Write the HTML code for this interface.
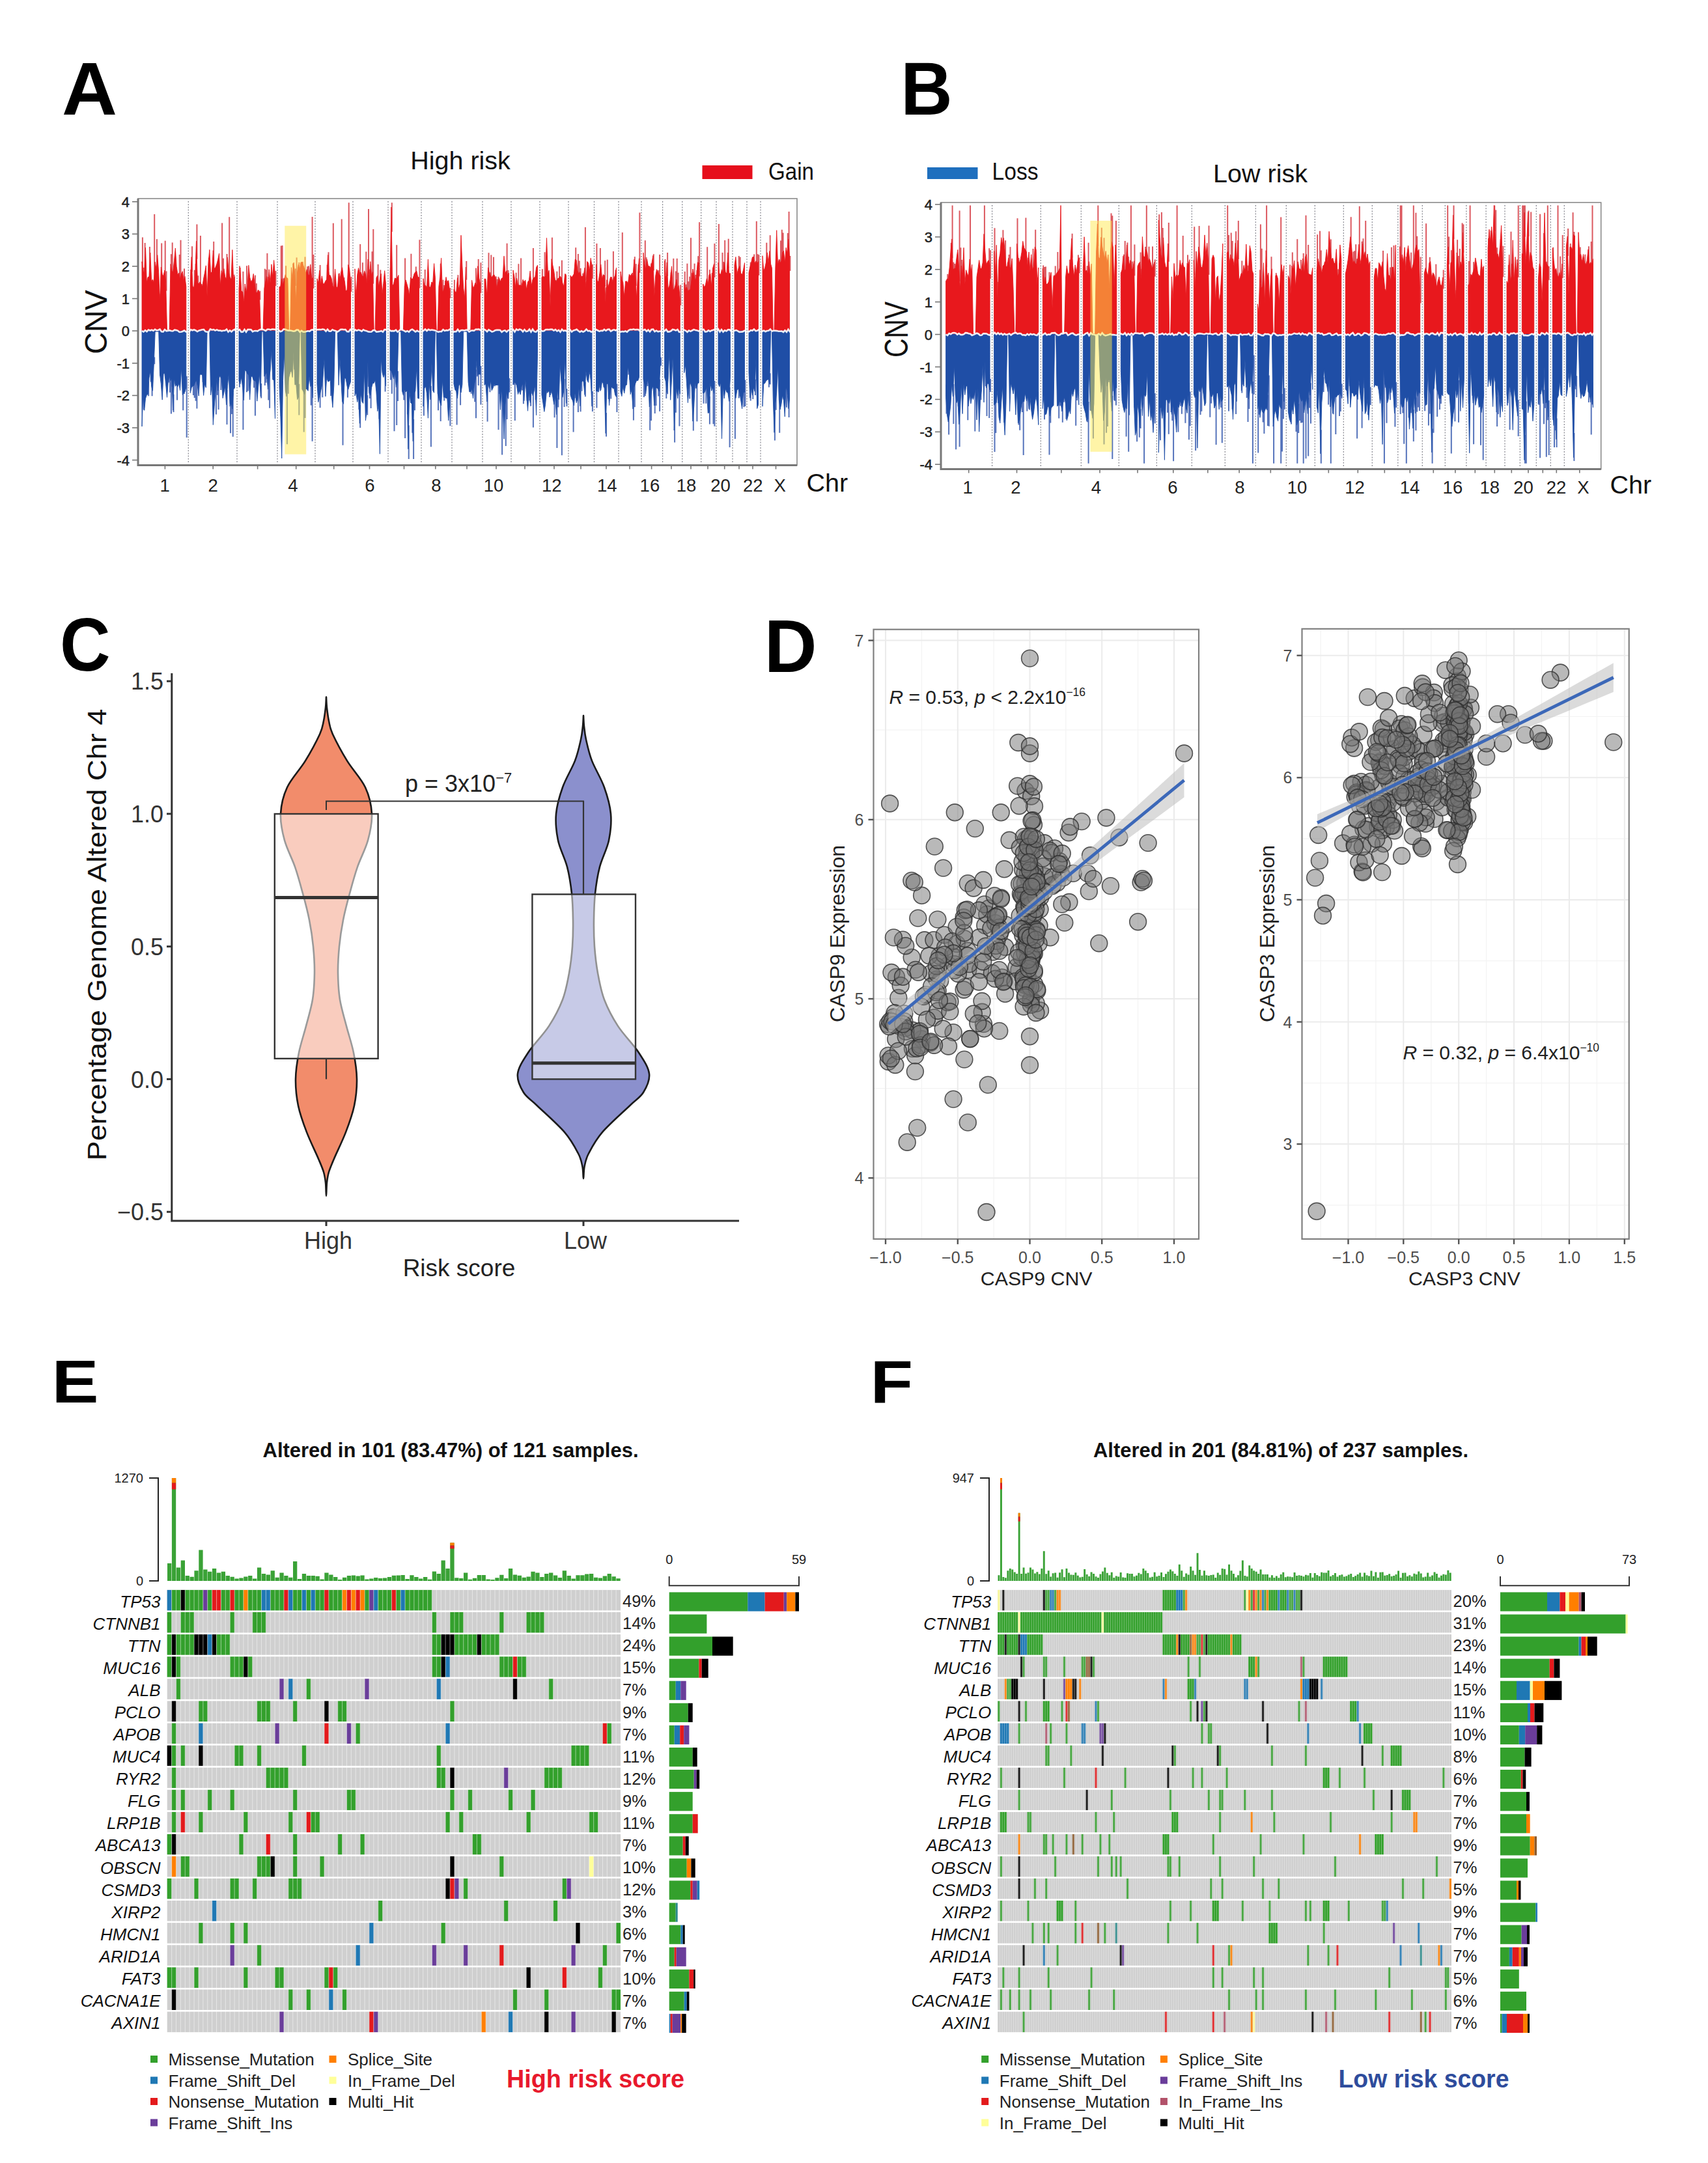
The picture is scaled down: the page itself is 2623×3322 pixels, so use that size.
<!DOCTYPE html>
<html lang="en"><head><meta charset="utf-8"><title>Figure</title>
<style>
html,body{margin:0;padding:0;background:#fff;}
body{width:2623px;height:3322px;overflow:hidden;}
svg{display:block;font-family:"Liberation Sans",sans-serif;}
.pl{font-weight:bold;font-size:105px;fill:#000;}
.g{font-style:italic;font-size:26px;fill:#111;text-anchor:end;}
.pc{font-size:25.5px;fill:#222;}
.lg{font-size:26px;fill:#222;}
.sm{font-size:20px;fill:#222;}
.tk{font-size:25px;fill:#4d4d4d;}
.ax{font-size:31px;fill:#222;}
.ct{font-size:22px;fill:#222;text-anchor:end;stroke:#222;stroke-width:.5px;}
.cx{font-size:27.5px;fill:#222;text-anchor:middle;}
.pt{fill:#747474;fill-opacity:.5;stroke:#2e2e2e;stroke-opacity:.8;stroke-width:1.6;}
</style></head>
<body>
<svg width="2623" height="3322" viewBox="0 0 2623 3322">
<rect x="0" y="0" width="2623" height="3322" fill="#ffffff"/>
<text transform="translate(94.9 176.3) scale(1.020 1)" font-weight="bold" font-size="115.4" fill="#000">A</text>
<text transform="translate(1383.2 176.3) scale(0.953 1)" font-weight="bold" font-size="115.4" fill="#000">B</text>
<text transform="translate(92.1 1029.9) scale(0.938 1)" font-weight="bold" font-size="114.5" fill="#000">C</text>
<text transform="translate(1173.8 1031.5) scale(0.967 1)" font-weight="bold" font-size="115.6" fill="#000">D</text>
<text transform="translate(79.5 2154.0) scale(1.165 1)" font-weight="bold" font-size="92.7" fill="#000">E</text>
<text transform="translate(1336.5 2154.0) scale(1.159 1)" font-weight="bold" font-size="92.7" fill="#000">F</text>
<g><path d="M218.9 423.1V364.4M220.7 434.8V410.9M222.6 436.4V373.1M229.9 441.6V379.0M237.2 449.1V329.1M240.9 432.3V367.3M246.4 472.6V451.4M248.2 429.8V373.6M253.7 433.7V369.8M255.5 446.7V416.4M262.9 426.1V390.3M264.7 434.5V372.4M275.7 436.8V391.1M277.5 444.6V368.8M279.4 438.0V419.9M283.0 446.0V412.4M293.2 448.8V414.1M295.0 417.4V378.3M298.7 454.7V414.7M300.6 444.5V404.9M302.4 397.8V344.5M304.3 448.9V423.2M307.9 447.9V362.1M309.8 450.8V436.2M320.8 426.2V395.7M326.4 435.5V414.9M328.2 409.4V370.9M333.8 426.0V404.7M341.1 434.2V342.4M343.0 439.3V396.8M348.5 445.0V390.1M352.2 436.3V333.2M359.6 447.1V421.8M367.9 456.9V408.5M373.4 460.9V417.1M379.0 460.4V408.2M386.4 448.3V430.4M391.9 450.0V422.8M393.8 460.8V435.2M399.3 460.5V446.8M406.8 456.0V412.7M408.6 447.9V414.2M410.4 441.4V389.0M412.3 453.0V425.3M423.4 439.3V416.0M431.7 453.8V377.5M433.6 444.1V376.9M435.4 451.8V427.5M437.3 445.8V426.7M439.1 439.0V408.3M450.1 445.7V404.6M453.8 439.0V412.4M455.6 474.5V395.5M457.5 435.8V417.5M459.3 426.5V403.1M464.8 423.7V401.9M468.5 432.1V394.6M472.2 432.5V409.3M474.0 439.3V408.4M479.6 444.1V332.9M481.4 442.9V391.0M489.7 449.5V433.2M491.6 433.8V407.1M502.6 445.0V406.8M504.5 415.0V387.2M511.8 452.8V342.7M519.2 456.3V440.7M521.0 438.1V419.4M522.8 445.4V429.4M524.7 435.8V336.6M528.4 442.9V426.0M535.7 426.9V311.3M539.4 448.2V425.0M547.7 469.8V445.1M553.2 436.9V375.0M556.9 440.5V403.2M562.3 438.8V386.6M566.0 420.2V321.0M567.8 446.8V413.8M571.5 440.3V386.3M573.3 435.7V351.9M580.6 440.4V405.9M584.3 444.7V414.4M599.9 448.6V411.2M601.8 356.1V311.3M603.6 454.1V437.3M609.2 444.1V376.2M622.1 453.4V396.4M629.6 464.8V442.6M631.4 442.4V389.7M635.1 443.8V424.8M638.8 435.8V409.6M644.4 442.5V368.2M652.7 452.5V414.0M660.1 454.1V440.3M676.7 442.0V404.7M680.4 460.9V429.7M682.2 458.0V437.9M684.0 453.5V431.1M687.7 449.8V431.1M691.4 457.9V442.2M697.9 457.0V429.7M703.4 442.9V422.3M705.3 458.4V441.3M707.1 450.4V431.6M716.3 429.7V401.0M731.0 448.9V411.7M734.7 428.6V397.9M738.4 450.1V403.3M750.5 430.3V388.3M752.4 437.5V418.3M754.3 440.5V391.5M758.0 440.0V394.7M761.8 442.9V424.5M763.6 456.5V428.8M765.5 449.0V425.0M778.6 434.3V373.7M780.5 439.9V415.0M792.6 455.3V418.7M796.4 451.6V405.2M800.1 452.0V396.6M811.4 448.1V433.1M818.9 445.2V381.0M832.9 442.7V413.2M836.6 442.1V387.2M847.9 419.9V364.7M853.5 446.3V430.0M855.4 447.7V416.7M857.3 444.5V427.2M859.1 443.2V409.1M862.9 442.8V399.8M868.5 438.2V420.5M882.4 438.0V418.7M884.2 420.2V380.2M887.9 434.2V390.0M889.7 437.9V400.4M891.6 435.7V412.1M895.2 441.4V419.8M897.1 440.1V422.3M898.9 430.7V349.1M900.7 455.2V431.4M909.9 428.0V406.0M916.4 426.3V374.0M921.9 437.0V381.1M929.2 440.1V400.3M931.0 474.6V441.2M932.8 445.5V398.7M941.9 447.9V386.0M945.6 440.1V414.4M955.8 445.3V357.0M959.6 466.8V450.3M971.0 438.2V419.1M974.8 420.4V394.2M976.7 439.1V405.3M980.5 437.7V406.3M982.4 419.1V326.6M990.8 426.5V369.2M992.6 432.8V395.3M1000.1 431.3V404.5M1003.8 415.6V390.3M1011.3 435.7V414.9M1013.1 438.9V391.0M1021.5 422.1V397.9M1023.3 447.5V423.5M1025.1 424.1V387.9M1030.6 442.2V418.2M1034.3 456.8V396.9M1037.9 452.2V416.6M1039.7 445.0V397.1M1041.6 456.4V418.8M1045.2 469.0V437.4M1051.7 449.0V417.0M1053.6 458.0V436.8M1055.4 454.1V404.8M1057.3 459.1V432.2M1059.2 458.0V424.8M1061.0 457.5V365.3M1062.9 445.5V419.3M1066.6 438.9V404.7M1068.5 446.5V422.1M1070.4 442.5V414.9M1072.2 423.9V393.3M1074.1 424.6V341.2M1086.2 443.9V379.2M1089.9 439.3V414.2M1093.7 454.2V419.1M1097.4 425.9V374.1M1103.9 424.3V344.1M1109.5 432.8V388.1M1111.3 437.5V402.1M1113.2 424.5V369.0M1118.7 412.0V366.7M1134.7 431.9V392.9M1136.7 428.5V394.7M1152.7 429.7V402.7M1158.2 417.0V390.5M1161.8 422.3V339.8M1163.6 425.1V390.3M1165.4 423.0V391.3M1177.3 424.2V372.8M1182.7 410.0V361.3M1197.2 420.5V398.5M1199.0 424.7V369.4M1200.8 422.5V352.7M1202.6 411.9V357.6M1209.8 413.2V358.0M1211.6 395.5V325.1M1213.4 416.0V393.0" stroke="#dc5960" stroke-width="2" fill="none"/><path d="M218.0 508.2L218.0 401.8L219.8 416.4L221.7 418.4L223.5 380.4L225.3 433.5L227.2 425.6L229.0 425.0L230.8 388.2L232.7 432.2L234.5 429.0L236.3 434.3L238.2 402.3L240.0 413.3L241.8 391.7L243.7 418.5L245.5 463.7L247.3 410.2L249.2 421.3L251.0 423.8L252.8 415.1L254.6 431.3L256.5 507.2L258.3 507.2L260.1 507.2L262.0 405.6L263.8 416.1L265.6 418.1L267.5 400.6L269.3 381.1L271.1 409.3L273.0 421.7L274.8 419.0L276.6 428.8L278.5 420.4L280.3 416.7L282.1 430.4L284.0 424.5L285.8 440.3L285.8 508.2ZM292.3 508.2L292.3 433.9L294.1 394.6L296.0 439.7L297.8 441.4L299.7 428.5L301.5 370.2L303.4 434.1L305.2 436.1L307.0 432.9L308.9 436.4L310.7 440.5L312.6 427.9L314.4 419.0L316.3 407.9L318.1 454.9L319.9 405.6L321.8 383.5L323.6 419.2L325.5 417.3L327.3 384.7L329.2 413.0L331.0 410.4L332.9 405.5L334.7 398.3L336.5 389.3L338.4 439.2L340.2 415.7L342.1 422.1L343.9 412.7L345.8 425.5L347.6 429.1L349.4 395.1L351.3 418.3L353.1 425.6L355.0 429.4L356.8 383.6L358.7 431.9L360.5 424.7L360.5 508.2ZM367.0 508.2L367.0 444.1L368.9 411.0L370.7 446.2L372.6 449.1L374.4 465.1L376.2 436.1L378.1 448.5L379.9 443.0L381.8 407.4L383.6 425.5L385.5 433.3L387.4 431.1L389.2 420.5L391.1 435.4L392.9 449.0L394.8 449.7L396.6 445.0L398.4 448.6L400.3 507.2L402.1 507.2L404.0 507.2L405.9 442.9L407.7 432.9L409.6 424.7L411.4 439.2L413.2 413.8L415.1 435.0L416.9 405.9L418.8 426.1L420.6 399.6L422.5 422.1L422.5 508.2ZM429.0 508.2L429.0 440.4L430.8 440.2L432.7 428.1L434.5 437.7L436.4 430.2L438.2 421.7L440.0 426.3L441.9 427.6L443.7 507.2L445.6 507.2L447.4 410.8L449.2 430.0L451.1 403.3L452.9 421.7L454.8 466.1L456.6 417.7L458.4 406.1L460.3 413.7L462.1 402.9L463.9 402.5L465.8 407.5L467.6 413.1L469.5 419.4L471.3 413.6L473.1 422.0L475.0 423.1L476.8 406.1L478.7 428.1L480.5 426.6L480.5 508.2ZM487.0 508.2L487.0 427.8L488.8 434.8L490.7 415.2L492.5 437.3L494.4 423.9L496.2 436.1L498.0 435.7L499.9 431.4L501.7 429.2L503.6 391.6L505.4 422.5L507.2 422.9L509.1 427.7L510.9 439.0L512.8 441.7L514.6 413.3L516.4 439.3L518.3 443.3L520.1 420.6L521.9 429.7L523.8 417.7L525.6 410.8L527.5 426.6L529.3 432.2L531.1 446.9L533.0 445.6L534.8 406.6L536.7 413.0L538.5 433.2L538.5 508.2ZM545.0 508.2L545.0 412.9L546.8 460.3L548.7 422.2L550.5 411.5L552.3 419.1L554.1 418.0L556.0 423.6L557.8 425.0L559.6 415.8L561.4 421.4L563.3 435.5L565.1 398.2L566.9 431.4L568.8 401.6L570.6 423.4L572.4 417.6L574.2 507.2L576.1 507.2L577.9 426.7L579.7 423.4L581.5 440.2L583.4 428.9L585.2 420.4L587.0 451.3L588.8 435.3L590.7 415.7L592.5 436.2L592.5 508.2ZM599.0 508.2L599.0 433.6L600.9 318.1L602.7 440.5L604.6 435.7L606.4 427.0L608.3 428.1L610.1 426.6L612.0 422.6L613.8 507.2L615.7 507.2L617.5 507.2L619.4 507.2L621.2 439.7L623.1 429.9L625.0 436.4L626.8 443.0L628.7 453.9L630.5 426.0L632.4 428.6L634.2 427.7L636.1 420.5L637.9 417.8L639.8 416.1L641.6 425.2L643.5 426.0L643.5 508.2ZM650.0 508.2L650.0 427.8L651.8 438.5L653.7 438.3L655.5 442.3L657.4 398.3L659.2 440.6L661.0 442.1L662.9 433.1L664.7 434.7L666.6 404.7L668.4 426.9L670.2 507.2L672.1 507.2L673.9 439.8L675.8 425.4L677.6 396.4L679.5 449.0L681.3 445.4L683.1 439.8L685.0 425.5L686.8 435.2L688.7 430.7L690.5 445.3L690.5 508.2ZM697.0 508.2L697.0 444.2L698.8 447.8L700.7 448.9L702.5 426.6L704.4 445.9L706.2 436.0L708.0 361.3L709.9 408.9L711.7 442.4L713.6 457.7L715.4 410.1L717.2 507.2L719.1 507.2L720.9 507.2L722.8 507.2L724.6 430.3L726.5 442.4L728.3 439.6L730.1 434.1L732.0 438.2L733.8 408.7L735.7 427.1L737.5 435.6L737.5 508.2ZM744.0 508.2L744.0 428.2L745.9 428.4L747.8 454.7L749.6 410.9L751.5 419.8L753.4 423.6L755.2 426.2L757.1 423.0L759.0 422.0L760.9 426.6L762.8 443.5L764.6 434.2L766.5 427.0L768.4 432.6L770.2 427.5L772.1 426.7L774.0 393.3L775.9 419.5L777.8 415.8L779.6 422.8L781.5 419.1L781.5 508.2ZM788.0 508.2L788.0 414.9L789.9 425.1L791.8 442.1L793.6 427.3L795.5 437.4L797.4 438.1L799.2 437.9L801.1 439.0L803.0 429.3L804.9 433.3L806.8 430.1L808.6 445.0L810.5 433.1L812.4 430.5L814.2 416.1L816.1 438.9L818.0 429.4L819.9 426.5L821.8 425.4L823.6 410.7L825.5 407.3L825.5 508.2ZM832.0 508.2L832.0 426.3L833.9 424.4L835.8 425.6L837.6 423.5L839.5 365.5L841.4 419.9L843.2 415.2L845.1 470.8L847.0 397.8L848.9 407.7L850.8 416.8L852.6 430.8L854.5 432.6L856.4 428.6L858.2 426.9L860.1 424.2L862.0 426.5L863.9 434.8L865.8 439.8L867.6 420.7L869.5 423.0L869.5 508.2ZM876.0 508.2L876.0 423.1L877.8 426.0L879.7 423.6L881.5 420.4L883.3 398.2L885.2 399.6L887.0 415.7L888.8 420.3L890.7 417.5L892.5 424.6L894.3 424.6L896.2 423.0L898.0 411.3L899.8 442.0L901.7 401.6L903.5 403.6L905.3 416.4L907.2 396.4L909.0 408.0L909.0 508.2ZM915.5 508.2L915.5 405.8L917.3 431.1L919.1 432.6L921.0 419.2L922.8 406.3L924.6 428.8L926.4 421.6L928.3 423.1L930.1 466.3L931.9 429.8L933.7 441.8L935.6 434.6L937.4 425.7L939.2 425.5L941.0 432.9L942.9 426.7L944.7 423.1L946.5 411.4L946.5 508.2ZM953.0 508.2L953.0 417.0L954.9 429.6L956.8 433.7L958.7 456.5L960.6 432.0L962.5 431.9L964.4 435.4L966.3 421.3L968.2 423.7L970.1 420.7L972.0 424.3L973.9 398.4L975.8 421.8L977.7 458.9L979.6 420.1L981.5 396.9L981.5 508.2ZM988.0 508.2L988.0 388.2L989.9 406.0L991.7 413.9L993.6 398.1L995.5 409.3L997.3 408.4L999.2 412.1L1001.0 403.6L1002.9 392.5L1004.8 455.6L1006.6 424.4L1008.5 413.7L1010.4 417.6L1012.2 421.6L1014.1 423.6L1014.1 508.2ZM1020.6 508.2L1020.6 400.6L1022.4 432.3L1024.2 403.1L1026.1 443.5L1027.9 439.1L1029.7 425.6L1031.5 408.9L1033.4 443.9L1035.2 445.0L1037.0 438.3L1038.8 429.2L1040.7 443.4L1042.5 438.5L1044.3 459.2L1044.3 508.2ZM1050.8 508.2L1050.8 434.2L1052.7 445.5L1054.5 440.6L1056.4 446.9L1058.3 445.4L1060.1 444.8L1062.0 429.8L1063.9 413.0L1065.7 421.5L1067.6 431.0L1069.5 426.1L1071.3 402.8L1073.2 403.7L1073.2 508.2ZM1079.7 508.2L1079.7 436.1L1081.6 441.1L1083.4 437.7L1085.3 427.9L1087.2 437.2L1089.0 422.1L1090.9 420.3L1092.8 440.7L1094.6 412.0L1096.5 405.4L1096.5 508.2ZM1103.0 508.2L1103.0 403.3L1104.8 420.3L1106.7 421.6L1108.5 413.9L1110.4 419.8L1112.2 403.5L1114.1 418.0L1116.0 420.0L1117.8 388.0L1119.7 420.0L1121.5 419.7L1121.5 508.2ZM1128.0 508.2L1128.0 407.2L1129.9 394.6L1131.9 420.5L1133.8 412.9L1135.8 408.6L1137.7 419.6L1139.6 422.0L1141.6 414.2L1143.5 403.7L1143.5 508.2ZM1150.0 508.2L1150.0 418.8L1151.8 410.1L1153.6 403.6L1155.4 395.1L1157.2 394.2L1159.1 404.6L1160.9 400.8L1162.7 404.3L1164.5 401.7L1164.5 508.2ZM1171.0 508.2L1171.0 392.8L1172.8 415.8L1174.6 411.4L1176.4 403.2L1178.2 387.9L1180.0 403.7L1181.8 385.5L1183.6 405.4L1185.4 411.5L1187.2 507.2L1189.0 507.2L1190.8 413.8L1192.7 353.7L1194.5 406.3L1196.3 398.5L1198.1 403.8L1199.9 401.1L1201.7 387.8L1203.5 385.1L1205.3 403.6L1207.1 380.4L1208.9 389.4L1210.7 367.3L1212.5 393.0L1212.5 508.2Z" fill="#e8181d" stroke="#e8181d" stroke-width=".9" stroke-linejoin="round"/><path d="M220.7 585.2V629.5M228.1 586.0V608.2M231.7 557.4V586.5M233.6 576.5V608.2M237.2 548.6V559.3M246.4 561.7V577.6M259.2 570.7V587.4M261.0 563.6V602.7M262.9 569.4V635.5M264.7 566.5V594.1M266.5 605.8V633.0M272.0 574.3V614.6M279.4 553.1V568.5M281.2 586.8V630.2M283.0 584.1V604.9M286.7 577.7V672.1M296.9 575.6V607.1M298.7 575.6V611.0M300.6 571.1V615.8M302.4 568.6V627.5M311.6 562.3V587.0M331.9 583.2V636.4M333.8 566.0V606.7M335.6 581.7V629.1M337.4 564.6V579.6M339.3 563.1V598.9M341.1 567.4V586.9M346.7 576.2V605.5M348.5 599.0V652.1M354.0 600.9V665.3M355.9 597.0V636.1M357.7 604.1V670.7M367.9 569.5V594.8M373.4 578.0V660.1M379.0 557.8V602.3M380.8 560.8V600.4M390.1 568.9V595.6M391.9 569.1V638.4M401.2 589.0V611.6M406.8 564.1V591.9M408.6 561.4V587.7M410.4 558.7V582.2M412.3 579.9V614.4M414.1 566.0V626.8M431.7 610.4V638.9M440.9 588.9V682.2M442.8 574.9V604.8M448.3 556.3V570.0M452.0 532.4V567.4M459.3 589.7V637.6M466.7 582.3V663.5M468.5 586.3V642.0M470.4 578.7V598.1M477.7 576.5V622.5M479.6 573.9V677.7M491.6 587.9V626.2M495.3 575.4V610.2M508.1 568.2V607.9M526.5 594.9V683.8M533.9 575.9V610.5M547.7 583.4V605.7M551.4 586.7V629.0M553.2 621.9V657.1M564.2 606.9V637.6M566.0 542.8V594.1M567.8 584.6V612.1M569.6 587.4V627.0M582.4 597.7V643.6M591.6 560.2V601.5M599.9 556.6V583.6M601.8 557.2V604.7M605.5 567.2V662.3M609.2 577.4V653.0M611.0 570.1V616.1M620.3 587.4V614.6M622.1 579.8V672.9M625.9 581.6V636.5M627.7 653.3V705.1M633.3 597.7V664.8M635.1 643.8V705.1M637.0 584.5V630.3M650.9 600.9V638.6M656.4 585.0V607.3M661.9 592.7V686.2M673.0 585.1V630.2M676.7 596.5V647.0M682.2 589.8V615.5M691.4 599.8V654.3M697.9 573.5V589.8M701.6 582.3V652.4M707.1 572.4V622.2M723.7 583.0V604.8M729.2 575.3V617.2M731.0 567.4V642.3M732.9 544.2V578.3M734.7 562.5V592.1M738.4 561.9V621.6M748.6 595.3V647.5M752.4 578.9V602.2M754.3 569.3V585.7M759.9 573.7V593.3M765.5 574.6V660.1M767.4 574.7V604.9M771.1 579.3V698.5M776.8 598.5V684.9M778.6 581.0V644.1M780.5 590.4V612.6M782.4 580.9V602.5M788.9 574.3V591.1M790.8 571.0V646.1M802.0 576.0V599.4M803.9 572.9V620.3M809.5 587.0V615.5M813.3 582.2V615.3M815.1 596.4V623.7M817.0 577.9V604.8M818.9 587.6V656.6M822.6 575.0V614.0M832.9 587.0V606.8M840.4 581.2V603.8M844.1 581.8V610.0M851.6 598.7V641.3M855.4 611.0V688.0M857.3 580.1V625.6M862.9 570.9V699.2M866.6 581.9V624.9M870.4 597.1V624.2M880.6 594.3V663.5M884.2 582.5V611.4M887.9 592.0V632.9M891.6 600.6V632.2M893.4 571.7V600.7M897.1 570.7V592.3M898.9 586.8V609.3M906.2 556.1V575.1M909.9 600.9V631.9M916.4 582.3V626.5M921.9 574.2V600.6M927.3 573.0V594.5M931.0 634.1V670.5M934.6 572.6V613.1M938.3 581.9V612.5M943.8 578.6V597.0M947.4 589.4V632.9M965.3 551.9V575.6M967.2 560.0V583.3M972.9 604.1V645.4M974.8 577.1V625.3M988.9 567.7V610.1M990.8 573.0V608.2M994.5 571.8V593.1M996.4 566.1V588.5M998.2 601.6V660.7M1000.1 590.2V646.1M1003.8 576.0V597.5M1005.7 600.0V635.1M1007.5 578.7V623.1M1011.3 579.4V608.6M1013.1 582.5V631.8M1015.0 548.8V561.7M1023.3 570.4V612.0M1025.1 584.0V605.3M1028.8 532.4V554.2M1034.3 536.1V552.6M1036.1 630.4V679.5M1037.9 591.3V633.7M1043.4 577.6V654.5M1059.2 575.2V612.4M1064.8 619.2V661.6M1068.5 570.7V596.5M1070.4 578.8V647.3M1080.6 584.8V619.7M1084.3 581.2V619.8M1089.9 608.7V651.4M1091.8 571.5V592.9M1095.5 577.5V651.2M1097.4 585.1V654.7M1120.6 594.7V687.1M1128.9 579.6V673.9M1134.7 579.3V611.5M1136.7 584.0V608.4M1138.6 593.4V615.7M1142.5 584.1V625.2M1144.4 583.5V624.0M1152.7 590.6V615.4M1156.3 587.4V612.9M1160.0 582.7V606.9M1161.8 542.1V584.0M1180.9 567.6V594.7M1182.7 573.3V590.5M1189.9 633.0V676.6M1191.7 596.9V629.7M1197.2 592.9V664.8M1208.0 577.2V625.8M1209.8 581.4V605.9M1211.6 603.8V641.1" stroke="#5573bb" stroke-width="2" fill="none"/><path d="M218.0 508.2L218.0 655.0L219.8 604.4L221.7 630.3L223.5 611.9L225.3 606.8L227.2 605.5L229.0 580.6L230.8 569.7L232.7 593.6L234.5 600.2L236.3 558.7L238.2 509.2L240.0 509.2L241.8 509.2L243.7 509.2L245.5 575.0L247.3 589.6L249.2 614.1L251.0 574.0L252.8 573.2L254.6 589.6L256.5 610.3L258.3 586.3L260.1 577.5L262.0 584.7L263.8 581.1L265.6 630.2L267.5 581.4L269.3 593.4L271.1 590.8L273.0 593.7L274.8 589.2L276.6 599.5L278.5 564.3L280.3 606.4L282.1 603.1L284.0 601.9L285.8 595.0L285.8 508.2ZM292.3 508.2L292.3 603.5L294.1 595.6L296.0 592.4L297.8 592.4L299.7 586.9L301.5 583.7L303.4 593.2L305.2 608.1L307.0 575.3L308.9 575.1L310.7 575.8L312.6 607.4L314.4 589.8L316.3 595.3L318.1 509.2L319.9 509.2L321.8 509.2L323.6 606.7L325.5 588.6L327.3 652.5L329.2 624.2L331.0 602.0L332.9 580.5L334.7 600.1L336.5 578.6L338.4 576.8L340.2 582.1L342.1 611.5L343.9 603.0L345.8 593.2L347.6 621.7L349.4 592.5L351.3 574.2L353.1 624.1L355.0 619.2L356.8 628.1L358.7 597.9L360.5 595.8L360.5 508.2ZM367.0 508.2L367.0 584.8L368.9 589.9L370.7 578.9L372.6 595.4L374.4 614.7L376.2 568.2L378.1 570.2L379.9 573.9L381.8 576.0L383.6 614.0L385.5 579.1L387.4 577.5L389.2 584.1L391.1 584.4L392.9 585.8L394.8 616.1L396.6 594.9L398.4 573.5L400.3 609.2L402.1 509.2L404.0 509.2L405.9 578.1L407.7 574.7L409.6 571.4L411.4 597.9L413.2 580.5L415.1 568.8L416.9 538.1L418.8 583.0L420.6 584.1L422.5 642.9L422.5 508.2ZM429.0 508.2L429.0 593.9L430.8 635.9L432.7 704.0L434.5 584.6L436.4 542.6L438.2 599.6L440.0 609.0L441.9 591.6L443.7 579.7L445.6 572.3L447.4 568.3L449.2 579.6L451.1 538.4L452.9 591.0L454.8 590.4L456.6 613.7L458.4 610.1L460.3 509.2L462.1 509.2L463.9 597.9L465.8 600.9L467.6 605.8L469.5 596.3L471.3 597.6L473.1 600.3L475.0 578.2L476.8 593.6L478.7 590.4L480.5 611.1L480.5 508.2ZM487.0 508.2L487.0 590.1L488.8 617.6L490.7 607.8L492.5 600.9L494.4 592.2L496.2 576.4L498.0 551.7L499.9 608.9L501.7 579.8L503.6 585.9L505.4 585.7L507.2 583.2L509.1 605.9L510.9 625.8L512.8 592.3L514.6 509.2L516.4 509.2L518.3 509.2L520.1 591.5L521.9 550.1L523.8 584.8L525.6 616.6L527.5 620.3L529.3 580.3L531.1 581.4L533.0 592.8L534.8 598.2L536.7 591.5L538.5 586.4L538.5 508.2ZM545.0 508.2L545.0 608.0L546.8 602.3L548.7 617.5L550.5 606.3L552.3 650.3L554.1 603.6L556.0 617.2L557.8 619.5L559.6 567.8L561.4 646.0L563.3 631.5L565.1 551.4L566.9 603.7L568.8 607.2L570.6 595.3L572.4 588.5L574.2 588.6L576.1 584.0L577.9 601.9L579.7 631.7L581.5 620.1L583.4 697.2L585.2 549.7L587.0 572.0L588.8 579.5L590.7 573.2L592.5 593.0L592.5 508.2ZM599.0 508.2L599.0 568.7L600.9 569.5L602.7 574.5L604.6 582.0L606.4 572.2L608.3 594.7L610.1 585.6L612.0 509.2L613.8 509.2L615.7 509.2L617.5 600.6L619.4 607.2L621.2 597.7L623.1 601.9L625.0 599.9L626.8 689.6L628.7 598.8L630.5 618.5L632.4 620.1L634.2 677.7L636.1 603.6L637.9 600.6L639.8 564.1L641.6 611.6L643.5 612.2L643.5 508.2ZM650.0 508.2L650.0 624.1L651.8 596.4L653.7 593.4L655.5 604.2L657.4 642.2L659.2 588.3L661.0 613.8L662.9 556.7L664.7 599.9L666.6 603.2L668.4 509.2L670.2 509.2L672.1 604.4L673.9 611.3L675.8 618.5L677.6 622.9L679.5 583.8L681.3 610.2L683.1 609.9L685.0 611.7L686.8 611.3L688.7 645.9L690.5 622.8L690.5 508.2ZM697.0 508.2L697.0 589.8L698.8 598.4L700.7 600.9L702.5 611.8L704.4 593.3L706.2 588.4L708.0 602.9L709.9 590.6L711.7 509.2L713.6 509.2L715.4 509.2L717.2 509.2L719.1 586.8L720.9 602.0L722.8 601.6L724.6 596.8L726.5 611.8L728.3 592.1L730.1 582.2L732.0 553.2L733.8 576.0L735.7 574.4L737.5 575.3L737.5 508.2ZM744.0 508.2L744.0 591.5L745.9 589.5L747.8 617.0L749.6 589.5L751.5 596.6L753.4 584.6L755.2 599.7L757.1 595.9L759.0 590.1L760.9 591.4L762.8 591.5L764.6 591.2L766.5 591.4L768.4 629.3L770.2 597.0L772.1 617.9L774.0 674.2L775.9 621.1L777.8 599.2L779.6 611.0L781.5 599.1L781.5 508.2ZM788.0 508.2L788.0 590.8L789.9 586.7L791.8 588.3L793.6 592.5L795.5 605.6L797.4 599.8L799.2 606.1L801.1 592.9L803.0 589.1L804.9 615.6L806.8 582.9L808.6 606.7L810.5 631.2L812.4 600.7L814.2 618.4L816.1 595.4L818.0 607.4L819.9 601.8L821.8 591.6L823.6 637.7L825.5 542.3L825.5 508.2ZM832.0 508.2L832.0 606.7L833.9 618.9L835.8 632.3L837.6 621.3L839.5 599.4L841.4 602.4L843.2 600.2L845.1 607.0L847.0 600.3L848.9 609.8L850.8 621.3L852.6 608.7L854.5 636.7L856.4 598.1L858.2 613.6L860.1 560.2L862.0 586.5L863.9 610.3L865.8 600.3L867.6 549.7L869.5 619.3L869.5 508.2ZM876.0 508.2L876.0 606.7L877.8 612.2L879.7 615.9L881.5 623.0L883.3 601.1L885.2 618.7L887.0 613.0L888.8 593.9L890.7 623.6L892.5 587.6L894.3 584.8L896.2 586.3L898.0 606.4L899.8 569.8L901.7 583.8L903.5 587.4L905.3 568.0L907.2 584.2L909.0 624.1L909.0 508.2ZM915.5 508.2L915.5 600.8L917.3 600.7L919.1 602.2L921.0 590.7L922.8 598.8L924.6 585.7L926.4 589.2L928.3 597.0L930.1 665.6L931.9 590.6L933.7 588.7L935.6 622.6L937.4 600.3L939.2 593.9L941.0 596.5L942.9 596.2L944.7 606.7L946.5 609.6L946.5 508.2ZM953.0 508.2L953.0 601.3L954.9 608.6L956.8 593.0L958.7 604.1L960.6 592.2L962.5 591.0L964.4 562.8L966.3 573.0L968.2 605.7L970.1 598.3L972.0 628.1L973.9 594.3L975.8 588.9L977.7 584.2L979.6 584.8L981.5 579.6L981.5 508.2ZM988.0 508.2L988.0 582.6L989.9 589.2L991.7 604.7L993.6 587.8L995.5 580.5L997.3 625.0L999.2 610.8L1001.0 597.6L1002.9 593.0L1004.8 622.9L1006.6 596.3L1008.5 595.6L1010.4 597.2L1012.2 601.0L1014.1 559.0L1014.1 508.2ZM1020.6 508.2L1020.6 579.7L1022.4 585.9L1024.2 603.0L1026.1 582.8L1027.9 538.5L1029.7 614.3L1031.5 582.8L1033.4 543.1L1035.2 661.0L1037.0 612.1L1038.8 594.2L1040.7 612.1L1042.5 595.0L1044.3 605.1L1044.3 508.2ZM1050.8 508.2L1050.8 572.6L1052.7 560.4L1054.5 588.5L1056.4 618.6L1058.3 591.9L1060.1 587.4L1062.0 594.0L1063.9 647.0L1065.7 624.8L1067.6 586.3L1069.5 596.4L1071.3 588.8L1073.2 588.1L1073.2 508.2ZM1079.7 508.2L1079.7 603.9L1081.6 603.4L1083.4 599.4L1085.3 594.8L1087.2 634.4L1089.0 633.8L1090.9 587.4L1092.8 600.4L1094.6 594.8L1096.5 604.3L1096.5 508.2ZM1103.0 508.2L1103.0 589.1L1104.8 593.9L1106.7 587.8L1108.5 673.8L1110.4 592.7L1112.2 612.0L1114.1 596.9L1116.0 602.6L1117.8 602.8L1119.7 616.3L1121.5 578.1L1121.5 508.2ZM1128.0 508.2L1128.0 597.5L1129.9 611.7L1131.9 599.2L1133.8 597.0L1135.8 602.9L1137.7 614.7L1139.6 627.9L1141.6 603.1L1143.5 602.3L1143.5 508.2ZM1150.0 508.2L1150.0 572.2L1151.8 611.2L1153.6 595.4L1155.4 607.2L1157.2 594.9L1159.1 601.3L1160.9 550.6L1162.7 627.5L1164.5 621.6L1164.5 508.2ZM1171.0 508.2L1171.0 624.2L1172.8 589.5L1174.6 588.7L1176.4 584.9L1178.2 583.5L1180.0 582.4L1181.8 589.5L1183.6 509.2L1185.4 509.2L1187.2 609.3L1189.0 664.3L1190.8 619.1L1192.7 603.5L1194.5 562.5L1196.3 614.1L1198.1 628.9L1199.9 620.4L1201.7 607.0L1203.5 615.6L1205.3 640.0L1207.1 594.5L1208.9 599.8L1210.7 627.6L1212.5 613.1L1212.5 508.2Z" fill="#1f4ea6" stroke="#1f4ea6" stroke-width=".9" stroke-linejoin="round"/><path d="M218.0 508.2L220.5 509.7L223.0 507.2L225.5 509.2L228.0 506.6L230.5 507.7L233.0 506.7L235.5 507.9L238.0 505.8L240.5 507.4L243.0 506.9L245.5 505.7L248.0 509.2L250.5 509.6L253.0 506.2L255.5 508.3L258.0 507.9L260.5 507.4L263.0 508.2L265.5 508.5L268.0 506.7L270.5 507.1L273.0 507.8L275.5 510.0L278.0 509.7L280.5 509.0L283.0 507.6L285.5 509.6L288.0 509.9L290.5 509.5L293.0 506.4L295.5 507.3L298.0 506.5L300.5 507.5L303.0 509.3L305.5 507.7L308.0 507.0L310.5 506.2L313.0 506.1L315.5 509.2L318.0 509.8L320.5 509.5L323.0 505.5L325.5 506.7L328.0 506.1L330.5 507.6L333.0 506.4L335.5 507.7L338.0 507.5L340.5 508.3L343.0 507.8L345.5 507.8L348.0 505.7L350.5 509.7L353.0 507.4L355.5 509.4L358.0 507.0L360.5 505.9L363.0 510.0L365.5 507.7L368.0 506.3L370.5 509.8L373.0 509.7L375.5 506.0L378.0 509.8L380.5 506.1L383.0 506.1L385.5 506.2L388.0 509.4L390.5 508.2L393.0 508.0L395.5 508.6L398.0 506.8L400.5 505.8L403.0 505.9L405.5 506.6L408.0 508.1L410.5 505.8L413.0 505.7L415.5 506.4L418.0 505.5L420.5 505.8L423.0 506.1L425.5 506.0L428.0 507.0L430.5 509.3L433.0 508.5L435.5 505.5L438.0 505.8L440.5 507.0L443.0 507.6L445.5 507.5L448.0 507.9L450.5 508.7L453.0 508.4L455.5 506.6L458.0 506.7L460.5 510.0L463.0 507.9L465.5 509.6L468.0 509.7L470.5 509.1L473.0 508.3L475.5 508.8L478.0 506.8L480.5 506.4L483.0 507.3L485.5 506.3L488.0 506.3L490.5 506.0L493.0 506.3L495.5 505.6L498.0 506.1L500.5 508.8L503.0 505.7L505.5 508.7L508.0 508.7L510.5 506.3L513.0 507.6L515.5 508.2L518.0 509.7L520.5 508.2L523.0 506.1L525.5 505.8L528.0 506.3L530.5 506.1L533.0 509.2L535.5 509.3L538.0 506.0L540.5 509.0L543.0 509.6L545.5 506.5L548.0 507.8L550.5 506.6L553.0 507.4L555.5 508.9L558.0 506.4L560.5 507.8L563.0 508.3L565.5 509.4L568.0 509.8L570.5 509.6L573.0 507.3L575.5 507.1L578.0 509.6L580.5 509.4L583.0 509.1L585.5 508.2L588.0 509.8L590.5 506.1L593.0 506.3L595.5 508.9L598.0 506.7L600.5 508.3L603.0 508.1L605.5 508.3L608.0 506.7L610.5 509.8L613.0 508.0L615.5 505.5L618.0 506.9L620.5 507.8L623.0 509.4L625.5 508.2L628.0 509.8L630.5 507.0L633.0 505.7L635.5 507.5L638.0 509.6L640.5 507.9L643.0 509.3L645.5 509.3L648.0 509.5L650.5 507.7L653.0 505.6L655.5 508.1L658.0 505.9L660.5 507.2L663.0 506.6L665.5 507.1L668.0 507.6L670.5 508.6L673.0 509.8L675.5 509.3L678.0 509.2L680.5 506.2L683.0 508.1L685.5 507.2L688.0 507.5L690.5 505.9L693.0 507.6L695.5 509.8L698.0 509.4L700.5 509.2L703.0 505.9L705.5 509.3L708.0 507.3L710.5 507.0L713.0 507.7L715.5 506.9L718.0 506.7L720.5 509.6L723.0 508.1L725.5 507.6L728.0 507.9L730.5 505.8L733.0 505.9L735.5 505.6L738.0 507.1L740.5 509.5L743.0 505.7L745.5 506.8L748.0 509.4L750.5 506.4L753.0 507.8L755.5 509.6L758.0 508.9L760.5 507.3L763.0 506.9L765.5 506.7L768.0 507.0L770.5 509.9L773.0 508.1L775.5 507.5L778.0 509.7L780.5 507.3L783.0 506.6L785.5 507.8L788.0 506.0L790.5 509.7L793.0 505.5L795.5 507.2L798.0 505.6L800.5 506.5L803.0 509.4L805.5 506.2L808.0 509.0L810.5 508.5L813.0 505.7L815.5 509.8L818.0 505.7L820.5 509.2L823.0 509.8L825.5 507.3L828.0 507.2L830.5 507.2L833.0 508.6L835.5 508.3L838.0 506.2L840.5 506.1L843.0 506.2L845.5 505.9L848.0 505.9L850.5 507.7L853.0 506.1L855.5 508.6L858.0 506.9L860.5 509.8L863.0 505.8L865.5 508.3L868.0 507.5L870.5 508.8L873.0 505.6L875.5 506.3L878.0 509.7L880.5 507.6L883.0 507.1L885.5 505.9L888.0 508.1L890.5 509.9L893.0 508.3L895.5 509.8L898.0 508.4L900.5 505.6L903.0 508.3L905.5 508.0L908.0 509.9L910.5 509.1L913.0 508.7L915.5 506.1L918.0 507.5L920.5 508.9L923.0 507.9L925.5 508.1L928.0 505.9L930.5 507.9L933.0 505.9L935.5 505.6L938.0 508.8L940.5 507.3L943.0 506.4L945.5 507.6L948.0 505.9L950.5 508.3L953.0 509.8L955.5 509.1L958.0 509.4L960.5 508.5L963.0 509.8L965.5 507.4L968.0 506.0L970.5 506.3L973.0 505.5L975.5 506.4L978.0 506.0L980.5 506.2L983.0 508.9L985.5 507.2L988.0 507.0L990.5 506.0L993.0 508.9L995.5 506.7L998.0 509.5L1000.5 505.9L1003.0 505.6L1005.5 509.2L1008.0 507.7L1010.5 509.3L1013.0 508.7L1015.5 508.7L1018.0 506.7L1020.5 508.4L1023.0 506.0L1025.5 509.6L1028.0 509.4L1030.5 508.3L1033.0 506.0L1035.5 506.5L1038.0 507.6L1040.5 506.1L1043.0 509.8L1045.5 509.7L1048.0 507.7L1050.5 506.6L1053.0 507.8L1055.5 510.0L1058.0 507.5L1060.5 508.8L1063.0 507.5L1065.5 506.1L1068.0 506.9L1070.5 507.4L1073.0 508.6L1075.5 507.2L1078.0 506.5L1080.5 505.9L1083.0 509.7L1085.5 509.3L1088.0 507.4L1090.5 508.9L1093.0 507.4L1095.5 506.7L1098.0 505.8L1100.5 508.3L1103.0 505.5L1105.5 509.6L1108.0 506.2L1110.5 509.7L1113.0 507.3L1115.5 508.5L1118.0 506.4L1120.5 506.4L1123.0 509.0L1125.5 508.0L1128.0 508.0L1130.5 507.1L1133.0 508.3L1135.5 509.9L1138.0 509.8L1140.5 509.4L1143.0 508.0L1145.5 507.5L1148.0 509.3L1150.5 509.2L1153.0 507.2L1155.5 507.8L1158.0 505.5L1160.5 508.3L1163.0 507.8L1165.5 506.1L1168.0 509.8L1170.5 508.7L1173.0 507.7L1175.5 509.2L1178.0 508.0L1180.5 507.8L1183.0 505.6L1185.5 508.7L1188.0 507.7L1190.5 507.9L1193.0 508.1L1195.5 508.8L1198.0 508.7L1200.5 508.6L1203.0 510.0L1205.5 507.3L1208.0 509.9L1210.5 505.9L1213.0 509.3L1215.5 508.2L1218.0 507.6" fill="none" stroke="#fff" stroke-width="2.6" stroke-opacity=".9"/><line x1="289.3" y1="309.0" x2="289.3" y2="711.6" stroke="#5a5a66" stroke-width="1.2" stroke-dasharray="2 2.2" stroke-opacity=".75"/><line x1="364.0" y1="309.0" x2="364.0" y2="711.6" stroke="#5a5a66" stroke-width="1.2" stroke-dasharray="2 2.2" stroke-opacity=".75"/><line x1="426.0" y1="309.0" x2="426.0" y2="711.6" stroke="#5a5a66" stroke-width="1.2" stroke-dasharray="2 2.2" stroke-opacity=".75"/><line x1="484.0" y1="309.0" x2="484.0" y2="711.6" stroke="#5a5a66" stroke-width="1.2" stroke-dasharray="2 2.2" stroke-opacity=".75"/><line x1="542.0" y1="309.0" x2="542.0" y2="711.6" stroke="#5a5a66" stroke-width="1.2" stroke-dasharray="2 2.2" stroke-opacity=".75"/><line x1="596.0" y1="309.0" x2="596.0" y2="711.6" stroke="#5a5a66" stroke-width="1.2" stroke-dasharray="2 2.2" stroke-opacity=".75"/><line x1="647.0" y1="309.0" x2="647.0" y2="711.6" stroke="#5a5a66" stroke-width="1.2" stroke-dasharray="2 2.2" stroke-opacity=".75"/><line x1="694.0" y1="309.0" x2="694.0" y2="711.6" stroke="#5a5a66" stroke-width="1.2" stroke-dasharray="2 2.2" stroke-opacity=".75"/><line x1="741.0" y1="309.0" x2="741.0" y2="711.6" stroke="#5a5a66" stroke-width="1.2" stroke-dasharray="2 2.2" stroke-opacity=".75"/><line x1="785.0" y1="309.0" x2="785.0" y2="711.6" stroke="#5a5a66" stroke-width="1.2" stroke-dasharray="2 2.2" stroke-opacity=".75"/><line x1="829.0" y1="309.0" x2="829.0" y2="711.6" stroke="#5a5a66" stroke-width="1.2" stroke-dasharray="2 2.2" stroke-opacity=".75"/><line x1="873.0" y1="309.0" x2="873.0" y2="711.6" stroke="#5a5a66" stroke-width="1.2" stroke-dasharray="2 2.2" stroke-opacity=".75"/><line x1="912.5" y1="309.0" x2="912.5" y2="711.6" stroke="#5a5a66" stroke-width="1.2" stroke-dasharray="2 2.2" stroke-opacity=".75"/><line x1="950.0" y1="309.0" x2="950.0" y2="711.6" stroke="#5a5a66" stroke-width="1.2" stroke-dasharray="2 2.2" stroke-opacity=".75"/><line x1="985.0" y1="309.0" x2="985.0" y2="711.6" stroke="#5a5a66" stroke-width="1.2" stroke-dasharray="2 2.2" stroke-opacity=".75"/><line x1="1017.6" y1="309.0" x2="1017.6" y2="711.6" stroke="#5a5a66" stroke-width="1.2" stroke-dasharray="2 2.2" stroke-opacity=".75"/><line x1="1047.8" y1="309.0" x2="1047.8" y2="711.6" stroke="#5a5a66" stroke-width="1.2" stroke-dasharray="2 2.2" stroke-opacity=".75"/><line x1="1076.7" y1="309.0" x2="1076.7" y2="711.6" stroke="#5a5a66" stroke-width="1.2" stroke-dasharray="2 2.2" stroke-opacity=".75"/><line x1="1100.0" y1="309.0" x2="1100.0" y2="711.6" stroke="#5a5a66" stroke-width="1.2" stroke-dasharray="2 2.2" stroke-opacity=".75"/><line x1="1125.0" y1="309.0" x2="1125.0" y2="711.6" stroke="#5a5a66" stroke-width="1.2" stroke-dasharray="2 2.2" stroke-opacity=".75"/><line x1="1147.0" y1="309.0" x2="1147.0" y2="711.6" stroke="#5a5a66" stroke-width="1.2" stroke-dasharray="2 2.2" stroke-opacity=".75"/><line x1="1168.0" y1="309.0" x2="1168.0" y2="711.6" stroke="#5a5a66" stroke-width="1.2" stroke-dasharray="2 2.2" stroke-opacity=".75"/><rect x="437.3" y="346.8" width="32.9" height="350.9" fill="#ffea50" fill-opacity=".5"/><rect x="212.0" y="305.0" width="1012.0" height="409.6" fill="none" stroke="#8a8a8a" stroke-width="1.6"/><path d="M212.0 305.0V714.6H1224.0" fill="none" stroke="#777" stroke-width="3"/><line x1="203.0" y1="706.6" x2="212.0" y2="706.6" stroke="#777" stroke-width="1.6"/><text class="ct" x="199.0" y="714.6">-4</text><line x1="203.0" y1="657.0" x2="212.0" y2="657.0" stroke="#777" stroke-width="1.6"/><text class="ct" x="199.0" y="665.0">-3</text><line x1="203.0" y1="607.4" x2="212.0" y2="607.4" stroke="#777" stroke-width="1.6"/><text class="ct" x="199.0" y="615.4">-2</text><line x1="203.0" y1="557.8" x2="212.0" y2="557.8" stroke="#777" stroke-width="1.6"/><text class="ct" x="199.0" y="565.8">-1</text><line x1="203.0" y1="508.2" x2="212.0" y2="508.2" stroke="#777" stroke-width="1.6"/><text class="ct" x="199.0" y="516.2">0</text><line x1="203.0" y1="458.6" x2="212.0" y2="458.6" stroke="#777" stroke-width="1.6"/><text class="ct" x="199.0" y="466.6">1</text><line x1="203.0" y1="409.0" x2="212.0" y2="409.0" stroke="#777" stroke-width="1.6"/><text class="ct" x="199.0" y="417.0">2</text><line x1="203.0" y1="359.4" x2="212.0" y2="359.4" stroke="#777" stroke-width="1.6"/><text class="ct" x="199.0" y="367.4">3</text><line x1="203.0" y1="309.8" x2="212.0" y2="309.8" stroke="#777" stroke-width="1.6"/><text class="ct" x="199.0" y="317.8">4</text><line x1="253.4" y1="714.6" x2="253.4" y2="720.6" stroke="#777" stroke-width="1.6"/><line x1="327.2" y1="714.6" x2="327.2" y2="720.6" stroke="#777" stroke-width="1.6"/><line x1="395.6" y1="714.6" x2="395.6" y2="720.6" stroke="#777" stroke-width="1.6"/><line x1="454.7" y1="714.6" x2="454.7" y2="720.6" stroke="#777" stroke-width="1.6"/><line x1="512.7" y1="714.6" x2="512.7" y2="720.6" stroke="#777" stroke-width="1.6"/><line x1="567.5" y1="714.6" x2="567.5" y2="720.6" stroke="#777" stroke-width="1.6"/><line x1="620.5" y1="714.6" x2="620.5" y2="720.6" stroke="#777" stroke-width="1.6"/><line x1="668.8" y1="714.6" x2="668.8" y2="720.6" stroke="#777" stroke-width="1.6"/><line x1="717.0" y1="714.6" x2="717.0" y2="720.6" stroke="#777" stroke-width="1.6"/><line x1="762.0" y1="714.6" x2="762.0" y2="720.6" stroke="#777" stroke-width="1.6"/><line x1="806.0" y1="714.6" x2="806.0" y2="720.6" stroke="#777" stroke-width="1.6"/><line x1="851.0" y1="714.6" x2="851.0" y2="720.6" stroke="#777" stroke-width="1.6"/><line x1="892.0" y1="714.6" x2="892.0" y2="720.6" stroke="#777" stroke-width="1.6"/><line x1="931.0" y1="714.6" x2="931.0" y2="720.6" stroke="#777" stroke-width="1.6"/><line x1="967.0" y1="714.6" x2="967.0" y2="720.6" stroke="#777" stroke-width="1.6"/><line x1="1000.6" y1="714.6" x2="1000.6" y2="720.6" stroke="#777" stroke-width="1.6"/><line x1="1031.0" y1="714.6" x2="1031.0" y2="720.6" stroke="#777" stroke-width="1.6"/><line x1="1061.0" y1="714.6" x2="1061.0" y2="720.6" stroke="#777" stroke-width="1.6"/><line x1="1087.0" y1="714.6" x2="1087.0" y2="720.6" stroke="#777" stroke-width="1.6"/><line x1="1112.7" y1="714.6" x2="1112.7" y2="720.6" stroke="#777" stroke-width="1.6"/><line x1="1135.0" y1="714.6" x2="1135.0" y2="720.6" stroke="#777" stroke-width="1.6"/><line x1="1156.0" y1="714.6" x2="1156.0" y2="720.6" stroke="#777" stroke-width="1.6"/><line x1="1191.5" y1="714.6" x2="1191.5" y2="720.6" stroke="#777" stroke-width="1.6"/><text class="cx" x="253.1" y="754.5">1</text><text class="cx" x="327.2" y="754.5">2</text><text class="cx" x="449.8" y="754.5">4</text><text class="cx" x="567.9" y="754.5">6</text><text class="cx" x="669.8" y="754.5">8</text><text class="cx" x="758.0" y="754.5">10</text><text class="cx" x="847.2" y="754.5">12</text><text class="cx" x="932.3" y="754.5">14</text><text class="cx" x="997.9" y="754.5">16</text><text class="cx" x="1054.0" y="754.5">18</text><text class="cx" x="1106.5" y="754.5">20</text><text class="cx" x="1156.3" y="754.5">22</text><text class="cx" x="1197.6" y="754.5">X</text><text x="1238.5" y="755.0" font-size="39.5" fill="#111">Chr</text><text transform="translate(164.0 494.6) rotate(-90)" font-size="48" fill="#111" text-anchor="middle" textLength="99" lengthAdjust="spacingAndGlyphs">CNV</text><text x="707.0" y="260.0" font-size="39.5" fill="#111" text-anchor="middle">High risk</text></g>
<g><path d="M1455.3 445.5V421.1M1460.8 412.8V373.0M1462.6 396.4V315.5M1464.4 434.0V402.7M1466.3 432.7V404.9M1473.6 432.3V323.6M1475.4 457.9V380.2M1477.2 429.4V399.1M1479.0 442.7V419.0M1490.0 421.1V315.5M1491.8 438.3V416.0M1511.9 390.2V315.5M1519.2 422.4V381.2M1521.0 428.1V384.2M1527.5 411.3V350.2M1533.0 472.3V433.0M1540.4 403.4V353.2M1544.1 411.0V369.2M1547.8 430.1V403.0M1549.6 419.9V390.9M1551.5 431.7V379.2M1562.5 402.3V335.3M1564.4 419.7V395.9M1575.4 409.4V334.4M1579.1 430.2V395.7M1586.5 435.1V382.1M1590.2 405.9V352.8M1593.9 452.7V426.0M1602.2 432.5V407.5M1604.0 450.7V410.1M1605.9 443.2V409.5M1611.5 448.9V418.1M1618.9 442.1V422.5M1620.7 442.0V408.5M1624.4 437.3V387.1M1642.9 438.9V398.8M1646.6 395.8V358.8M1655.9 423.8V391.5M1657.7 419.6V395.5M1669.7 434.9V408.2M1671.6 439.6V372.7M1684.4 415.9V384.5M1686.3 377.9V315.5M1690.0 420.7V391.8M1691.8 394.2V349.8M1695.5 414.7V365.3M1706.5 409.9V327.5M1708.3 399.7V331.3M1713.9 403.6V339.1M1725.9 417.3V390.7M1727.7 435.4V370.1M1731.4 403.6V372.5M1733.2 420.2V394.2M1736.9 422.4V315.5M1738.8 434.0V401.6M1742.4 423.5V375.5M1751.6 424.7V387.4M1753.5 447.5V413.3M1759.0 418.7V379.1M1760.8 409.1V315.5M1764.5 423.8V378.7M1770.0 432.3V378.6M1773.7 424.7V398.5M1780.2 373.3V329.2M1783.9 415.8V326.0M1785.7 422.3V349.9M1794.8 401.9V342.0M1807.6 440.4V315.5M1816.7 425.5V362.1M1824.0 426.1V391.6M1834.2 422.4V348.2M1841.6 405.9V347.0M1849.0 421.2V393.5M1856.5 421.9V346.6M1873.1 474.0V461.1M1885.2 413.0V315.5M1887.0 411.9V361.1M1890.7 415.4V357.4M1892.6 421.4V370.1M1898.1 401.3V355.2M1901.8 398.0V339.0M1907.3 438.2V400.4M1916.5 436.1V407.8M1935.9 434.3V344.5M1937.7 456.4V381.8M1943.2 477.0V464.6M1945.1 410.5V315.5M1952.5 443.5V394.3M1959.8 441.4V419.2M1967.2 441.1V333.4M1981.1 445.5V406.5M1984.8 429.4V387.4M1992.3 436.6V367.2M1998.0 433.4V399.0M2001.7 420.3V388.9M2005.5 418.7V330.8M2009.2 437.8V376.1M2023.2 435.2V360.3M2027.0 428.0V354.7M2028.8 431.7V384.6M2034.5 428.1V402.6M2043.8 406.4V367.5M2055.1 442.4V413.6M2057.0 438.8V404.3M2072.8 409.6V379.9M2074.7 393.7V333.3M2078.5 426.1V386.4M2080.3 423.3V385.2M2082.2 426.5V375.3M2084.1 427.4V397.4M2087.8 403.0V316.7M2091.6 418.9V370.8M2093.5 402.2V366.3M2097.2 412.0V339.1M2124.0 424.1V385.1M2135.0 441.8V410.5M2136.9 447.9V379.7M2140.5 431.2V377.1M2142.4 447.9V426.9M2150.7 405.6V315.5M2152.5 424.7V315.5M2159.8 436.7V394.3M2167.1 431.6V387.8M2170.8 428.4V315.5M2174.4 408.9V326.7M2176.2 403.5V362.7M2181.7 465.6V394.5M2190.1 431.8V343.3M2195.8 425.7V395.1M2205.3 446.6V405.7M2216.7 443.5V414.4M2223.2 427.1V315.5M2225.1 405.9V363.4M2226.9 461.4V436.5M2228.8 425.5V384.3M2232.5 367.0V315.5M2236.3 476.4V445.8M2238.1 413.2V368.3M2240.0 426.5V392.9M2241.8 435.9V382.0M2245.6 429.3V342.4M2247.4 388.3V344.6M2255.8 452.6V401.0M2257.6 451.9V315.5M2263.1 436.9V402.2M2277.7 438.5V410.0M2286.0 407.2V365.9M2289.7 400.7V354.3M2295.3 355.1V315.5M2297.2 395.8V322.6M2299.1 415.9V380.3M2304.7 403.7V367.2M2308.4 425.6V377.7M2316.8 451.3V407.1M2320.5 448.1V355.8M2322.4 441.5V405.3M2329.8 440.1V398.4M2331.7 425.9V315.5M2338.2 414.6V315.5M2340.1 414.7V315.5M2341.9 363.8V315.5M2343.8 427.6V398.1M2347.5 363.2V323.5M2351.2 412.8V325.5M2365.1 426.7V328.8M2371.0 425.3V357.9M2374.8 424.5V401.8M2376.8 427.9V315.5M2378.7 430.3V409.1M2385.2 407.8V379.7M2392.5 441.1V315.5M2396.1 437.5V393.7M2399.7 426.9V361.0M2408.1 393.0V351.0M2411.8 406.2V374.0M2415.6 409.8V326.3M2417.4 391.1V356.1M2426.8 415.8V379.4M2430.5 425.0V399.0M2434.3 425.3V390.7M2439.9 409.2V378.3M2443.7 425.0V371.1M2445.5 427.0V315.5" stroke="#dc5960" stroke-width="2" fill="none"/><path d="M1452.6 513.6L1452.6 431.7L1454.4 428.5L1456.2 428.3L1458.1 411.2L1459.9 387.6L1461.7 367.1L1463.5 414.1L1465.4 412.5L1467.2 411.8L1469.0 396.3L1470.8 383.5L1472.7 412.0L1474.5 443.9L1476.3 408.3L1478.1 425.0L1480.0 380.4L1481.8 436.6L1483.6 414.7L1485.4 420.0L1487.3 424.6L1489.1 398.0L1490.9 419.5L1492.7 406.4L1494.6 512.6L1496.4 512.6L1498.2 512.6L1500.0 425.4L1501.9 413.0L1503.7 399.6L1505.5 411.5L1507.3 413.0L1509.2 403.0L1511.0 359.4L1512.8 385.8L1514.6 406.7L1516.5 402.1L1518.3 399.6L1520.1 406.7L1520.1 513.6ZM1526.6 513.6L1526.6 385.7L1528.4 420.3L1530.3 376.4L1532.1 462.0L1534.0 399.4L1535.8 389.2L1537.7 364.8L1539.5 375.8L1541.3 365.5L1543.2 385.4L1545.0 409.7L1546.9 409.2L1548.7 396.4L1550.6 411.2L1552.4 410.9L1554.2 397.0L1556.1 444.4L1557.9 512.6L1559.8 512.6L1561.6 374.4L1563.5 396.2L1565.3 404.1L1567.2 398.2L1569.0 387.7L1570.8 370.4L1572.7 380.8L1574.5 383.3L1576.4 386.7L1578.2 409.4L1580.1 387.1L1581.9 417.0L1583.7 390.8L1585.6 415.5L1587.4 409.6L1589.3 379.0L1591.1 383.6L1593.0 437.4L1594.8 411.0L1594.8 513.6ZM1601.3 513.6L1601.3 412.2L1603.1 435.0L1605.0 425.6L1606.8 436.6L1608.7 436.1L1610.5 432.7L1612.4 425.5L1614.2 418.3L1616.1 473.0L1618.0 424.3L1619.8 424.1L1621.6 421.7L1623.5 418.3L1625.3 417.1L1627.2 411.8L1629.0 315.5L1630.9 512.6L1632.8 512.6L1634.6 512.6L1636.5 426.0L1638.3 408.3L1640.1 420.3L1642.0 420.2L1643.8 402.5L1645.7 366.4L1647.5 407.6L1649.4 424.3L1651.2 406.9L1653.1 419.6L1655.0 401.4L1656.8 396.1L1656.8 513.6ZM1663.3 513.6L1663.3 414.1L1665.1 363.8L1667.0 416.3L1668.8 415.2L1670.7 421.1L1672.5 401.7L1674.3 425.0L1676.2 405.3L1678.0 512.6L1679.9 512.6L1681.7 512.6L1683.5 391.4L1685.4 343.9L1687.2 395.0L1689.0 397.5L1690.9 364.3L1692.7 378.5L1694.6 390.0L1696.4 396.9L1698.2 385.6L1700.1 404.0L1701.9 391.3L1703.8 445.0L1705.6 384.0L1707.4 371.2L1709.3 379.6L1711.1 444.1L1713.0 376.0L1714.8 403.5L1714.8 513.6ZM1721.3 513.6L1721.3 419.5L1723.1 414.2L1725.0 393.2L1726.8 415.8L1728.7 413.6L1730.5 376.1L1732.3 396.9L1734.2 407.7L1736.0 399.6L1737.9 414.1L1739.7 412.3L1741.5 400.9L1743.4 512.6L1745.2 512.6L1747.0 409.0L1748.9 404.6L1750.7 402.4L1752.6 431.0L1754.4 363.6L1756.2 393.4L1758.1 395.0L1759.9 382.9L1761.8 387.9L1763.6 401.4L1765.4 397.6L1767.3 403.9L1769.1 412.0L1771.0 409.0L1772.8 402.5L1772.8 513.6ZM1779.3 513.6L1779.3 338.2L1781.1 364.7L1783.0 391.4L1784.8 399.4L1786.6 365.0L1788.4 401.1L1790.3 410.9L1792.1 410.2L1793.9 374.0L1795.7 512.6L1797.6 512.6L1799.4 424.9L1801.2 463.1L1803.0 404.5L1804.9 427.4L1806.7 422.1L1808.5 424.4L1810.4 421.7L1812.2 399.6L1814.0 410.7L1815.8 403.5L1817.7 409.4L1819.5 410.8L1821.3 458.5L1823.1 404.2L1825.0 406.1L1826.8 398.7L1826.8 513.6ZM1833.3 513.6L1833.3 399.5L1835.2 442.9L1837.0 386.0L1838.9 411.9L1840.7 379.0L1842.6 391.6L1844.4 409.8L1846.3 411.2L1848.1 398.0L1850.0 360.9L1851.8 393.7L1853.7 373.4L1855.5 399.0L1857.4 512.6L1859.3 512.6L1861.1 397.6L1863.0 391.7L1864.8 396.3L1866.7 464.4L1868.5 426.6L1870.4 423.8L1872.2 464.1L1874.1 451.3L1875.9 421.2L1877.8 374.2L1877.8 513.6ZM1884.3 513.6L1884.3 387.9L1886.1 386.5L1888.0 405.1L1889.8 390.9L1891.7 398.4L1893.5 397.5L1895.3 409.4L1897.2 373.2L1899.0 406.6L1900.9 369.1L1902.7 431.1L1904.5 425.9L1906.4 419.3L1908.2 421.5L1910.1 407.5L1911.9 416.7L1913.8 375.1L1915.6 416.7L1917.4 415.5L1919.3 377.3L1921.1 386.2L1923.0 415.7L1924.8 420.6L1924.8 513.6ZM1931.3 513.6L1931.3 466.8L1933.1 478.9L1935.0 414.5L1936.8 442.1L1938.7 440.2L1940.5 403.7L1942.3 467.8L1944.2 384.7L1946.0 425.1L1947.9 419.3L1949.7 464.8L1951.5 426.0L1953.4 412.9L1955.2 512.6L1957.1 512.6L1958.9 423.3L1960.8 422.6L1962.6 428.2L1964.4 465.6L1966.3 423.0L1968.1 406.4L1970.0 422.9L1971.8 407.9L1971.8 513.6ZM1978.3 513.6L1978.3 423.4L1980.2 428.5L1982.0 451.7L1983.9 408.3L1985.8 414.0L1987.7 400.3L1989.5 440.4L1991.4 417.4L1993.3 401.9L1995.2 412.8L1997.0 413.3L1998.9 417.2L2000.8 397.0L2002.7 420.6L2004.5 394.9L2006.4 390.6L2008.3 418.9L2010.2 421.0L2012.0 421.8L2013.9 422.5L2015.8 411.6L2015.8 513.6ZM2022.3 513.6L2022.3 415.6L2024.2 397.4L2026.0 406.6L2027.9 411.2L2029.8 419.5L2031.7 408.2L2033.5 406.8L2035.4 400.4L2037.3 383.1L2039.2 404.7L2041.1 355.4L2042.9 379.5L2044.8 398.9L2046.7 396.1L2048.6 403.5L2050.4 405.1L2052.3 382.6L2054.2 424.6L2056.1 420.1L2057.9 376.0L2059.8 398.3L2059.8 513.6ZM2066.3 513.6L2066.3 420.4L2068.2 411.4L2070.1 399.4L2071.9 383.5L2073.8 363.7L2075.7 380.1L2077.6 404.2L2079.4 400.7L2081.3 404.7L2083.2 405.9L2085.1 396.2L2086.9 375.3L2088.8 406.2L2090.7 395.2L2092.6 374.4L2094.4 393.6L2096.3 386.6L2098.2 399.5L2100.1 390.0L2101.9 406.8L2103.8 401.8L2103.8 513.6ZM2110.3 513.6L2110.3 426.4L2112.1 412.2L2114.0 412.1L2115.8 431.3L2117.6 403.4L2119.5 406.7L2121.3 412.6L2123.1 401.7L2125.0 424.9L2126.8 443.4L2128.6 447.5L2130.5 389.3L2132.3 421.8L2134.1 423.8L2136.0 431.4L2137.8 410.2L2139.6 410.6L2141.5 431.5L2143.3 376.3L2143.3 513.6ZM2149.8 513.6L2149.8 378.6L2151.6 402.5L2153.4 391.0L2155.3 404.4L2157.1 379.9L2158.9 417.5L2160.7 389.9L2162.6 377.3L2164.4 395.0L2166.2 411.1L2168.0 414.4L2169.9 407.1L2171.7 401.0L2173.5 382.7L2175.3 376.0L2177.2 386.6L2179.0 383.1L2180.8 453.6L2180.8 513.6ZM2187.3 513.6L2187.3 419.8L2189.2 411.3L2191.1 417.9L2193.0 423.2L2194.9 403.8L2196.8 401.6L2198.7 427.8L2200.6 418.8L2202.5 422.0L2204.4 429.8L2206.3 441.3L2208.2 431.6L2210.1 425.2L2212.0 436.7L2213.9 438.7L2215.8 426.0L2215.8 513.6ZM2222.3 513.6L2222.3 405.5L2224.2 379.0L2226.0 448.3L2227.9 403.5L2229.8 402.3L2231.6 330.4L2233.5 398.7L2235.4 467.1L2237.2 388.1L2239.1 404.8L2240.9 416.5L2242.8 401.9L2244.7 408.2L2246.5 357.0L2248.4 408.3L2248.4 513.6ZM2254.9 513.6L2254.9 437.3L2256.7 436.5L2258.5 421.1L2260.4 423.5L2262.2 417.8L2264.0 412.4L2265.8 396.0L2267.7 406.0L2269.5 419.9L2271.3 423.2L2273.1 423.9L2275.0 398.0L2276.8 419.7L2278.6 408.5L2278.6 513.6ZM2285.1 513.6L2285.1 380.6L2287.0 352.3L2288.8 372.5L2290.7 348.3L2292.6 378.5L2294.4 315.5L2296.3 366.4L2298.2 391.4L2300.0 389.6L2301.9 397.7L2303.8 376.2L2305.6 346.3L2307.5 403.6L2307.5 513.6ZM2314.0 513.6L2314.0 432.0L2315.9 435.8L2317.7 391.2L2319.6 431.7L2321.5 423.5L2323.3 368.8L2325.2 433.4L2327.1 394.6L2328.9 421.7L2330.8 403.9L2330.8 513.6ZM2337.3 513.6L2337.3 389.8L2339.2 389.9L2341.0 326.4L2342.9 406.1L2344.7 374.2L2346.6 325.7L2348.4 407.6L2350.2 387.6L2352.1 392.6L2354.0 410.4L2355.8 414.4L2355.8 513.6ZM2362.3 513.6L2362.3 429.6L2364.2 404.9L2366.2 409.9L2368.1 463.7L2370.1 403.2L2372.0 326.8L2373.9 402.2L2375.9 406.4L2377.8 409.5L2377.8 513.6ZM2384.3 513.6L2384.3 381.3L2386.1 399.6L2387.9 415.4L2389.7 412.1L2391.6 423.0L2393.4 425.7L2395.2 418.5L2397.0 426.0L2398.8 405.2L2398.8 513.6ZM2405.3 513.6L2405.3 378.5L2407.2 362.8L2409.0 452.9L2410.9 379.4L2412.8 379.5L2414.7 383.9L2416.5 360.5L2418.4 362.1L2420.3 512.6L2422.2 512.6L2424.0 356.7L2425.9 391.4L2427.8 390.6L2429.6 402.9L2431.5 390.5L2433.4 403.3L2435.3 406.4L2437.1 400.9L2439.0 383.1L2440.9 406.3L2442.8 402.8L2444.6 405.3L2446.5 397.7L2446.5 513.6Z" fill="#e8181d" stroke="#e8181d" stroke-width=".9" stroke-linejoin="round"/><path d="M1453.5 590.4V635.4M1457.1 621.1V667.5M1464.4 589.9V651.1M1468.1 587.5V690.2M1471.7 594.1V624.3M1473.6 624.0V686.3M1486.3 576.3V645.2M1497.3 587.6V662.5M1506.4 593.8V614.2M1513.7 546.6V593.3M1515.5 579.3V639.0M1519.2 574.6V642.0M1521.0 581.9V601.9M1527.5 600.6V694.0M1529.3 598.6V665.1M1533.0 581.6V619.0M1542.2 612.1V649.1M1564.4 622.7V652.6M1566.2 618.8V660.7M1569.9 599.1V633.0M1571.7 595.4V699.1M1577.3 595.4V631.4M1579.1 588.4V611.0M1581.0 605.0V629.6M1593.9 601.9V631.4M1604.0 588.1V644.2M1611.5 601.4V698.5M1613.3 613.9V649.4M1626.2 600.8V642.5M1628.1 595.5V623.3M1631.8 608.2V648.8M1633.7 596.0V617.8M1637.4 598.9V643.8M1652.2 578.6V653.8M1654.0 591.4V615.1M1669.7 619.8V648.3M1671.6 617.0V711.7M1678.9 616.7V673.4M1695.5 619.6V682.4M1699.1 564.5V664.7M1701.0 577.3V655.1M1702.8 570.2V586.9M1706.5 588.9V617.7M1708.3 607.8V705.0M1710.2 565.1V600.8M1712.0 594.3V615.7M1713.9 579.3V622.5M1729.6 602.4V670.6M1733.2 567.0V693.7M1742.4 598.5V626.3M1746.1 631.8V678.2M1749.8 609.8V671.7M1751.6 628.3V657.9M1757.1 588.3V711.7M1759.0 588.2V609.0M1773.7 603.9V650.3M1782.0 604.6V676.3M1793.0 593.5V633.8M1794.8 597.0V666.8M1798.5 591.1V633.3M1800.3 611.8V646.0M1802.1 599.8V708.3M1805.8 614.7V644.0M1809.4 601.2V663.4M1813.1 595.3V623.7M1814.9 598.1V635.8M1820.4 591.0V649.7M1825.9 588.0V675.2M1827.7 601.4V654.2M1836.1 591.5V692.0M1837.9 589.4V610.0M1843.5 584.3V636.9M1845.3 581.0V631.7M1858.3 579.4V640.7M1860.2 589.7V619.5M1867.6 600.2V683.0M1875.0 588.9V626.0M1876.8 596.1V680.3M1887.0 577.5V631.6M1892.6 589.4V628.6M1898.1 572.0V636.0M1907.3 582.8V603.6M1909.1 567.4V590.8M1914.7 578.7V610.9M1916.5 573.9V647.9M1918.3 592.9V628.1M1923.9 586.1V711.7M1925.7 545.6V605.8M1932.2 605.0V695.5M1934.0 599.2V636.8M1939.6 608.7V648.4M1941.4 610.5V665.9M1946.9 606.5V653.9M1948.8 576.5V654.8M1956.1 626.7V711.7M1967.2 603.6V711.7M1969.0 605.0V693.4M1970.9 546.5V643.4M1972.7 596.1V628.8M1983.0 621.5V651.6M1990.5 606.9V663.0M1992.3 625.1V711.7M1994.2 620.3V665.0M1996.1 582.1V646.0M1998.0 591.7V649.4M1999.8 595.7V649.1M2001.7 593.1V711.7M2005.5 597.5V704.3M2009.2 611.1V700.4M2011.1 580.7V626.5M2013.0 588.3V650.6M2028.8 660.3V711.7M2032.6 579.3V601.9M2040.1 583.9V621.4M2043.8 602.6V711.7M2045.7 589.0V609.0M2047.6 610.6V636.2M2051.3 589.8V667.0M2057.0 587.6V639.1M2058.8 585.8V632.1M2060.7 589.6V611.8M2072.8 554.2V592.9M2084.1 586.7V673.4M2091.6 598.3V657.4M2095.3 562.8V595.8M2101.0 592.1V637.2M2104.7 594.4V621.9M2113.0 575.3V591.2M2125.9 556.0V711.7M2127.7 574.8V595.4M2129.5 578.5V649.7M2135.0 578.0V614.2M2138.7 576.8V593.8M2142.4 610.5V655.5M2144.2 586.9V625.9M2150.7 554.7V636.1M2154.3 603.3V634.6M2156.2 602.2V681.8M2159.8 590.9V711.7M2163.5 588.9V641.4M2167.1 606.6V634.3M2170.8 629.0V677.9M2174.4 610.6V661.3M2176.2 579.5V632.4M2178.1 589.4V625.5M2179.9 583.6V631.1M2188.2 587.2V631.3M2193.9 558.8V653.6M2195.8 581.9V635.4M2199.6 658.5V711.7M2201.5 582.1V664.7M2207.2 581.4V640.0M2209.1 584.4V604.6M2211.0 592.7V628.9M2212.9 592.7V620.1M2228.8 609.1V696.5M2234.4 603.1V647.3M2240.0 583.9V648.8M2241.8 552.8V579.9M2255.8 581.1V619.9M2259.4 548.3V575.8M2261.3 579.7V607.7M2263.1 598.0V682.2M2274.0 601.5V683.7M2277.7 600.1V706.5M2299.1 609.2V655.1M2300.9 578.5V636.3M2306.5 591.7V623.8M2314.9 587.1V622.7M2318.6 577.8V659.9M2320.5 579.5V602.3M2331.7 614.0V670.1M2341.9 668.1V711.7M2343.8 616.4V711.7M2363.2 598.8V621.8M2365.1 586.0V703.2M2371.0 598.8V651.3M2372.9 552.9V626.7M2374.8 597.9V701.7M2376.8 596.3V645.3M2378.7 615.1V699.0M2385.2 606.4V645.1M2387.0 625.5V686.9M2388.8 597.6V661.0M2390.6 642.5V687.1M2396.1 570.2V587.7M2417.4 664.9V708.1M2419.3 572.5V597.7M2421.2 577.3V610.1M2439.9 584.5V617.9M2441.8 585.7V610.1M2443.7 596.9V667.5M2445.5 586.7V621.2" stroke="#5573bb" stroke-width="2" fill="none"/><path d="M1452.6 513.6L1452.6 609.6L1454.4 637.0L1456.2 648.0L1458.1 637.5L1459.9 622.1L1461.7 589.4L1463.5 609.0L1465.4 561.4L1467.2 606.0L1469.0 618.5L1470.8 614.2L1472.7 651.6L1474.5 629.1L1476.3 589.3L1478.1 635.5L1480.0 590.2L1481.8 606.5L1483.6 593.9L1485.4 592.0L1487.3 623.9L1489.1 603.5L1490.9 619.9L1492.7 609.0L1494.6 613.6L1496.4 606.2L1498.2 598.2L1500.0 644.9L1501.9 596.2L1503.7 663.1L1505.5 613.8L1507.3 600.0L1509.2 560.8L1511.0 618.0L1512.8 554.9L1514.6 595.8L1516.5 588.4L1518.3 589.9L1520.1 598.9L1520.1 513.6ZM1526.6 513.6L1526.6 622.3L1528.4 619.8L1530.3 618.4L1532.1 598.6L1534.0 641.0L1535.8 649.7L1537.7 618.9L1539.5 593.3L1541.3 636.7L1543.2 668.2L1545.0 619.0L1546.9 514.6L1548.7 514.6L1550.6 631.8L1552.4 588.6L1554.2 595.5L1556.1 605.1L1557.9 592.0L1559.8 637.1L1561.6 600.3L1563.5 650.0L1565.3 645.1L1567.2 632.4L1569.0 620.4L1570.8 615.9L1572.7 617.0L1574.5 604.1L1576.4 615.8L1578.2 607.1L1580.1 627.9L1581.9 609.8L1583.7 629.6L1585.6 644.2L1587.4 634.8L1589.3 617.9L1591.1 608.8L1593.0 624.0L1594.8 652.5L1594.8 513.6ZM1601.3 513.6L1601.3 627.6L1603.1 606.8L1605.0 636.9L1606.8 635.9L1608.7 625.9L1610.5 623.3L1612.4 638.9L1614.2 626.8L1616.1 624.5L1618.0 622.5L1619.8 514.6L1621.6 514.6L1623.5 623.8L1625.3 622.6L1627.2 615.9L1629.0 618.5L1630.9 631.9L1632.8 616.6L1634.6 609.9L1636.5 620.3L1638.3 645.8L1640.1 639.2L1642.0 628.3L1643.8 635.5L1645.7 599.5L1647.5 609.0L1649.4 599.4L1651.2 594.9L1653.1 610.9L1655.0 598.9L1656.8 621.8L1656.8 513.6ZM1663.3 513.6L1663.3 620.1L1665.1 627.9L1667.0 634.4L1668.8 646.3L1670.7 642.9L1672.5 565.2L1674.3 630.3L1676.2 631.1L1678.0 642.5L1679.9 620.0L1681.7 514.6L1683.5 514.6L1685.4 514.6L1687.2 514.6L1689.0 568.0L1690.9 602.5L1692.7 584.8L1694.6 646.1L1696.4 632.1L1698.2 577.2L1700.1 593.2L1701.9 584.3L1703.8 582.9L1705.6 607.7L1707.4 631.3L1709.3 577.9L1711.1 614.5L1713.0 595.7L1714.8 595.8L1714.8 513.6ZM1721.3 513.6L1721.3 568.8L1723.1 614.9L1725.0 625.9L1726.8 633.5L1728.7 624.5L1730.5 627.8L1732.3 580.4L1734.2 637.5L1736.0 514.6L1737.9 514.6L1739.7 514.6L1741.5 619.8L1743.4 668.4L1745.2 661.3L1747.0 621.6L1748.9 633.9L1750.7 656.9L1752.6 602.7L1754.4 638.5L1756.2 607.0L1758.1 606.9L1759.9 606.9L1761.8 571.2L1763.6 639.6L1765.4 613.0L1767.3 645.5L1769.1 634.6L1771.0 664.4L1772.8 626.4L1772.8 513.6ZM1779.3 513.6L1779.3 695.1L1781.1 627.3L1783.0 625.4L1784.8 642.6L1786.6 625.5L1788.4 706.4L1790.3 615.2L1792.1 613.4L1793.9 617.8L1795.7 619.8L1797.6 610.5L1799.4 636.4L1801.2 621.3L1803.0 632.0L1804.9 640.0L1806.7 663.8L1808.5 623.1L1810.4 625.7L1812.2 615.8L1814.0 619.2L1815.8 625.0L1817.7 615.8L1819.5 610.3L1821.3 625.7L1823.1 634.5L1825.0 606.6L1826.8 623.3L1826.8 513.6ZM1833.3 513.6L1833.3 605.4L1835.2 611.0L1837.0 608.4L1838.9 688.2L1840.7 596.8L1842.6 602.0L1844.4 597.9L1846.3 592.1L1848.1 605.4L1850.0 623.2L1851.8 618.5L1853.7 514.6L1855.5 514.6L1857.4 595.9L1859.3 608.8L1861.1 609.2L1863.0 604.0L1864.8 626.9L1866.7 621.8L1868.5 604.0L1870.4 603.4L1872.2 628.6L1874.1 607.7L1875.9 616.7L1877.8 613.2L1877.8 513.6ZM1884.3 513.6L1884.3 594.4L1886.1 593.5L1888.0 591.0L1889.8 599.8L1891.7 608.4L1893.5 644.2L1895.3 592.3L1897.2 586.6L1899.0 616.7L1900.9 514.6L1902.7 514.6L1904.5 514.6L1906.4 600.1L1908.2 580.8L1910.1 593.2L1911.9 552.1L1913.8 595.0L1915.6 589.0L1917.4 612.7L1919.3 599.2L1921.1 583.2L1923.0 604.3L1924.8 553.6L1924.8 513.6ZM1931.3 513.6L1931.3 627.8L1933.1 620.5L1935.0 641.3L1936.8 625.6L1938.7 632.4L1940.5 634.7L1942.3 630.7L1944.2 626.5L1946.0 629.8L1947.9 592.2L1949.7 514.6L1951.5 514.6L1953.4 514.6L1955.2 655.0L1957.1 636.4L1958.9 629.2L1960.8 641.0L1962.6 646.6L1964.4 620.2L1966.3 626.2L1968.1 627.8L1970.0 554.8L1971.8 616.7L1971.8 513.6ZM1978.3 513.6L1978.3 631.8L1980.2 643.4L1982.0 648.5L1983.9 623.9L1985.8 636.0L1987.7 612.9L1989.5 630.2L1991.4 653.0L1993.3 647.0L1995.2 599.2L1997.0 611.3L1998.9 616.3L2000.8 612.9L2002.7 633.9L2004.5 618.5L2006.4 610.6L2008.3 635.4L2010.2 597.5L2012.0 607.0L2013.9 557.7L2015.8 598.3L2015.8 513.6ZM2022.3 513.6L2022.3 624.5L2024.2 634.3L2026.0 587.2L2027.9 696.9L2029.8 618.5L2031.7 595.8L2033.5 566.4L2035.4 587.8L2037.3 590.0L2039.2 601.5L2041.1 583.2L2042.9 624.9L2044.8 607.9L2046.7 634.9L2048.6 621.1L2050.4 608.9L2052.3 609.9L2054.2 606.8L2056.1 606.1L2057.9 603.8L2059.8 608.5L2059.8 513.6ZM2066.3 513.6L2066.3 597.7L2068.2 600.4L2070.1 620.3L2071.9 564.4L2073.8 625.5L2075.7 603.4L2077.6 603.2L2079.4 609.0L2081.3 606.8L2083.2 605.0L2085.1 613.5L2086.9 583.4L2088.8 604.7L2090.7 619.5L2092.6 632.0L2094.4 575.1L2096.3 635.5L2098.2 631.4L2100.1 611.7L2101.9 645.3L2103.8 614.6L2103.8 513.6ZM2110.3 513.6L2110.3 594.7L2112.1 590.7L2114.0 592.7L2115.8 591.8L2117.6 600.7L2119.5 619.5L2121.3 605.2L2123.1 682.5L2125.0 566.6L2126.8 590.1L2128.6 594.7L2130.5 618.9L2132.3 612.4L2134.1 594.2L2136.0 603.3L2137.8 592.6L2139.6 605.0L2141.5 634.7L2143.3 605.2L2143.3 513.6ZM2149.8 513.6L2149.8 565.0L2151.6 619.9L2153.4 625.8L2155.3 624.3L2157.1 612.3L2158.9 610.2L2160.7 617.2L2162.6 607.8L2164.4 659.2L2166.2 629.9L2168.0 620.6L2169.9 657.9L2171.7 606.3L2173.5 634.8L2175.3 596.0L2177.2 608.4L2179.0 601.2L2180.8 604.3L2180.8 513.6ZM2187.3 513.6L2187.3 605.6L2189.2 622.6L2191.1 621.3L2193.0 570.1L2194.9 599.0L2196.8 606.1L2198.7 694.8L2200.6 599.3L2202.5 596.2L2204.4 560.5L2206.3 598.3L2208.2 602.1L2210.1 612.5L2212.0 612.5L2213.9 605.3L2215.8 608.2L2215.8 513.6ZM2222.3 513.6L2222.3 602.3L2224.2 605.8L2226.0 605.9L2227.9 632.9L2229.8 655.1L2231.6 636.8L2233.5 625.5L2235.4 596.3L2237.2 610.9L2239.1 601.4L2240.9 562.5L2242.8 631.5L2244.7 581.7L2246.5 626.2L2248.4 582.0L2248.4 513.6ZM2254.9 513.6L2254.9 597.9L2256.7 695.8L2258.5 557.0L2260.4 596.2L2262.2 619.1L2264.0 600.8L2265.8 622.4L2267.7 612.8L2269.5 606.9L2271.3 625.7L2273.1 623.4L2275.0 633.6L2276.8 621.7L2278.6 608.3L2278.6 513.6ZM2285.1 513.6L2285.1 594.0L2287.0 577.2L2288.8 592.8L2290.7 577.7L2292.6 624.5L2294.4 576.5L2296.3 587.4L2298.2 633.1L2300.0 594.8L2301.9 603.4L2303.8 640.9L2305.6 611.2L2307.5 632.3L2307.5 513.6ZM2314.0 513.6L2314.0 605.5L2315.9 619.1L2317.7 593.9L2319.6 596.0L2321.5 612.0L2323.3 660.4L2325.2 593.9L2327.1 608.9L2328.9 624.0L2330.8 639.1L2330.8 513.6ZM2337.3 513.6L2337.3 627.9L2339.2 629.6L2341.0 706.7L2342.9 642.2L2344.7 567.0L2346.6 633.9L2348.4 621.1L2350.2 625.5L2352.1 608.2L2354.0 646.8L2355.8 621.2L2355.8 513.6ZM2362.3 513.6L2362.3 620.1L2364.2 604.1L2366.2 605.3L2368.1 594.2L2370.1 620.0L2372.0 562.7L2373.9 619.0L2375.9 617.0L2377.8 640.4L2377.8 513.6ZM2384.3 513.6L2384.3 629.6L2386.1 653.5L2387.9 618.5L2389.7 674.7L2391.6 611.8L2393.4 607.5L2395.2 584.4L2397.0 606.0L2398.8 607.9L2398.8 513.6ZM2405.3 513.6L2405.3 609.0L2407.2 598.2L2409.0 572.0L2410.9 594.7L2412.8 566.7L2414.7 622.1L2416.5 702.7L2418.4 587.2L2420.3 593.3L2422.2 514.6L2424.0 514.6L2425.9 593.3L2427.8 612.1L2429.6 603.3L2431.5 609.3L2433.4 607.8L2435.3 598.7L2437.1 583.6L2439.0 602.2L2440.9 603.7L2442.8 617.8L2444.6 605.0L2446.5 625.9L2446.5 513.6Z" fill="#1f4ea6" stroke="#1f4ea6" stroke-width=".9" stroke-linejoin="round"/><path d="M1452.6 513.6L1455.1 515.1L1457.6 512.0L1460.1 513.2L1462.6 511.5L1465.1 511.0L1467.6 511.6L1470.1 513.8L1472.6 512.0L1475.1 513.9L1477.6 514.1L1480.1 513.4L1482.6 511.2L1485.1 511.4L1487.6 512.2L1490.1 512.6L1492.6 515.0L1495.1 514.1L1497.6 512.9L1500.1 511.6L1502.6 512.7L1505.1 515.0L1507.6 514.7L1510.1 512.4L1512.6 512.3L1515.1 512.5L1517.6 514.0L1520.1 514.7L1522.6 511.8L1525.1 513.4L1527.6 510.9L1530.1 513.4L1532.6 511.2L1535.1 513.5L1537.6 512.1L1540.1 514.3L1542.6 512.6L1545.1 514.2L1547.6 513.5L1550.1 512.4L1552.6 514.5L1555.1 512.7L1557.6 511.5L1560.1 510.9L1562.6 512.9L1565.1 512.1L1567.6 512.3L1570.1 514.5L1572.6 514.4L1575.1 515.1L1577.6 512.8L1580.1 514.6L1582.6 512.8L1585.1 513.9L1587.6 513.1L1590.1 514.4L1592.6 515.0L1595.1 512.1L1597.6 513.8L1600.1 515.0L1602.6 513.4L1605.1 511.7L1607.6 514.5L1610.1 513.6L1612.6 513.8L1615.1 511.6L1617.6 511.4L1620.1 511.2L1622.6 513.4L1625.1 514.9L1627.6 514.3L1630.1 512.2L1632.6 512.5L1635.1 511.2L1637.6 511.0L1640.1 514.9L1642.6 513.6L1645.1 511.9L1647.6 511.7L1650.1 513.8L1652.6 514.9L1655.1 513.8L1657.6 513.3L1660.1 513.6L1662.6 515.0L1665.1 514.1L1667.6 512.1L1670.1 511.1L1672.6 515.2L1675.1 511.3L1677.6 513.4L1680.1 513.6L1682.6 514.8L1685.1 514.4L1687.6 512.7L1690.1 514.7L1692.6 511.3L1695.1 514.1L1697.6 515.4L1700.1 514.8L1702.6 514.1L1705.1 513.0L1707.6 514.1L1710.1 514.1L1712.6 514.5L1715.1 514.8L1717.6 514.0L1720.1 511.7L1722.6 513.3L1725.1 513.6L1727.6 511.2L1730.1 515.2L1732.6 512.5L1735.1 514.3L1737.6 512.0L1740.1 514.1L1742.6 511.6L1745.1 511.7L1747.6 511.9L1750.1 512.5L1752.6 511.9L1755.1 511.5L1757.6 515.2L1760.1 513.0L1762.6 512.5L1765.1 511.6L1767.6 511.6L1770.1 511.9L1772.6 514.3L1775.1 513.9L1777.6 514.7L1780.1 513.4L1782.6 513.2L1785.1 512.1L1787.6 514.0L1790.1 512.5L1792.6 514.2L1795.1 512.7L1797.6 513.9L1800.1 512.1L1802.6 514.9L1805.1 513.7L1807.6 514.1L1810.1 511.0L1812.6 511.7L1815.1 514.1L1817.6 513.6L1820.1 511.0L1822.6 512.2L1825.1 515.1L1827.6 514.2L1830.1 514.5L1832.6 513.3L1835.1 515.4L1837.6 513.0L1840.1 512.4L1842.6 512.1L1845.1 512.5L1847.6 513.0L1850.1 513.2L1852.6 512.1L1855.1 512.8L1857.6 512.4L1860.1 512.9L1862.6 513.7L1865.1 512.4L1867.6 512.0L1870.1 514.5L1872.6 514.2L1875.1 511.6L1877.6 512.6L1880.1 512.6L1882.6 511.6L1885.1 511.8L1887.6 513.1L1890.1 515.2L1892.6 514.0L1895.1 514.3L1897.6 514.1L1900.1 514.9L1902.6 514.6L1905.1 512.9L1907.6 514.6L1910.1 513.7L1912.6 513.8L1915.1 513.9L1917.6 512.4L1920.1 515.3L1922.6 515.2L1925.1 511.3L1927.6 512.3L1930.1 512.3L1932.6 513.0L1935.1 514.0L1937.6 515.1L1940.1 515.3L1942.6 512.9L1945.1 513.2L1947.6 513.0L1950.1 514.4L1952.6 515.3L1955.1 511.8L1957.6 512.2L1960.1 514.5L1962.6 515.3L1965.1 514.5L1967.6 514.9L1970.1 514.1L1972.6 514.0L1975.1 513.3L1977.6 515.1L1980.1 513.5L1982.6 514.2L1985.1 513.1L1987.6 511.9L1990.1 512.8L1992.6 512.9L1995.1 511.7L1997.6 514.0L2000.1 511.7L2002.6 513.5L2005.1 513.4L2007.6 515.0L2010.1 511.7L2012.6 511.9L2015.1 514.0L2017.6 514.5L2020.1 511.6L2022.6 511.9L2025.1 511.2L2027.6 512.7L2030.1 512.1L2032.6 514.6L2035.1 514.0L2037.6 513.4L2040.1 512.0L2042.6 512.0L2045.1 514.9L2047.6 514.6L2050.1 513.1L2052.6 512.1L2055.1 515.0L2057.6 514.3L2060.1 514.3L2062.6 512.8L2065.1 512.5L2067.6 514.5L2070.1 513.5L2072.6 515.1L2075.1 512.7L2077.6 511.1L2080.1 514.8L2082.6 514.5L2085.1 512.4L2087.6 512.8L2090.1 515.3L2092.6 514.2L2095.1 511.3L2097.6 511.7L2100.1 512.9L2102.6 514.5L2105.1 512.0L2107.6 514.8L2110.1 513.4L2112.6 512.4L2115.1 513.3L2117.6 514.3L2120.1 513.8L2122.6 514.5L2125.1 513.9L2127.6 514.4L2130.1 513.2L2132.6 512.2L2135.1 512.9L2137.6 511.5L2140.1 511.3L2142.6 513.7L2145.1 515.2L2147.6 511.0L2150.1 515.2L2152.6 514.4L2155.1 514.7L2157.6 513.9L2160.1 511.1L2162.6 510.9L2165.1 512.6L2167.6 513.3L2170.1 513.3L2172.6 515.3L2175.1 514.0L2177.6 512.5L2180.1 512.5L2182.6 512.9L2185.1 510.9L2187.6 513.7L2190.1 512.3L2192.6 512.8L2195.1 514.4L2197.6 512.0L2200.1 511.7L2202.6 513.4L2205.1 513.8L2207.6 511.1L2210.1 515.1L2212.6 511.1L2215.1 511.1L2217.6 512.5L2220.1 514.0L2222.6 513.0L2225.1 514.7L2227.6 512.8L2230.1 514.9L2232.6 512.5L2235.1 511.5L2237.6 514.9L2240.1 513.4L2242.6 512.7L2245.1 513.4L2247.6 515.1L2250.1 511.0L2252.6 513.0L2255.1 512.9L2257.6 513.5L2260.1 511.1L2262.6 513.6L2265.1 512.0L2267.6 514.0L2270.1 514.6L2272.6 511.0L2275.1 514.0L2277.6 512.7L2280.1 511.1L2282.6 513.5L2285.1 514.3L2287.6 513.3L2290.1 514.0L2292.6 511.8L2295.1 511.9L2297.6 514.3L2300.1 514.1L2302.6 510.9L2305.1 512.9L2307.6 514.1L2310.1 513.1L2312.6 512.5L2315.1 512.8L2317.6 514.8L2320.1 512.1L2322.6 512.1L2325.1 511.4L2327.6 513.1L2330.1 512.0L2332.6 512.2L2335.1 514.7L2337.6 511.5L2340.1 515.1L2342.6 514.9L2345.1 515.4L2347.6 515.2L2350.1 513.9L2352.6 512.7L2355.1 513.9L2357.6 511.2L2360.1 511.7L2362.6 513.9L2365.1 514.7L2367.6 511.2L2370.1 512.1L2372.6 513.8L2375.1 511.1L2377.6 513.1L2380.1 514.2L2382.6 512.2L2385.1 512.5L2387.6 512.1L2390.1 513.2L2392.6 511.6L2395.1 512.2L2397.6 514.1L2400.1 511.5L2402.6 512.2L2405.1 511.8L2407.6 510.9L2410.1 512.5L2412.6 514.5L2415.1 515.2L2417.6 513.4L2420.1 513.9L2422.6 511.9L2425.1 513.6L2427.6 513.0L2430.1 513.7L2432.6 511.5L2435.1 515.0L2437.6 512.7L2440.1 513.0L2442.6 511.2L2445.1 514.5L2447.6 511.6L2450.1 511.5" fill="none" stroke="#fff" stroke-width="2.6" stroke-opacity=".9"/><line x1="1523.6" y1="315.0" x2="1523.6" y2="717.5" stroke="#5a5a66" stroke-width="1.2" stroke-dasharray="2 2.2" stroke-opacity=".75"/><line x1="1598.3" y1="315.0" x2="1598.3" y2="717.5" stroke="#5a5a66" stroke-width="1.2" stroke-dasharray="2 2.2" stroke-opacity=".75"/><line x1="1660.3" y1="315.0" x2="1660.3" y2="717.5" stroke="#5a5a66" stroke-width="1.2" stroke-dasharray="2 2.2" stroke-opacity=".75"/><line x1="1718.3" y1="315.0" x2="1718.3" y2="717.5" stroke="#5a5a66" stroke-width="1.2" stroke-dasharray="2 2.2" stroke-opacity=".75"/><line x1="1776.3" y1="315.0" x2="1776.3" y2="717.5" stroke="#5a5a66" stroke-width="1.2" stroke-dasharray="2 2.2" stroke-opacity=".75"/><line x1="1830.3" y1="315.0" x2="1830.3" y2="717.5" stroke="#5a5a66" stroke-width="1.2" stroke-dasharray="2 2.2" stroke-opacity=".75"/><line x1="1881.3" y1="315.0" x2="1881.3" y2="717.5" stroke="#5a5a66" stroke-width="1.2" stroke-dasharray="2 2.2" stroke-opacity=".75"/><line x1="1928.3" y1="315.0" x2="1928.3" y2="717.5" stroke="#5a5a66" stroke-width="1.2" stroke-dasharray="2 2.2" stroke-opacity=".75"/><line x1="1975.3" y1="315.0" x2="1975.3" y2="717.5" stroke="#5a5a66" stroke-width="1.2" stroke-dasharray="2 2.2" stroke-opacity=".75"/><line x1="2019.3" y1="315.0" x2="2019.3" y2="717.5" stroke="#5a5a66" stroke-width="1.2" stroke-dasharray="2 2.2" stroke-opacity=".75"/><line x1="2063.3" y1="315.0" x2="2063.3" y2="717.5" stroke="#5a5a66" stroke-width="1.2" stroke-dasharray="2 2.2" stroke-opacity=".75"/><line x1="2107.3" y1="315.0" x2="2107.3" y2="717.5" stroke="#5a5a66" stroke-width="1.2" stroke-dasharray="2 2.2" stroke-opacity=".75"/><line x1="2146.8" y1="315.0" x2="2146.8" y2="717.5" stroke="#5a5a66" stroke-width="1.2" stroke-dasharray="2 2.2" stroke-opacity=".75"/><line x1="2184.3" y1="315.0" x2="2184.3" y2="717.5" stroke="#5a5a66" stroke-width="1.2" stroke-dasharray="2 2.2" stroke-opacity=".75"/><line x1="2219.3" y1="315.0" x2="2219.3" y2="717.5" stroke="#5a5a66" stroke-width="1.2" stroke-dasharray="2 2.2" stroke-opacity=".75"/><line x1="2251.9" y1="315.0" x2="2251.9" y2="717.5" stroke="#5a5a66" stroke-width="1.2" stroke-dasharray="2 2.2" stroke-opacity=".75"/><line x1="2282.1" y1="315.0" x2="2282.1" y2="717.5" stroke="#5a5a66" stroke-width="1.2" stroke-dasharray="2 2.2" stroke-opacity=".75"/><line x1="2311.0" y1="315.0" x2="2311.0" y2="717.5" stroke="#5a5a66" stroke-width="1.2" stroke-dasharray="2 2.2" stroke-opacity=".75"/><line x1="2334.3" y1="315.0" x2="2334.3" y2="717.5" stroke="#5a5a66" stroke-width="1.2" stroke-dasharray="2 2.2" stroke-opacity=".75"/><line x1="2359.3" y1="315.0" x2="2359.3" y2="717.5" stroke="#5a5a66" stroke-width="1.2" stroke-dasharray="2 2.2" stroke-opacity=".75"/><line x1="2381.3" y1="315.0" x2="2381.3" y2="717.5" stroke="#5a5a66" stroke-width="1.2" stroke-dasharray="2 2.2" stroke-opacity=".75"/><line x1="2402.3" y1="315.0" x2="2402.3" y2="717.5" stroke="#5a5a66" stroke-width="1.2" stroke-dasharray="2 2.2" stroke-opacity=".75"/><rect x="1674.4" y="339.0" width="33.3" height="354.8" fill="#ffea50" fill-opacity=".5"/><rect x="1445.0" y="311.0" width="1013.7" height="409.5" fill="none" stroke="#8a8a8a" stroke-width="1.6"/><path d="M1445.0 311.0V720.5H2458.7" fill="none" stroke="#777" stroke-width="3"/><line x1="1436.0" y1="713.2" x2="1445.0" y2="713.2" stroke="#777" stroke-width="1.6"/><text class="ct" x="1432.0" y="721.2">-4</text><line x1="1436.0" y1="663.3" x2="1445.0" y2="663.3" stroke="#777" stroke-width="1.6"/><text class="ct" x="1432.0" y="671.3">-3</text><line x1="1436.0" y1="613.4" x2="1445.0" y2="613.4" stroke="#777" stroke-width="1.6"/><text class="ct" x="1432.0" y="621.4">-2</text><line x1="1436.0" y1="563.5" x2="1445.0" y2="563.5" stroke="#777" stroke-width="1.6"/><text class="ct" x="1432.0" y="571.5">-1</text><line x1="1436.0" y1="513.6" x2="1445.0" y2="513.6" stroke="#777" stroke-width="1.6"/><text class="ct" x="1432.0" y="521.6">0</text><line x1="1436.0" y1="463.7" x2="1445.0" y2="463.7" stroke="#777" stroke-width="1.6"/><text class="ct" x="1432.0" y="471.7">1</text><line x1="1436.0" y1="413.8" x2="1445.0" y2="413.8" stroke="#777" stroke-width="1.6"/><text class="ct" x="1432.0" y="421.8">2</text><line x1="1436.0" y1="363.9" x2="1445.0" y2="363.9" stroke="#777" stroke-width="1.6"/><text class="ct" x="1432.0" y="371.9">3</text><line x1="1436.0" y1="314.0" x2="1445.0" y2="314.0" stroke="#777" stroke-width="1.6"/><text class="ct" x="1432.0" y="322.0">4</text><line x1="1487.7" y1="720.5" x2="1487.7" y2="726.5" stroke="#777" stroke-width="1.6"/><line x1="1561.5" y1="720.5" x2="1561.5" y2="726.5" stroke="#777" stroke-width="1.6"/><line x1="1629.9" y1="720.5" x2="1629.9" y2="726.5" stroke="#777" stroke-width="1.6"/><line x1="1689.0" y1="720.5" x2="1689.0" y2="726.5" stroke="#777" stroke-width="1.6"/><line x1="1747.0" y1="720.5" x2="1747.0" y2="726.5" stroke="#777" stroke-width="1.6"/><line x1="1801.8" y1="720.5" x2="1801.8" y2="726.5" stroke="#777" stroke-width="1.6"/><line x1="1854.8" y1="720.5" x2="1854.8" y2="726.5" stroke="#777" stroke-width="1.6"/><line x1="1903.1" y1="720.5" x2="1903.1" y2="726.5" stroke="#777" stroke-width="1.6"/><line x1="1951.3" y1="720.5" x2="1951.3" y2="726.5" stroke="#777" stroke-width="1.6"/><line x1="1996.3" y1="720.5" x2="1996.3" y2="726.5" stroke="#777" stroke-width="1.6"/><line x1="2040.3" y1="720.5" x2="2040.3" y2="726.5" stroke="#777" stroke-width="1.6"/><line x1="2085.3" y1="720.5" x2="2085.3" y2="726.5" stroke="#777" stroke-width="1.6"/><line x1="2126.3" y1="720.5" x2="2126.3" y2="726.5" stroke="#777" stroke-width="1.6"/><line x1="2165.3" y1="720.5" x2="2165.3" y2="726.5" stroke="#777" stroke-width="1.6"/><line x1="2201.3" y1="720.5" x2="2201.3" y2="726.5" stroke="#777" stroke-width="1.6"/><line x1="2234.9" y1="720.5" x2="2234.9" y2="726.5" stroke="#777" stroke-width="1.6"/><line x1="2265.3" y1="720.5" x2="2265.3" y2="726.5" stroke="#777" stroke-width="1.6"/><line x1="2295.3" y1="720.5" x2="2295.3" y2="726.5" stroke="#777" stroke-width="1.6"/><line x1="2321.3" y1="720.5" x2="2321.3" y2="726.5" stroke="#777" stroke-width="1.6"/><line x1="2347.0" y1="720.5" x2="2347.0" y2="726.5" stroke="#777" stroke-width="1.6"/><line x1="2369.3" y1="720.5" x2="2369.3" y2="726.5" stroke="#777" stroke-width="1.6"/><line x1="2390.3" y1="720.5" x2="2390.3" y2="726.5" stroke="#777" stroke-width="1.6"/><line x1="2425.8" y1="720.5" x2="2425.8" y2="726.5" stroke="#777" stroke-width="1.6"/><text class="cx" x="1486.2" y="757.5">1</text><text class="cx" x="1560.0" y="757.5">2</text><text class="cx" x="1683.3" y="757.5">4</text><text class="cx" x="1801.0" y="757.5">6</text><text class="cx" x="1904.0" y="757.5">8</text><text class="cx" x="1992.0" y="757.5">10</text><text class="cx" x="2080.6" y="757.5">12</text><text class="cx" x="2165.0" y="757.5">14</text><text class="cx" x="2230.9" y="757.5">16</text><text class="cx" x="2287.8" y="757.5">18</text><text class="cx" x="2339.5" y="757.5">20</text><text class="cx" x="2390.0" y="757.5">22</text><text class="cx" x="2431.3" y="757.5">X</text><text x="2472.5" y="758.0" font-size="39.5" fill="#111">Chr</text><text transform="translate(1393.6 506.0) rotate(-90)" font-size="50.5" fill="#111" text-anchor="middle" textLength="86" lengthAdjust="spacingAndGlyphs">CNV</text><text x="1935.5" y="280.0" font-size="39.5" fill="#111" text-anchor="middle">Low risk</text></g>
<rect x="1078.5" y="254" width="77" height="21" fill="#e60f1c"/><text x="1180" y="275.5" font-size="37" fill="#111" textLength="70" lengthAdjust="spacingAndGlyphs">Gain</text><rect x="1424" y="257" width="77.5" height="18" fill="#1e6fbe"/><text x="1523.5" y="276" font-size="37" fill="#111" textLength="71" lengthAdjust="spacingAndGlyphs">Loss</text>
<g><path d="M501.0 1070.6C501.2 1073.3 501.3 1080.8 502.0 1086.9C502.7 1093.0 503.5 1100.5 505.0 1107.3C506.5 1114.1 506.3 1117.5 511.0 1127.7C515.7 1137.8 524.7 1154.8 533.0 1168.4C541.3 1182.0 554.7 1195.6 561.0 1209.2C567.3 1222.7 570.3 1236.3 571.0 1249.9C571.7 1263.5 568.7 1277.1 565.0 1290.7C561.3 1304.2 553.7 1317.8 549.0 1331.4C544.3 1345.0 540.7 1358.6 537.0 1372.2C533.3 1385.7 529.7 1399.3 527.0 1412.9C524.3 1426.5 522.3 1440.1 521.0 1453.7C519.7 1467.2 518.8 1480.8 519.0 1494.4C519.2 1508.0 519.8 1521.6 522.0 1535.2C524.2 1548.7 528.5 1562.3 532.0 1575.9C535.5 1589.5 540.3 1603.1 543.0 1616.7C545.7 1630.2 547.8 1643.8 548.0 1657.4C548.2 1671.0 546.8 1684.6 544.0 1698.2C541.2 1711.7 536.2 1725.3 531.0 1738.9C525.8 1752.5 517.3 1769.5 513.0 1779.7C508.7 1789.8 506.8 1793.9 505.0 1800.0C503.2 1806.1 502.7 1810.2 502.0 1816.3C501.3 1822.4 501.3 1836.7 501.0 1836.7C500.7 1836.7 500.7 1822.4 500.0 1816.3C499.3 1810.2 498.8 1806.1 497.0 1800.0C495.2 1793.9 493.3 1789.8 489.0 1779.7C484.7 1769.5 476.2 1752.5 471.0 1738.9C465.8 1725.3 460.8 1711.7 458.0 1698.2C455.2 1684.6 453.8 1671.0 454.0 1657.4C454.2 1643.8 456.3 1630.2 459.0 1616.7C461.7 1603.1 466.5 1589.5 470.0 1575.9C473.5 1562.3 477.8 1548.7 480.0 1535.2C482.2 1521.6 482.8 1508.0 483.0 1494.4C483.2 1480.8 482.3 1467.2 481.0 1453.7C479.7 1440.1 477.7 1426.5 475.0 1412.9C472.3 1399.3 468.7 1385.7 465.0 1372.2C461.3 1358.6 457.7 1345.0 453.0 1331.4C448.3 1317.8 440.7 1304.2 437.0 1290.7C433.3 1277.1 430.3 1263.5 431.0 1249.9C431.7 1236.3 434.7 1222.7 441.0 1209.2C447.3 1195.6 460.7 1182.0 469.0 1168.4C477.3 1154.8 486.3 1137.8 491.0 1127.7C495.7 1117.5 495.5 1114.1 497.0 1107.3C498.5 1100.5 499.3 1093.0 500.0 1086.9C500.7 1080.8 500.8 1073.3 501.0 1070.6Z" fill="#f28c6b" stroke="#1a1a1a" stroke-width="2.6" stroke-linejoin="round"/><path d="M896.0 1099.1C896.2 1101.8 896.3 1109.3 897.0 1115.4C897.7 1121.5 898.0 1127.0 900.0 1135.8C902.0 1144.6 904.3 1156.2 909.0 1168.4C913.7 1180.6 923.2 1195.6 928.0 1209.2C932.8 1222.7 936.8 1236.3 938.0 1249.9C939.2 1263.5 937.8 1277.1 935.0 1290.7C932.2 1304.2 924.5 1317.8 921.0 1331.4C917.5 1345.0 915.5 1358.6 914.0 1372.2C912.5 1385.7 912.2 1399.3 912.0 1412.9C911.8 1426.5 912.0 1440.1 913.0 1453.7C914.0 1467.2 915.5 1480.8 918.0 1494.4C920.5 1508.0 922.8 1521.6 928.0 1535.2C933.2 1548.7 940.2 1562.3 949.0 1575.9C957.8 1589.5 973.0 1604.4 981.0 1616.7C989.0 1628.9 995.8 1639.1 997.0 1649.2C998.2 1659.4 993.0 1669.6 988.0 1677.8C983.0 1685.9 977.5 1688.0 967.0 1698.2C956.5 1708.3 935.5 1726.7 925.0 1738.9C914.5 1751.1 908.6 1762.7 904.0 1771.5C899.4 1780.3 898.8 1785.4 897.5 1791.9C896.2 1798.3 896.5 1810.2 896.0 1810.2C895.5 1810.2 895.8 1798.3 894.5 1791.9C893.2 1785.4 892.6 1780.3 888.0 1771.5C883.4 1762.7 877.5 1751.1 867.0 1738.9C856.5 1726.7 835.5 1708.3 825.0 1698.2C814.5 1688.0 809.0 1685.9 804.0 1677.8C799.0 1669.6 793.8 1659.4 795.0 1649.2C796.2 1639.1 803.0 1628.9 811.0 1616.7C819.0 1604.4 834.2 1589.5 843.0 1575.9C851.8 1562.3 858.8 1548.7 864.0 1535.2C869.2 1521.6 871.5 1508.0 874.0 1494.4C876.5 1480.8 878.0 1467.2 879.0 1453.7C880.0 1440.1 880.2 1426.5 880.0 1412.9C879.8 1399.3 879.5 1385.7 878.0 1372.2C876.5 1358.6 874.5 1345.0 871.0 1331.4C867.5 1317.8 859.8 1304.2 857.0 1290.7C854.2 1277.1 852.8 1263.5 854.0 1249.9C855.2 1236.3 859.2 1222.7 864.0 1209.2C868.8 1195.6 878.3 1180.6 883.0 1168.4C887.7 1156.2 890.0 1144.6 892.0 1135.8C894.0 1127.0 894.3 1121.5 895.0 1115.4C895.7 1109.3 895.8 1101.8 896.0 1099.1Z" fill="#8b90cd" stroke="#1a1a1a" stroke-width="2.6" stroke-linejoin="round"/><line x1="501" y1="1625.8" x2="501" y2="1657.4" stroke="#333" stroke-width="2.2"/><line x1="896" y1="1373.5" x2="896" y2="1230.5" stroke="#333" stroke-width="2.2"/><rect x="421.8" y="1250" width="158.8" height="375.8" fill="#fff" fill-opacity=".56" stroke="#333" stroke-width="2.4"/><line x1="421.8" y1="1378.5" x2="580.6" y2="1378.5" stroke="#333" stroke-width="5"/><rect x="817.4" y="1373.5" width="158.6" height="283.9" fill="#fff" fill-opacity=".52" stroke="#333" stroke-width="2.4"/><line x1="817.4" y1="1632.8" x2="976" y2="1632.8" stroke="#333" stroke-width="5"/><path d="M501 1244V1230.5H896V1244" fill="none" stroke="#333" stroke-width="2"/><text x="622" y="1215.5" font-size="36" fill="#222">p = 3x10<tspan dy="-14" font-size="22">−7</tspan></text><path d="M263.8 1034V1875H1135" fill="none" stroke="#333" stroke-width="3"/><line x1="256" y1="1046.2" x2="263.8" y2="1046.2" stroke="#333" stroke-width="3"/><text x="251" y="1059.4" font-size="36" fill="#333" text-anchor="end">1.5</text><line x1="256" y1="1249.9" x2="263.8" y2="1249.9" stroke="#333" stroke-width="3"/><text x="251" y="1263.1" font-size="36" fill="#333" text-anchor="end">1.0</text><line x1="256" y1="1453.7" x2="263.8" y2="1453.7" stroke="#333" stroke-width="3"/><text x="251" y="1466.9" font-size="36" fill="#333" text-anchor="end">0.5</text><line x1="256" y1="1657.4" x2="263.8" y2="1657.4" stroke="#333" stroke-width="3"/><text x="251" y="1670.6" font-size="36" fill="#333" text-anchor="end">0.0</text><line x1="256" y1="1861.2" x2="263.8" y2="1861.2" stroke="#333" stroke-width="3"/><text x="251" y="1874.4" font-size="36" fill="#333" text-anchor="end">−0.5</text><line x1="501" y1="1875" x2="501" y2="1883" stroke="#333" stroke-width="3"/><text x="504" y="1917.5" font-size="36" fill="#333" text-anchor="middle">High</text><line x1="896" y1="1875" x2="896" y2="1883" stroke="#333" stroke-width="3"/><text x="899" y="1917.5" font-size="36" fill="#333" text-anchor="middle">Low</text><text x="705" y="1959.5" font-size="37" fill="#222" text-anchor="middle">Risk score</text><text transform="translate(163 1435.5) rotate(-90)" font-size="41.5" fill="#111" text-anchor="middle" textLength="694" lengthAdjust="spacingAndGlyphs">Percentage Genome Altered Chr 4</text></g>
<g><rect x="1341.5" y="966.7" width="499.5" height="936.2" fill="#fff"/><line x1="1415.4" y1="966.7" x2="1415.4" y2="1902.9" stroke="#f3f3f3" stroke-width="1.2"/><line x1="1526.1" y1="966.7" x2="1526.1" y2="1902.9" stroke="#f3f3f3" stroke-width="1.2"/><line x1="1636.9" y1="966.7" x2="1636.9" y2="1902.9" stroke="#f3f3f3" stroke-width="1.2"/><line x1="1747.6" y1="966.7" x2="1747.6" y2="1902.9" stroke="#f3f3f3" stroke-width="1.2"/><line x1="1341.5" y1="1671.6" x2="1841.0" y2="1671.6" stroke="#f3f3f3" stroke-width="1.2"/><line x1="1341.5" y1="1396.4" x2="1841.0" y2="1396.4" stroke="#f3f3f3" stroke-width="1.2"/><line x1="1341.5" y1="1121.2" x2="1841.0" y2="1121.2" stroke="#f3f3f3" stroke-width="1.2"/><line x1="1360.0" y1="966.7" x2="1360.0" y2="1902.9" stroke="#ebebeb" stroke-width="2"/><line x1="1470.8" y1="966.7" x2="1470.8" y2="1902.9" stroke="#ebebeb" stroke-width="2"/><line x1="1581.5" y1="966.7" x2="1581.5" y2="1902.9" stroke="#ebebeb" stroke-width="2"/><line x1="1692.2" y1="966.7" x2="1692.2" y2="1902.9" stroke="#ebebeb" stroke-width="2"/><line x1="1803.0" y1="966.7" x2="1803.0" y2="1902.9" stroke="#ebebeb" stroke-width="2"/><line x1="1341.5" y1="1809.2" x2="1841.0" y2="1809.2" stroke="#ebebeb" stroke-width="2"/><line x1="1341.5" y1="1534.0" x2="1841.0" y2="1534.0" stroke="#ebebeb" stroke-width="2"/><line x1="1341.5" y1="1258.8" x2="1841.0" y2="1258.8" stroke="#ebebeb" stroke-width="2"/><line x1="1341.5" y1="983.6" x2="1841.0" y2="983.6" stroke="#ebebeb" stroke-width="2"/><circle class="pt" cx="1542.3" cy="1334.8" r="12.9"/><circle class="pt" cx="1587.5" cy="1266.8" r="12.9"/><circle class="pt" cx="1456.5" cy="1482.1" r="12.9"/><circle class="pt" cx="1626.9" cy="1322.5" r="12.9"/><circle class="pt" cx="1486.8" cy="1489.7" r="12.9"/><circle class="pt" cx="1567.4" cy="1372.9" r="12.9"/><circle class="pt" cx="1563.8" cy="1140.5" r="12.9"/><circle class="pt" cx="1581.5" cy="1157.0" r="12.9"/><circle class="pt" cx="1415.6" cy="1595.8" r="12.9"/><circle class="pt" cx="1648.0" cy="1341.4" r="12.9"/><circle class="pt" cx="1434.5" cy="1562.9" r="12.9"/><circle class="pt" cx="1580.2" cy="1352.3" r="12.9"/><circle class="pt" cx="1586.6" cy="1466.6" r="12.9"/><circle class="pt" cx="1422.1" cy="1527.6" r="12.9"/><circle class="pt" cx="1579.2" cy="1515.0" r="12.9"/><circle class="pt" cx="1623.3" cy="1356.0" r="12.9"/><circle class="pt" cx="1443.7" cy="1506.2" r="12.9"/><circle class="pt" cx="1538.9" cy="1501.2" r="12.9"/><circle class="pt" cx="1584.5" cy="1353.7" r="12.9"/><circle class="pt" cx="1379.8" cy="1532.5" r="12.9"/><circle class="pt" cx="1512.8" cy="1421.3" r="12.9"/><circle class="pt" cx="1574.9" cy="1214.8" r="12.9"/><circle class="pt" cx="1641.9" cy="1385.5" r="12.9"/><circle class="pt" cx="1574.0" cy="1340.8" r="12.9"/><circle class="pt" cx="1670.1" cy="1341.4" r="12.9"/><circle class="pt" cx="1438.6" cy="1504.1" r="12.9"/><circle class="pt" cx="1419.8" cy="1443.8" r="12.9"/><circle class="pt" cx="1401.2" cy="1582.3" r="12.9"/><circle class="pt" cx="1582.6" cy="1536.2" r="12.9"/><circle class="pt" cx="1433.9" cy="1443.7" r="12.9"/><circle class="pt" cx="1399.9" cy="1352.4" r="12.9"/><circle class="pt" cx="1376.7" cy="1563.7" r="12.9"/><circle class="pt" cx="1583.9" cy="1476.6" r="12.9"/><circle class="pt" cx="1542.1" cy="1507.1" r="12.9"/><circle class="pt" cx="1534.7" cy="1583.4" r="12.9"/><circle class="pt" cx="1505.7" cy="1489.5" r="12.9"/><circle class="pt" cx="1583.7" cy="1223.0" r="12.9"/><circle class="pt" cx="1564.9" cy="1490.2" r="12.9"/><circle class="pt" cx="1581.5" cy="1382.8" r="12.9"/><circle class="pt" cx="1372.1" cy="1562.1" r="12.9"/><circle class="pt" cx="1615.8" cy="1360.9" r="12.9"/><circle class="pt" cx="1562.6" cy="1207.1" r="12.9"/><circle class="pt" cx="1510.5" cy="1572.6" r="12.9"/><circle class="pt" cx="1464.1" cy="1688.1" r="12.9"/><circle class="pt" cx="1376.5" cy="1500.5" r="12.9"/><circle class="pt" cx="1430.2" cy="1494.6" r="12.9"/><circle class="pt" cx="1579.5" cy="1293.6" r="12.9"/><circle class="pt" cx="1486.3" cy="1723.9" r="12.9"/><circle class="pt" cx="1580.6" cy="1349.5" r="12.9"/><circle class="pt" cx="1466.1" cy="1490.3" r="12.9"/><circle class="pt" cx="1577.6" cy="1456.6" r="12.9"/><circle class="pt" cx="1596.0" cy="1421.7" r="12.9"/><circle class="pt" cx="1366.6" cy="1234.0" r="12.9"/><circle class="pt" cx="1578.6" cy="1411.6" r="12.9"/><circle class="pt" cx="1412.3" cy="1583.9" r="12.9"/><circle class="pt" cx="1588.7" cy="1511.7" r="12.9"/><circle class="pt" cx="1364.3" cy="1630.5" r="12.9"/><circle class="pt" cx="1570.8" cy="1377.1" r="12.9"/><circle class="pt" cx="1597.0" cy="1396.8" r="12.9"/><circle class="pt" cx="1583.6" cy="1534.6" r="12.9"/><circle class="pt" cx="1450.2" cy="1435.9" r="12.9"/><circle class="pt" cx="1578.3" cy="1500.3" r="12.9"/><circle class="pt" cx="1544.3" cy="1420.2" r="12.9"/><circle class="pt" cx="1587.3" cy="1371.3" r="12.9"/><circle class="pt" cx="1497.3" cy="1272.6" r="12.9"/><circle class="pt" cx="1524.7" cy="1462.1" r="12.9"/><circle class="pt" cx="1603.8" cy="1345.6" r="12.9"/><circle class="pt" cx="1578.8" cy="1467.0" r="12.9"/><circle class="pt" cx="1576.9" cy="1303.4" r="12.9"/><circle class="pt" cx="1418.4" cy="1530.5" r="12.9"/><circle class="pt" cx="1576.1" cy="1288.4" r="12.9"/><circle class="pt" cx="1583.9" cy="1428.0" r="12.9"/><circle class="pt" cx="1574.4" cy="1356.5" r="12.9"/><circle class="pt" cx="1465.6" cy="1480.8" r="12.9"/><circle class="pt" cx="1400.2" cy="1470.4" r="12.9"/><circle class="pt" cx="1561.0" cy="1485.4" r="12.9"/><circle class="pt" cx="1543.7" cy="1454.5" r="12.9"/><circle class="pt" cx="1603.9" cy="1294.8" r="12.9"/><circle class="pt" cx="1582.2" cy="1480.7" r="12.9"/><circle class="pt" cx="1818.5" cy="1157.0" r="12.9"/><circle class="pt" cx="1414.8" cy="1546.2" r="12.9"/><circle class="pt" cx="1480.1" cy="1409.0" r="12.9"/><circle class="pt" cx="1480.1" cy="1520.0" r="12.9"/><circle class="pt" cx="1581.5" cy="1327.2" r="12.9"/><circle class="pt" cx="1369.0" cy="1493.5" r="12.9"/><circle class="pt" cx="1537.4" cy="1379.0" r="12.9"/><circle class="pt" cx="1469.2" cy="1449.6" r="12.9"/><circle class="pt" cx="1508.2" cy="1554.3" r="12.9"/><circle class="pt" cx="1574.6" cy="1370.1" r="12.9"/><circle class="pt" cx="1440.3" cy="1552.5" r="12.9"/><circle class="pt" cx="1574.6" cy="1405.5" r="12.9"/><circle class="pt" cx="1464.8" cy="1469.7" r="12.9"/><circle class="pt" cx="1752.1" cy="1355.1" r="12.9"/><circle class="pt" cx="1388.8" cy="1556.8" r="12.9"/><circle class="pt" cx="1588.2" cy="1493.7" r="12.9"/><circle class="pt" cx="1442.8" cy="1468.1" r="12.9"/><circle class="pt" cx="1364.2" cy="1621.1" r="12.9"/><circle class="pt" cx="1406.0" cy="1489.4" r="12.9"/><circle class="pt" cx="1440.1" cy="1521.7" r="12.9"/><circle class="pt" cx="1486.2" cy="1460.3" r="12.9"/><circle class="pt" cx="1559.1" cy="1507.2" r="12.9"/><circle class="pt" cx="1437.9" cy="1524.2" r="12.9"/><circle class="pt" cx="1482.4" cy="1515.6" r="12.9"/><circle class="pt" cx="1523.4" cy="1494.5" r="12.9"/><circle class="pt" cx="1754.3" cy="1349.6" r="12.9"/><circle class="pt" cx="1674.5" cy="1313.8" r="12.9"/><circle class="pt" cx="1619.5" cy="1302.9" r="12.9"/><circle class="pt" cx="1374.0" cy="1555.8" r="12.9"/><circle class="pt" cx="1585.7" cy="1423.6" r="12.9"/><circle class="pt" cx="1486.0" cy="1467.8" r="12.9"/><circle class="pt" cx="1503.8" cy="1439.8" r="12.9"/><circle class="pt" cx="1518.7" cy="1395.0" r="12.9"/><circle class="pt" cx="1672.3" cy="1368.9" r="12.9"/><circle class="pt" cx="1503.4" cy="1508.0" r="12.9"/><circle class="pt" cx="1481.2" cy="1441.6" r="12.9"/><circle class="pt" cx="1517.3" cy="1666.1" r="12.9"/><circle class="pt" cx="1515.8" cy="1404.2" r="12.9"/><circle class="pt" cx="1583.3" cy="1466.7" r="12.9"/><circle class="pt" cx="1464.1" cy="1585.6" r="12.9"/><circle class="pt" cx="1597.5" cy="1552.0" r="12.9"/><circle class="pt" cx="1579.4" cy="1374.5" r="12.9"/><circle class="pt" cx="1602.1" cy="1330.5" r="12.9"/><circle class="pt" cx="1466.3" cy="1247.8" r="12.9"/><circle class="pt" cx="1763.1" cy="1294.6" r="12.9"/><circle class="pt" cx="1575.1" cy="1449.7" r="12.9"/><circle class="pt" cx="1641.1" cy="1278.7" r="12.9"/><circle class="pt" cx="1588.5" cy="1238.3" r="12.9"/><circle class="pt" cx="1572.3" cy="1512.0" r="12.9"/><circle class="pt" cx="1588.8" cy="1336.8" r="12.9"/><circle class="pt" cx="1426.9" cy="1467.8" r="12.9"/><circle class="pt" cx="1578.9" cy="1288.3" r="12.9"/><circle class="pt" cx="1581.5" cy="1146.0" r="12.9"/><circle class="pt" cx="1550.1" cy="1290.3" r="12.9"/><circle class="pt" cx="1488.5" cy="1480.6" r="12.9"/><circle class="pt" cx="1575.8" cy="1375.0" r="12.9"/><circle class="pt" cx="1386.4" cy="1443.2" r="12.9"/><circle class="pt" cx="1591.6" cy="1374.8" r="12.9"/><circle class="pt" cx="1572.3" cy="1285.1" r="12.9"/><circle class="pt" cx="1568.8" cy="1470.0" r="12.9"/><circle class="pt" cx="1590.8" cy="1348.0" r="12.9"/><circle class="pt" cx="1585.8" cy="1259.7" r="12.9"/><circle class="pt" cx="1581.5" cy="1011.1" r="12.9"/><circle class="pt" cx="1383.2" cy="1513.5" r="12.9"/><circle class="pt" cx="1572.1" cy="1371.2" r="12.9"/><circle class="pt" cx="1571.1" cy="1500.7" r="12.9"/><circle class="pt" cx="1591.7" cy="1385.2" r="12.9"/><circle class="pt" cx="1581.8" cy="1470.7" r="12.9"/><circle class="pt" cx="1577.0" cy="1389.7" r="12.9"/><circle class="pt" cx="1586.6" cy="1407.8" r="12.9"/><circle class="pt" cx="1486.3" cy="1356.6" r="12.9"/><circle class="pt" cx="1574.0" cy="1464.5" r="12.9"/><circle class="pt" cx="1388.7" cy="1568.5" r="12.9"/><circle class="pt" cx="1588.6" cy="1363.9" r="12.9"/><circle class="pt" cx="1482.3" cy="1398.0" r="12.9"/><circle class="pt" cx="1592.8" cy="1521.7" r="12.9"/><circle class="pt" cx="1661.2" cy="1261.6" r="12.9"/><circle class="pt" cx="1511.4" cy="1579.8" r="12.9"/><circle class="pt" cx="1469.2" cy="1423.4" r="12.9"/><circle class="pt" cx="1415.6" cy="1375.3" r="12.9"/><circle class="pt" cx="1390.5" cy="1578.9" r="12.9"/><circle class="pt" cx="1612.9" cy="1439.8" r="12.9"/><circle class="pt" cx="1409.8" cy="1410.1" r="12.9"/><circle class="pt" cx="1679.0" cy="1349.6" r="12.9"/><circle class="pt" cx="1408.7" cy="1732.1" r="12.9"/><circle class="pt" cx="1430.6" cy="1514.8" r="12.9"/><circle class="pt" cx="1581.3" cy="1441.9" r="12.9"/><circle class="pt" cx="1617.1" cy="1358.6" r="12.9"/><circle class="pt" cx="1511.8" cy="1388.9" r="12.9"/><circle class="pt" cx="1584.4" cy="1449.9" r="12.9"/><circle class="pt" cx="1586.8" cy="1387.7" r="12.9"/><circle class="pt" cx="1586.3" cy="1379.2" r="12.9"/><circle class="pt" cx="1428.8" cy="1601.5" r="12.9"/><circle class="pt" cx="1471.4" cy="1495.5" r="12.9"/><circle class="pt" cx="1586.6" cy="1342.5" r="12.9"/><circle class="pt" cx="1386.5" cy="1500.3" r="12.9"/><circle class="pt" cx="1586.6" cy="1295.7" r="12.9"/><circle class="pt" cx="1597.7" cy="1378.3" r="12.9"/><circle class="pt" cx="1643.5" cy="1269.8" r="12.9"/><circle class="pt" cx="1632.8" cy="1347.9" r="12.9"/><circle class="pt" cx="1629.4" cy="1342.1" r="12.9"/><circle class="pt" cx="1580.2" cy="1479.1" r="12.9"/><circle class="pt" cx="1581.7" cy="1477.2" r="12.9"/><circle class="pt" cx="1456.4" cy="1607.0" r="12.9"/><circle class="pt" cx="1535.0" cy="1435.2" r="12.9"/><circle class="pt" cx="1528.5" cy="1503.3" r="12.9"/><circle class="pt" cx="1543.6" cy="1526.3" r="12.9"/><circle class="pt" cx="1614.9" cy="1309.8" r="12.9"/><circle class="pt" cx="1756.5" cy="1352.4" r="12.9"/><circle class="pt" cx="1574.9" cy="1392.0" r="12.9"/><circle class="pt" cx="1401.4" cy="1610.6" r="12.9"/><circle class="pt" cx="1412.5" cy="1583.6" r="12.9"/><circle class="pt" cx="1438.2" cy="1483.9" r="12.9"/><circle class="pt" cx="1582.3" cy="1309.3" r="12.9"/><circle class="pt" cx="1580.3" cy="1325.8" r="12.9"/><circle class="pt" cx="1588.3" cy="1464.5" r="12.9"/><circle class="pt" cx="1503.4" cy="1398.0" r="12.9"/><circle class="pt" cx="1489.8" cy="1595.8" r="12.9"/><circle class="pt" cx="1393.2" cy="1754.2" r="12.9"/><circle class="pt" cx="1584.0" cy="1473.1" r="12.9"/><circle class="pt" cx="1508.0" cy="1537.5" r="12.9"/><circle class="pt" cx="1462.4" cy="1445.7" r="12.9"/><circle class="pt" cx="1578.2" cy="1382.4" r="12.9"/><circle class="pt" cx="1530.7" cy="1445.4" r="12.9"/><circle class="pt" cx="1439.2" cy="1495.4" r="12.9"/><circle class="pt" cx="1591.9" cy="1428.2" r="12.9"/><circle class="pt" cx="1423.4" cy="1565.9" r="12.9"/><circle class="pt" cx="1382.7" cy="1576.9" r="12.9"/><circle class="pt" cx="1586.6" cy="1387.1" r="12.9"/><circle class="pt" cx="1566.2" cy="1406.4" r="12.9"/><circle class="pt" cx="1591.2" cy="1541.1" r="12.9"/><circle class="pt" cx="1584.0" cy="1303.9" r="12.9"/><circle class="pt" cx="1583.9" cy="1311.3" r="12.9"/><circle class="pt" cx="1578.8" cy="1341.3" r="12.9"/><circle class="pt" cx="1568.9" cy="1357.2" r="12.9"/><circle class="pt" cx="1747.6" cy="1415.7" r="12.9"/><circle class="pt" cx="1576.4" cy="1327.3" r="12.9"/><circle class="pt" cx="1584.9" cy="1469.4" r="12.9"/><circle class="pt" cx="1588.9" cy="1401.7" r="12.9"/><circle class="pt" cx="1573.1" cy="1451.0" r="12.9"/><circle class="pt" cx="1473.4" cy="1485.1" r="12.9"/><circle class="pt" cx="1572.2" cy="1503.3" r="12.9"/><circle class="pt" cx="1451.6" cy="1455.1" r="12.9"/><circle class="pt" cx="1527.2" cy="1375.7" r="12.9"/><circle class="pt" cx="1566.3" cy="1301.7" r="12.9"/><circle class="pt" cx="1515.0" cy="1861.5" r="12.9"/><circle class="pt" cx="1601.5" cy="1318.4" r="12.9"/><circle class="pt" cx="1630.8" cy="1388.9" r="12.9"/><circle class="pt" cx="1537.3" cy="1380.6" r="12.9"/><circle class="pt" cx="1390.9" cy="1584.3" r="12.9"/><circle class="pt" cx="1363.6" cy="1573.1" r="12.9"/><circle class="pt" cx="1588.2" cy="1490.4" r="12.9"/><circle class="pt" cx="1375.7" cy="1595.9" r="12.9"/><circle class="pt" cx="1570.8" cy="1436.4" r="12.9"/><circle class="pt" cx="1565.6" cy="1357.8" r="12.9"/><circle class="pt" cx="1410.3" cy="1493.2" r="12.9"/><circle class="pt" cx="1365.5" cy="1576.5" r="12.9"/><circle class="pt" cx="1568.9" cy="1375.7" r="12.9"/><circle class="pt" cx="1495.3" cy="1557.0" r="12.9"/><circle class="pt" cx="1528.4" cy="1417.7" r="12.9"/><circle class="pt" cx="1572.7" cy="1392.6" r="12.9"/><circle class="pt" cx="1584.1" cy="1468.7" r="12.9"/><circle class="pt" cx="1583.3" cy="1543.2" r="12.9"/><circle class="pt" cx="1578.9" cy="1404.9" r="12.9"/><circle class="pt" cx="1391.3" cy="1592.3" r="12.9"/><circle class="pt" cx="1581.5" cy="1635.8" r="12.9"/><circle class="pt" cx="1570.2" cy="1426.9" r="12.9"/><circle class="pt" cx="1612.3" cy="1306.4" r="12.9"/><circle class="pt" cx="1485.2" cy="1397.0" r="12.9"/><circle class="pt" cx="1374.8" cy="1635.5" r="12.9"/><circle class="pt" cx="1575.0" cy="1513.4" r="12.9"/><circle class="pt" cx="1495.1" cy="1364.0" r="12.9"/><circle class="pt" cx="1596.1" cy="1374.8" r="12.9"/><circle class="pt" cx="1590.8" cy="1436.1" r="12.9"/><circle class="pt" cx="1591.3" cy="1354.6" r="12.9"/><circle class="pt" cx="1579.6" cy="1487.8" r="12.9"/><circle class="pt" cx="1501.8" cy="1571.6" r="12.9"/><circle class="pt" cx="1464.1" cy="1464.0" r="12.9"/><circle class="pt" cx="1390.7" cy="1452.7" r="12.9"/><circle class="pt" cx="1585.7" cy="1285.7" r="12.9"/><circle class="pt" cx="1616.9" cy="1346.9" r="12.9"/><circle class="pt" cx="1587.7" cy="1356.9" r="12.9"/><circle class="pt" cx="1510.1" cy="1464.2" r="12.9"/><circle class="pt" cx="1705.5" cy="1360.6" r="12.9"/><circle class="pt" cx="1630.2" cy="1327.6" r="12.9"/><circle class="pt" cx="1435.3" cy="1300.1" r="12.9"/><circle class="pt" cx="1534.4" cy="1489.7" r="12.9"/><circle class="pt" cx="1631.2" cy="1310.8" r="12.9"/><circle class="pt" cx="1575.8" cy="1436.3" r="12.9"/><circle class="pt" cx="1570.6" cy="1335.8" r="12.9"/><circle class="pt" cx="1595.1" cy="1449.1" r="12.9"/><circle class="pt" cx="1566.6" cy="1426.6" r="12.9"/><circle class="pt" cx="1448.2" cy="1580.0" r="12.9"/><circle class="pt" cx="1634.8" cy="1417.1" r="12.9"/><circle class="pt" cx="1576.0" cy="1432.3" r="12.9"/><circle class="pt" cx="1537.2" cy="1247.8" r="12.9"/><circle class="pt" cx="1405.6" cy="1621.1" r="12.9"/><circle class="pt" cx="1405.4" cy="1645.6" r="12.9"/><circle class="pt" cx="1450.0" cy="1466.3" r="12.9"/><circle class="pt" cx="1367.0" cy="1568.2" r="12.9"/><circle class="pt" cx="1455.1" cy="1539.5" r="12.9"/><circle class="pt" cx="1570.1" cy="1323.5" r="12.9"/><circle class="pt" cx="1458.9" cy="1538.0" r="12.9"/><circle class="pt" cx="1578.1" cy="1474.3" r="12.9"/><circle class="pt" cx="1372.4" cy="1439.9" r="12.9"/><circle class="pt" cx="1590.7" cy="1396.2" r="12.9"/><circle class="pt" cx="1532.3" cy="1406.2" r="12.9"/><circle class="pt" cx="1565.1" cy="1237.7" r="12.9"/><circle class="pt" cx="1576.3" cy="1315.4" r="12.9"/><circle class="pt" cx="1480.9" cy="1627.1" r="12.9"/><circle class="pt" cx="1581.5" cy="1203.8" r="12.9"/><circle class="pt" cx="1534.2" cy="1424.4" r="12.9"/><circle class="pt" cx="1404.3" cy="1355.1" r="12.9"/><circle class="pt" cx="1587.4" cy="1208.3" r="12.9"/><circle class="pt" cx="1573.6" cy="1394.8" r="12.9"/><circle class="pt" cx="1572.3" cy="1309.9" r="12.9"/><circle class="pt" cx="1370.1" cy="1568.9" r="12.9"/><circle class="pt" cx="1414.0" cy="1605.4" r="12.9"/><circle class="pt" cx="1480.7" cy="1432.7" r="12.9"/><circle class="pt" cx="1585.7" cy="1386.7" r="12.9"/><circle class="pt" cx="1625.7" cy="1326.8" r="12.9"/><circle class="pt" cx="1603.4" cy="1369.5" r="12.9"/><circle class="pt" cx="1407.9" cy="1610.3" r="12.9"/><circle class="pt" cx="1540.8" cy="1508.0" r="12.9"/><circle class="pt" cx="1572.6" cy="1517.4" r="12.9"/><circle class="pt" cx="1582.5" cy="1515.7" r="12.9"/><circle class="pt" cx="1718.8" cy="1286.3" r="12.9"/><circle class="pt" cx="1510.1" cy="1351.5" r="12.9"/><circle class="pt" cx="1580.9" cy="1391.1" r="12.9"/><circle class="pt" cx="1439.9" cy="1412.1" r="12.9"/><circle class="pt" cx="1572.1" cy="1546.0" r="12.9"/><circle class="pt" cx="1581.6" cy="1336.7" r="12.9"/><circle class="pt" cx="1564.7" cy="1462.2" r="12.9"/><circle class="pt" cx="1578.8" cy="1300.5" r="12.9"/><circle class="pt" cx="1412.5" cy="1587.6" r="12.9"/><circle class="pt" cx="1458.9" cy="1553.6" r="12.9"/><circle class="pt" cx="1434.5" cy="1605.2" r="12.9"/><circle class="pt" cx="1521.9" cy="1425.9" r="12.9"/><circle class="pt" cx="1592.7" cy="1519.2" r="12.9"/><circle class="pt" cx="1577.1" cy="1453.1" r="12.9"/><circle class="pt" cx="1590.9" cy="1555.5" r="12.9"/><circle class="pt" cx="1373.0" cy="1574.1" r="12.9"/><circle class="pt" cx="1687.8" cy="1448.7" r="12.9"/><circle class="pt" cx="1591.3" cy="1378.0" r="12.9"/><circle class="pt" cx="1562.1" cy="1471.1" r="12.9"/><circle class="pt" cx="1584.1" cy="1260.8" r="12.9"/><circle class="pt" cx="1529.1" cy="1452.6" r="12.9"/><circle class="pt" cx="1379.5" cy="1614.1" r="12.9"/><circle class="pt" cx="1587.1" cy="1460.0" r="12.9"/><circle class="pt" cx="1588.8" cy="1305.5" r="12.9"/><circle class="pt" cx="1534.7" cy="1460.6" r="12.9"/><circle class="pt" cx="1489.8" cy="1595.4" r="12.9"/><circle class="pt" cx="1580.2" cy="1382.8" r="12.9"/><circle class="pt" cx="1698.9" cy="1256.0" r="12.9"/><circle class="pt" cx="1413.4" cy="1608.9" r="12.9"/><circle class="pt" cx="1440.6" cy="1475.0" r="12.9"/><circle class="pt" cx="1582.0" cy="1482.6" r="12.9"/><circle class="pt" cx="1448.6" cy="1333.1" r="12.9"/><circle class="pt" cx="1579.8" cy="1378.9" r="12.9"/><circle class="pt" cx="1591.3" cy="1288.7" r="12.9"/><circle class="pt" cx="1577.1" cy="1436.9" r="12.9"/><circle class="pt" cx="1592.3" cy="1354.3" r="12.9"/><circle class="pt" cx="1368.4" cy="1625.7" r="12.9"/><circle class="pt" cx="1584.2" cy="1361.6" r="12.9"/><circle class="pt" cx="1582.2" cy="1439.3" r="12.9"/><circle class="pt" cx="1509.7" cy="1477.0" r="12.9"/><circle class="pt" cx="1386.8" cy="1572.9" r="12.9"/><circle class="pt" cx="1581.4" cy="1284.5" r="12.9"/><circle class="pt" cx="1442.4" cy="1536.2" r="12.9"/><circle class="pt" cx="1533.6" cy="1405.3" r="12.9"/><circle class="pt" cx="1513.8" cy="1453.1" r="12.9"/><circle class="pt" cx="1580.2" cy="1324.1" r="12.9"/><circle class="pt" cx="1479.8" cy="1414.1" r="12.9"/><circle class="pt" cx="1574.2" cy="1531.5" r="12.9"/><circle class="pt" cx="1581.5" cy="1591.8" r="12.9"/><circle class="pt" cx="1429.0" cy="1599.6" r="12.9"/><circle class="pt" cx="1575.1" cy="1528.6" r="12.9"/><circle class="pt" cx="1590.5" cy="1443.2" r="12.9"/><circle class="pt" cx="1529.2" cy="1408.3" r="12.9"/><circle class="pt" cx="1536.6" cy="1430.0" r="12.9"/><circle class="pt" cx="1592.7" cy="1430.6" r="12.9"/><path d="M1364.4 1555.7L1383.3 1541.7L1402.3 1527.6L1421.2 1513.6L1440.1 1499.4L1459.0 1485.2L1477.9 1470.8L1496.9 1456.3L1515.8 1441.4L1534.7 1426.1L1553.6 1410.3L1572.5 1394.1L1591.5 1377.6L1610.4 1360.8L1629.3 1343.9L1648.2 1326.8L1667.1 1309.7L1686.1 1292.6L1705.0 1275.4L1723.9 1258.2L1742.8 1240.9L1761.7 1223.7L1780.7 1206.5L1799.6 1189.2L1818.5 1171.9L1818.5 1224.6L1799.6 1238.5L1780.7 1252.4L1761.7 1266.4L1742.8 1280.3L1723.9 1294.3L1705.0 1308.3L1686.1 1322.3L1667.1 1336.3L1648.2 1350.4L1629.3 1364.6L1610.4 1378.8L1591.5 1393.2L1572.5 1407.8L1553.6 1422.8L1534.7 1438.2L1515.8 1454.1L1496.9 1470.4L1477.9 1487.1L1459.0 1503.9L1440.1 1520.9L1421.2 1537.9L1402.3 1555.0L1383.3 1572.2L1364.4 1589.4Z" fill="#bdbdbd" fill-opacity=".55"/><line x1="1364.4" y1="1572.5" x2="1818.5" y2="1198.3" stroke="#3c68b8" stroke-width="4.8" stroke-linecap="butt"/><rect x="1341.5" y="966.7" width="499.5" height="936.2" fill="none" stroke="#808080" stroke-width="2.2"/><line x1="1360.0" y1="1902.9" x2="1360.0" y2="1910.9" stroke="#555" stroke-width="2.4"/><text class="tk" x="1360.0" y="1940.1" text-anchor="middle">−1.0</text><line x1="1470.8" y1="1902.9" x2="1470.8" y2="1910.9" stroke="#555" stroke-width="2.4"/><text class="tk" x="1470.8" y="1940.1" text-anchor="middle">−0.5</text><line x1="1581.5" y1="1902.9" x2="1581.5" y2="1910.9" stroke="#555" stroke-width="2.4"/><text class="tk" x="1581.5" y="1940.1" text-anchor="middle">0.0</text><line x1="1692.2" y1="1902.9" x2="1692.2" y2="1910.9" stroke="#555" stroke-width="2.4"/><text class="tk" x="1692.2" y="1940.1" text-anchor="middle">0.5</text><line x1="1803.0" y1="1902.9" x2="1803.0" y2="1910.9" stroke="#555" stroke-width="2.4"/><text class="tk" x="1803.0" y="1940.1" text-anchor="middle">1.0</text><line x1="1333.5" y1="1809.2" x2="1341.5" y2="1809.2" stroke="#555" stroke-width="2.4"/><text class="tk" x="1326.5" y="1818.2" text-anchor="end">4</text><line x1="1333.5" y1="1534.0" x2="1341.5" y2="1534.0" stroke="#555" stroke-width="2.4"/><text class="tk" x="1326.5" y="1543.0" text-anchor="end">5</text><line x1="1333.5" y1="1258.8" x2="1341.5" y2="1258.8" stroke="#555" stroke-width="2.4"/><text class="tk" x="1326.5" y="1267.8" text-anchor="end">6</text><line x1="1333.5" y1="983.6" x2="1341.5" y2="983.6" stroke="#555" stroke-width="2.4"/><text class="tk" x="1326.5" y="992.6" text-anchor="end">7</text><text class="ax" x="1591.7" y="1973.5" text-anchor="middle" style="font-size:30.3px">CASP9 CNV</text><text class="ax" transform="translate(1296.7 1434) rotate(-90)" text-anchor="middle" style="font-size:32px">CASP9 Expression</text><text x="1365.5" y="1081" font-size="30" fill="#222"><tspan font-style="italic">R</tspan> = 0.53, <tspan font-style="italic">p</tspan> &lt; 2.2x10<tspan dy="-12" font-size="17.5">−16</tspan></text></g>
<g><rect x="1999.5" y="965.8" width="502.2" height="937.1" fill="#fff"/><line x1="2028.1" y1="965.8" x2="2028.1" y2="1902.9" stroke="#f3f3f3" stroke-width="1.2"/><line x1="2112.9" y1="965.8" x2="2112.9" y2="1902.9" stroke="#f3f3f3" stroke-width="1.2"/><line x1="2197.8" y1="965.8" x2="2197.8" y2="1902.9" stroke="#f3f3f3" stroke-width="1.2"/><line x1="2282.6" y1="965.8" x2="2282.6" y2="1902.9" stroke="#f3f3f3" stroke-width="1.2"/><line x1="2367.5" y1="965.8" x2="2367.5" y2="1902.9" stroke="#f3f3f3" stroke-width="1.2"/><line x1="2452.3" y1="965.8" x2="2452.3" y2="1902.9" stroke="#f3f3f3" stroke-width="1.2"/><line x1="1999.5" y1="1850.9" x2="2501.7" y2="1850.9" stroke="#f3f3f3" stroke-width="1.2"/><line x1="1999.5" y1="1663.3" x2="2501.7" y2="1663.3" stroke="#f3f3f3" stroke-width="1.2"/><line x1="1999.5" y1="1475.7" x2="2501.7" y2="1475.7" stroke="#f3f3f3" stroke-width="1.2"/><line x1="1999.5" y1="1288.1" x2="2501.7" y2="1288.1" stroke="#f3f3f3" stroke-width="1.2"/><line x1="1999.5" y1="1100.5" x2="2501.7" y2="1100.5" stroke="#f3f3f3" stroke-width="1.2"/><line x1="2070.5" y1="965.8" x2="2070.5" y2="1902.9" stroke="#ebebeb" stroke-width="2"/><line x1="2155.3" y1="965.8" x2="2155.3" y2="1902.9" stroke="#ebebeb" stroke-width="2"/><line x1="2240.2" y1="965.8" x2="2240.2" y2="1902.9" stroke="#ebebeb" stroke-width="2"/><line x1="2325.0" y1="965.8" x2="2325.0" y2="1902.9" stroke="#ebebeb" stroke-width="2"/><line x1="2409.9" y1="965.8" x2="2409.9" y2="1902.9" stroke="#ebebeb" stroke-width="2"/><line x1="2494.8" y1="965.8" x2="2494.8" y2="1902.9" stroke="#ebebeb" stroke-width="2"/><line x1="1999.5" y1="1757.1" x2="2501.7" y2="1757.1" stroke="#ebebeb" stroke-width="2"/><line x1="1999.5" y1="1569.5" x2="2501.7" y2="1569.5" stroke="#ebebeb" stroke-width="2"/><line x1="1999.5" y1="1381.9" x2="2501.7" y2="1381.9" stroke="#ebebeb" stroke-width="2"/><line x1="1999.5" y1="1194.3" x2="2501.7" y2="1194.3" stroke="#ebebeb" stroke-width="2"/><line x1="1999.5" y1="1006.7" x2="2501.7" y2="1006.7" stroke="#ebebeb" stroke-width="2"/><circle class="pt" cx="2245.6" cy="1196.9" r="12.9"/><circle class="pt" cx="2241.4" cy="1261.1" r="12.9"/><circle class="pt" cx="2235.4" cy="1135.3" r="12.9"/><circle class="pt" cx="2396.3" cy="1033.0" r="12.9"/><circle class="pt" cx="2234.3" cy="1154.8" r="12.9"/><circle class="pt" cx="2216.6" cy="1142.3" r="12.9"/><circle class="pt" cx="2242.2" cy="1274.1" r="12.9"/><circle class="pt" cx="2138.3" cy="1268.2" r="12.9"/><circle class="pt" cx="2172.2" cy="1072.5" r="12.9"/><circle class="pt" cx="2235.5" cy="1112.4" r="12.9"/><circle class="pt" cx="2151.6" cy="1175.9" r="12.9"/><circle class="pt" cx="2189.2" cy="1216.8" r="12.9"/><circle class="pt" cx="2214.1" cy="1203.7" r="12.9"/><circle class="pt" cx="2242.3" cy="1209.6" r="12.9"/><circle class="pt" cx="2238.9" cy="1045.6" r="12.9"/><circle class="pt" cx="2124.5" cy="1295.8" r="12.9"/><circle class="pt" cx="2238.1" cy="1038.4" r="12.9"/><circle class="pt" cx="2119.8" cy="1176.6" r="12.9"/><circle class="pt" cx="2239.8" cy="1157.5" r="12.9"/><circle class="pt" cx="2244.7" cy="1106.6" r="12.9"/><circle class="pt" cx="2237.9" cy="1195.8" r="12.9"/><circle class="pt" cx="2205.0" cy="1190.1" r="12.9"/><circle class="pt" cx="2241.7" cy="1058.8" r="12.9"/><circle class="pt" cx="2238.5" cy="1327.5" r="12.9"/><circle class="pt" cx="2218.7" cy="1108.6" r="12.9"/><circle class="pt" cx="2152.6" cy="1314.5" r="12.9"/><circle class="pt" cx="2120.3" cy="1169.2" r="12.9"/><circle class="pt" cx="2239.4" cy="1102.1" r="12.9"/><circle class="pt" cx="2201.1" cy="1206.4" r="12.9"/><circle class="pt" cx="2223.5" cy="1275.2" r="12.9"/><circle class="pt" cx="2092.2" cy="1338.5" r="12.9"/><circle class="pt" cx="2245.4" cy="1211.0" r="12.9"/><circle class="pt" cx="2081.1" cy="1223.7" r="12.9"/><circle class="pt" cx="2142.3" cy="1149.6" r="12.9"/><circle class="pt" cx="2156.9" cy="1192.5" r="12.9"/><circle class="pt" cx="2247.4" cy="1169.6" r="12.9"/><circle class="pt" cx="2062.6" cy="1295.0" r="12.9"/><circle class="pt" cx="2137.1" cy="1151.9" r="12.9"/><circle class="pt" cx="2122.6" cy="1339.6" r="12.9"/><circle class="pt" cx="2108.1" cy="1161.1" r="12.9"/><circle class="pt" cx="2163.6" cy="1241.4" r="12.9"/><circle class="pt" cx="2186.5" cy="1168.3" r="12.9"/><circle class="pt" cx="2241.1" cy="1223.4" r="12.9"/><circle class="pt" cx="2118.5" cy="1209.3" r="12.9"/><circle class="pt" cx="2243.4" cy="1231.4" r="12.9"/><circle class="pt" cx="2238.1" cy="1103.7" r="12.9"/><circle class="pt" cx="2128.4" cy="1270.8" r="12.9"/><circle class="pt" cx="2316.6" cy="1096.7" r="12.9"/><circle class="pt" cx="2117.8" cy="1136.7" r="12.9"/><circle class="pt" cx="2162.0" cy="1137.2" r="12.9"/><circle class="pt" cx="2079.6" cy="1149.0" r="12.9"/><circle class="pt" cx="2184.7" cy="1055.3" r="12.9"/><circle class="pt" cx="2242.5" cy="1123.7" r="12.9"/><circle class="pt" cx="2139.2" cy="1259.3" r="12.9"/><circle class="pt" cx="2240.2" cy="1014.2" r="12.9"/><circle class="pt" cx="2236.1" cy="1116.4" r="12.9"/><circle class="pt" cx="2248.8" cy="1163.6" r="12.9"/><circle class="pt" cx="2299.6" cy="1096.7" r="12.9"/><circle class="pt" cx="2234.9" cy="1243.1" r="12.9"/><circle class="pt" cx="2135.6" cy="1216.3" r="12.9"/><circle class="pt" cx="2183.7" cy="1229.3" r="12.9"/><circle class="pt" cx="2216.7" cy="1137.6" r="12.9"/><circle class="pt" cx="2093.9" cy="1273.4" r="12.9"/><circle class="pt" cx="2240.1" cy="1213.1" r="12.9"/><circle class="pt" cx="2240.0" cy="1282.0" r="12.9"/><circle class="pt" cx="2202.3" cy="1063.5" r="12.9"/><circle class="pt" cx="2118.0" cy="1237.3" r="12.9"/><circle class="pt" cx="2238.0" cy="1084.8" r="12.9"/><circle class="pt" cx="2177.1" cy="1207.6" r="12.9"/><circle class="pt" cx="2242.5" cy="1117.8" r="12.9"/><circle class="pt" cx="2244.3" cy="1196.4" r="12.9"/><circle class="pt" cx="2242.6" cy="1235.3" r="12.9"/><circle class="pt" cx="2203.0" cy="1257.9" r="12.9"/><circle class="pt" cx="2205.9" cy="1231.4" r="12.9"/><circle class="pt" cx="2241.6" cy="1107.3" r="12.9"/><circle class="pt" cx="2240.0" cy="1129.1" r="12.9"/><circle class="pt" cx="2235.9" cy="1201.5" r="12.9"/><circle class="pt" cx="2381.1" cy="1044.2" r="12.9"/><circle class="pt" cx="2090.2" cy="1200.6" r="12.9"/><circle class="pt" cx="2113.0" cy="1139.6" r="12.9"/><circle class="pt" cx="2234.8" cy="1134.3" r="12.9"/><circle class="pt" cx="2201.4" cy="1072.3" r="12.9"/><circle class="pt" cx="2100.4" cy="1070.6" r="12.9"/><circle class="pt" cx="2231.8" cy="1129.8" r="12.9"/><circle class="pt" cx="2186.2" cy="1128.3" r="12.9"/><circle class="pt" cx="2155.8" cy="1163.4" r="12.9"/><circle class="pt" cx="2189.2" cy="1265.1" r="12.9"/><circle class="pt" cx="2107.4" cy="1237.4" r="12.9"/><circle class="pt" cx="2227.3" cy="1130.8" r="12.9"/><circle class="pt" cx="2097.3" cy="1205.1" r="12.9"/><circle class="pt" cx="2135.1" cy="1211.8" r="12.9"/><circle class="pt" cx="2242.2" cy="1164.5" r="12.9"/><circle class="pt" cx="2133.1" cy="1201.3" r="12.9"/><circle class="pt" cx="2246.8" cy="1126.0" r="12.9"/><circle class="pt" cx="2163.8" cy="1154.3" r="12.9"/><circle class="pt" cx="2203.2" cy="1149.4" r="12.9"/><circle class="pt" cx="2370.9" cy="1138.0" r="12.9"/><circle class="pt" cx="2241.1" cy="1258.6" r="12.9"/><circle class="pt" cx="2477.8" cy="1139.9" r="12.9"/><circle class="pt" cx="2099.3" cy="1215.1" r="12.9"/><circle class="pt" cx="2244.7" cy="1200.6" r="12.9"/><circle class="pt" cx="2320.0" cy="1109.9" r="12.9"/><circle class="pt" cx="2249.1" cy="1150.7" r="12.9"/><circle class="pt" cx="2084.4" cy="1258.7" r="12.9"/><circle class="pt" cx="2233.2" cy="1177.7" r="12.9"/><circle class="pt" cx="2106.4" cy="1295.9" r="12.9"/><circle class="pt" cx="2036.6" cy="1387.5" r="12.9"/><circle class="pt" cx="2075.9" cy="1132.8" r="12.9"/><circle class="pt" cx="2239.9" cy="1132.3" r="12.9"/><circle class="pt" cx="2137.3" cy="1133.5" r="12.9"/><circle class="pt" cx="2247.8" cy="1088.7" r="12.9"/><circle class="pt" cx="2243.1" cy="1210.0" r="12.9"/><circle class="pt" cx="2130.5" cy="1226.9" r="12.9"/><circle class="pt" cx="2243.4" cy="1238.9" r="12.9"/><circle class="pt" cx="2246.3" cy="1216.2" r="12.9"/><circle class="pt" cx="2079.6" cy="1203.5" r="12.9"/><circle class="pt" cx="2236.7" cy="1154.8" r="12.9"/><circle class="pt" cx="2234.8" cy="1140.6" r="12.9"/><circle class="pt" cx="2124.4" cy="1119.9" r="12.9"/><circle class="pt" cx="2240.3" cy="1099.6" r="12.9"/><circle class="pt" cx="2115.9" cy="1269.3" r="12.9"/><circle class="pt" cx="2233.7" cy="1173.6" r="12.9"/><circle class="pt" cx="2163.0" cy="1197.9" r="12.9"/><circle class="pt" cx="2233.7" cy="1212.2" r="12.9"/><circle class="pt" cx="2245.1" cy="1120.4" r="12.9"/><circle class="pt" cx="2101.9" cy="1268.5" r="12.9"/><circle class="pt" cx="2152.3" cy="1111.9" r="12.9"/><circle class="pt" cx="2123.8" cy="1190.5" r="12.9"/><circle class="pt" cx="2118.3" cy="1171.6" r="12.9"/><circle class="pt" cx="2098.2" cy="1274.2" r="12.9"/><circle class="pt" cx="2121.3" cy="1118.3" r="12.9"/><circle class="pt" cx="2239.7" cy="1094.4" r="12.9"/><circle class="pt" cx="2177.6" cy="1186.6" r="12.9"/><circle class="pt" cx="2239.5" cy="1115.3" r="12.9"/><circle class="pt" cx="2219.3" cy="1155.6" r="12.9"/><circle class="pt" cx="2282.6" cy="1162.4" r="12.9"/><circle class="pt" cx="2342.0" cy="1128.6" r="12.9"/><circle class="pt" cx="2241.2" cy="1216.9" r="12.9"/><circle class="pt" cx="2244.0" cy="1216.6" r="12.9"/><circle class="pt" cx="2239.8" cy="1176.4" r="12.9"/><circle class="pt" cx="2118.9" cy="1258.8" r="12.9"/><circle class="pt" cx="2241.9" cy="1098.5" r="12.9"/><circle class="pt" cx="2229.9" cy="1052.3" r="12.9"/><circle class="pt" cx="2235.1" cy="1214.6" r="12.9"/><circle class="pt" cx="2131.4" cy="1231.9" r="12.9"/><circle class="pt" cx="2175.1" cy="1150.2" r="12.9"/><circle class="pt" cx="2219.8" cy="1029.2" r="12.9"/><circle class="pt" cx="2182.0" cy="1154.8" r="12.9"/><circle class="pt" cx="2214.2" cy="1110.4" r="12.9"/><circle class="pt" cx="2127.3" cy="1176.6" r="12.9"/><circle class="pt" cx="2186.5" cy="1247.8" r="12.9"/><circle class="pt" cx="2248.5" cy="1088.1" r="12.9"/><circle class="pt" cx="2088.7" cy="1238.4" r="12.9"/><circle class="pt" cx="2157.3" cy="1068.5" r="12.9"/><circle class="pt" cx="2132.6" cy="1102.5" r="12.9"/><circle class="pt" cx="2225.0" cy="1109.9" r="12.9"/><circle class="pt" cx="2258.5" cy="1086.7" r="12.9"/><circle class="pt" cx="2245.2" cy="1244.7" r="12.9"/><circle class="pt" cx="2193.7" cy="1110.5" r="12.9"/><circle class="pt" cx="2215.8" cy="1099.1" r="12.9"/><circle class="pt" cx="2221.6" cy="1133.1" r="12.9"/><circle class="pt" cx="2253.7" cy="1254.1" r="12.9"/><circle class="pt" cx="2128.0" cy="1257.4" r="12.9"/><circle class="pt" cx="2244.4" cy="1226.4" r="12.9"/><circle class="pt" cx="2184.6" cy="1219.3" r="12.9"/><circle class="pt" cx="2367.5" cy="1138.0" r="12.9"/><circle class="pt" cx="2092.3" cy="1220.1" r="12.9"/><circle class="pt" cx="2122.5" cy="1275.3" r="12.9"/><circle class="pt" cx="2243.7" cy="1181.2" r="12.9"/><circle class="pt" cx="2149.4" cy="1118.6" r="12.9"/><circle class="pt" cx="2246.4" cy="1250.2" r="12.9"/><circle class="pt" cx="2129.3" cy="1242.3" r="12.9"/><circle class="pt" cx="2242.4" cy="1199.9" r="12.9"/><circle class="pt" cx="2086.9" cy="1324.5" r="12.9"/><circle class="pt" cx="2230.6" cy="1058.2" r="12.9"/><circle class="pt" cx="2248.5" cy="1263.3" r="12.9"/><circle class="pt" cx="2019.6" cy="1348.1" r="12.9"/><circle class="pt" cx="2194.9" cy="1188.5" r="12.9"/><circle class="pt" cx="2121.1" cy="1182.9" r="12.9"/><circle class="pt" cx="2147.2" cy="1164.6" r="12.9"/><circle class="pt" cx="2114.1" cy="1248.6" r="12.9"/><circle class="pt" cx="2080.1" cy="1297.3" r="12.9"/><circle class="pt" cx="2093.1" cy="1339.9" r="12.9"/><circle class="pt" cx="2244.1" cy="1194.1" r="12.9"/><circle class="pt" cx="2234.5" cy="1199.8" r="12.9"/><circle class="pt" cx="2214.6" cy="1240.0" r="12.9"/><circle class="pt" cx="2254.3" cy="1190.3" r="12.9"/><circle class="pt" cx="2096.8" cy="1321.3" r="12.9"/><circle class="pt" cx="2242.2" cy="1124.7" r="12.9"/><circle class="pt" cx="2231.6" cy="1080.9" r="12.9"/><circle class="pt" cx="2251.1" cy="1172.3" r="12.9"/><circle class="pt" cx="2190.1" cy="1255.4" r="12.9"/><circle class="pt" cx="2237.9" cy="1287.5" r="12.9"/><circle class="pt" cx="2250.4" cy="1189.7" r="12.9"/><circle class="pt" cx="2250.7" cy="1127.9" r="12.9"/><circle class="pt" cx="2234.7" cy="1161.5" r="12.9"/><circle class="pt" cx="2243.3" cy="1243.1" r="12.9"/><circle class="pt" cx="2199.9" cy="1150.8" r="12.9"/><circle class="pt" cx="2167.1" cy="1198.0" r="12.9"/><circle class="pt" cx="2238.1" cy="1083.6" r="12.9"/><circle class="pt" cx="2122.8" cy="1132.5" r="12.9"/><circle class="pt" cx="2192.3" cy="1193.8" r="12.9"/><circle class="pt" cx="2083.2" cy="1217.2" r="12.9"/><circle class="pt" cx="2237.5" cy="1157.3" r="12.9"/><circle class="pt" cx="2241.1" cy="1161.1" r="12.9"/><circle class="pt" cx="2132.3" cy="1251.8" r="12.9"/><circle class="pt" cx="2083.3" cy="1219.8" r="12.9"/><circle class="pt" cx="2098.2" cy="1213.4" r="12.9"/><circle class="pt" cx="2169.3" cy="1143.8" r="12.9"/><circle class="pt" cx="2073.7" cy="1142.7" r="12.9"/><circle class="pt" cx="2092.4" cy="1300.6" r="12.9"/><circle class="pt" cx="2237.2" cy="1054.6" r="12.9"/><circle class="pt" cx="2241.1" cy="1181.3" r="12.9"/><circle class="pt" cx="2240.6" cy="1173.0" r="12.9"/><circle class="pt" cx="2245.8" cy="1262.3" r="12.9"/><circle class="pt" cx="2091.7" cy="1227.4" r="12.9"/><circle class="pt" cx="2249.7" cy="1096.5" r="12.9"/><circle class="pt" cx="2257.2" cy="1066.7" r="12.9"/><circle class="pt" cx="2240.1" cy="1144.4" r="12.9"/><circle class="pt" cx="2105.2" cy="1200.3" r="12.9"/><circle class="pt" cx="2235.6" cy="1128.9" r="12.9"/><circle class="pt" cx="2230.6" cy="1179.4" r="12.9"/><circle class="pt" cx="2073.7" cy="1280.5" r="12.9"/><circle class="pt" cx="2245.8" cy="1158.9" r="12.9"/><circle class="pt" cx="2203.5" cy="1079.8" r="12.9"/><circle class="pt" cx="2192.7" cy="1197.9" r="12.9"/><circle class="pt" cx="2157.8" cy="1133.5" r="12.9"/><circle class="pt" cx="2233.6" cy="1107.7" r="12.9"/><circle class="pt" cx="2282.6" cy="1141.8" r="12.9"/><circle class="pt" cx="2179.0" cy="1213.0" r="12.9"/><circle class="pt" cx="2224.3" cy="1225.2" r="12.9"/><circle class="pt" cx="2245.3" cy="1168.4" r="12.9"/><circle class="pt" cx="2236.9" cy="1130.1" r="12.9"/><circle class="pt" cx="2184.9" cy="1170.0" r="12.9"/><circle class="pt" cx="2148.2" cy="1167.4" r="12.9"/><circle class="pt" cx="2182.6" cy="1299.7" r="12.9"/><circle class="pt" cx="2240.5" cy="1080.4" r="12.9"/><circle class="pt" cx="2126.0" cy="1076.5" r="12.9"/><circle class="pt" cx="2149.1" cy="1187.5" r="12.9"/><circle class="pt" cx="2157.0" cy="1121.4" r="12.9"/><circle class="pt" cx="2232.1" cy="1229.2" r="12.9"/><circle class="pt" cx="2155.5" cy="1225.4" r="12.9"/><circle class="pt" cx="2140.1" cy="1208.2" r="12.9"/><circle class="pt" cx="2154.3" cy="1205.2" r="12.9"/><circle class="pt" cx="2026.4" cy="1321.9" r="12.9"/><circle class="pt" cx="2235.2" cy="1110.7" r="12.9"/><circle class="pt" cx="2232.6" cy="1095.5" r="12.9"/><circle class="pt" cx="2087.2" cy="1123.8" r="12.9"/><circle class="pt" cx="2104.9" cy="1170.4" r="12.9"/><circle class="pt" cx="2248.1" cy="1136.3" r="12.9"/><circle class="pt" cx="2095.7" cy="1237.7" r="12.9"/><circle class="pt" cx="2022.1" cy="1860.3" r="12.9"/><circle class="pt" cx="2232.3" cy="1188.1" r="12.9"/><circle class="pt" cx="2246.3" cy="1226.9" r="12.9"/><circle class="pt" cx="2242.2" cy="1176.2" r="12.9"/><circle class="pt" cx="2118.5" cy="1261.8" r="12.9"/><circle class="pt" cx="2130.1" cy="1133.6" r="12.9"/><circle class="pt" cx="2244.7" cy="1237.9" r="12.9"/><circle class="pt" cx="2249.0" cy="1124.1" r="12.9"/><circle class="pt" cx="2185.9" cy="1206.3" r="12.9"/><circle class="pt" cx="2231.7" cy="1306.9" r="12.9"/><circle class="pt" cx="2229.7" cy="1276.1" r="12.9"/><circle class="pt" cx="2243.7" cy="1070.7" r="12.9"/><circle class="pt" cx="2240.8" cy="1277.8" r="12.9"/><circle class="pt" cx="2194.4" cy="1097.1" r="12.9"/><circle class="pt" cx="2240.7" cy="1127.9" r="12.9"/><circle class="pt" cx="2178.5" cy="1192.4" r="12.9"/><circle class="pt" cx="2179.9" cy="1263.7" r="12.9"/><circle class="pt" cx="2244.1" cy="1197.7" r="12.9"/><circle class="pt" cx="2175.5" cy="1203.4" r="12.9"/><circle class="pt" cx="2129.4" cy="1257.8" r="12.9"/><circle class="pt" cx="2138.8" cy="1233.1" r="12.9"/><circle class="pt" cx="2203.4" cy="1149.4" r="12.9"/><circle class="pt" cx="2184.3" cy="1303.0" r="12.9"/><circle class="pt" cx="2156.0" cy="1172.4" r="12.9"/><circle class="pt" cx="2243.7" cy="1159.9" r="12.9"/><circle class="pt" cx="2210.8" cy="1094.4" r="12.9"/><circle class="pt" cx="2221.8" cy="1274.7" r="12.9"/><circle class="pt" cx="2240.2" cy="1209.3" r="12.9"/><circle class="pt" cx="2198.2" cy="1209.1" r="12.9"/><circle class="pt" cx="2236.9" cy="1245.1" r="12.9"/><circle class="pt" cx="2153.9" cy="1223.3" r="12.9"/><circle class="pt" cx="2184.2" cy="1049.8" r="12.9"/><circle class="pt" cx="2244.6" cy="1109.6" r="12.9"/><circle class="pt" cx="2189.3" cy="1063.0" r="12.9"/><circle class="pt" cx="2126.3" cy="1191.6" r="12.9"/><circle class="pt" cx="2242.7" cy="1207.8" r="12.9"/><circle class="pt" cx="2240.6" cy="1123.9" r="12.9"/><circle class="pt" cx="2242.4" cy="1253.3" r="12.9"/><circle class="pt" cx="2237.9" cy="1114.5" r="12.9"/><circle class="pt" cx="2239.9" cy="1144.0" r="12.9"/><circle class="pt" cx="2236.2" cy="1091.2" r="12.9"/><circle class="pt" cx="2076.1" cy="1206.0" r="12.9"/><circle class="pt" cx="2024.7" cy="1282.5" r="12.9"/><circle class="pt" cx="2141.5" cy="1275.9" r="12.9"/><circle class="pt" cx="2113.8" cy="1288.7" r="12.9"/><circle class="pt" cx="2231.0" cy="1176.3" r="12.9"/><circle class="pt" cx="2362.4" cy="1126.8" r="12.9"/><circle class="pt" cx="2191.3" cy="1219.9" r="12.9"/><circle class="pt" cx="2260.6" cy="1115.5" r="12.9"/><circle class="pt" cx="2224.6" cy="1215.9" r="12.9"/><circle class="pt" cx="2163.8" cy="1130.9" r="12.9"/><circle class="pt" cx="2122.8" cy="1231.0" r="12.9"/><circle class="pt" cx="2160.8" cy="1114.0" r="12.9"/><circle class="pt" cx="2193.4" cy="1204.8" r="12.9"/><circle class="pt" cx="2120.6" cy="1242.1" r="12.9"/><circle class="pt" cx="2031.5" cy="1406.3" r="12.9"/><circle class="pt" cx="2210.1" cy="1213.0" r="12.9"/><circle class="pt" cx="2243.7" cy="1242.3" r="12.9"/><circle class="pt" cx="2260.6" cy="1213.1" r="12.9"/><circle class="pt" cx="2123.8" cy="1240.0" r="12.9"/><circle class="pt" cx="2233.4" cy="1225.5" r="12.9"/><circle class="pt" cx="2249.0" cy="1205.2" r="12.9"/><circle class="pt" cx="2240.5" cy="1227.2" r="12.9"/><circle class="pt" cx="2245.0" cy="1031.0" r="12.9"/><circle class="pt" cx="2236.4" cy="1156.4" r="12.9"/><circle class="pt" cx="2172.6" cy="1257.6" r="12.9"/><circle class="pt" cx="2308.1" cy="1141.8" r="12.9"/><circle class="pt" cx="2119.2" cy="1313.4" r="12.9"/><circle class="pt" cx="2116.6" cy="1156.7" r="12.9"/><circle class="pt" cx="2243.0" cy="1049.3" r="12.9"/><circle class="pt" cx="2247.2" cy="1188.2" r="12.9"/><circle class="pt" cx="2240.8" cy="1107.4" r="12.9"/><circle class="pt" cx="2247.9" cy="1255.8" r="12.9"/><circle class="pt" cx="2114.6" cy="1154.6" r="12.9"/><circle class="pt" cx="2161.8" cy="1113.1" r="12.9"/><circle class="pt" cx="2232.9" cy="1161.4" r="12.9"/><circle class="pt" cx="2234.2" cy="1090.9" r="12.9"/><circle class="pt" cx="2233.4" cy="1300.2" r="12.9"/><circle class="pt" cx="2221.5" cy="1172.8" r="12.9"/><circle class="pt" cx="2113.3" cy="1241.5" r="12.9"/><circle class="pt" cx="2182.7" cy="1182.2" r="12.9"/><circle class="pt" cx="2241.0" cy="1115.0" r="12.9"/><circle class="pt" cx="2172.4" cy="1218.8" r="12.9"/><circle class="pt" cx="2192.2" cy="1184.7" r="12.9"/><circle class="pt" cx="2191.4" cy="1168.8" r="12.9"/><circle class="pt" cx="2158.1" cy="1216.5" r="12.9"/><circle class="pt" cx="2248.6" cy="1198.2" r="12.9"/><circle class="pt" cx="2237.6" cy="1144.6" r="12.9"/><circle class="pt" cx="2242.9" cy="1218.2" r="12.9"/><circle class="pt" cx="2084.8" cy="1225.0" r="12.9"/><circle class="pt" cx="2150.8" cy="1217.4" r="12.9"/><circle class="pt" cx="2172.7" cy="1257.8" r="12.9"/><circle class="pt" cx="2118.5" cy="1234.4" r="12.9"/><circle class="pt" cx="2246.4" cy="1176.6" r="12.9"/><circle class="pt" cx="2182.7" cy="1076.9" r="12.9"/><circle class="pt" cx="2239.1" cy="1064.2" r="12.9"/><circle class="pt" cx="2235.1" cy="1235.4" r="12.9"/><circle class="pt" cx="2235.6" cy="1152.0" r="12.9"/><circle class="pt" cx="2239.4" cy="1209.5" r="12.9"/><circle class="pt" cx="2226.3" cy="1125.6" r="12.9"/><circle class="pt" cx="2200.2" cy="1225.6" r="12.9"/><circle class="pt" cx="2201.7" cy="1193.2" r="12.9"/><circle class="pt" cx="2083.8" cy="1259.0" r="12.9"/><circle class="pt" cx="2249.9" cy="1169.3" r="12.9"/><circle class="pt" cx="2234.8" cy="1022.9" r="12.9"/><circle class="pt" cx="2226.4" cy="1134.7" r="12.9"/><circle class="pt" cx="2244.2" cy="1160.5" r="12.9"/><circle class="pt" cx="2242.4" cy="1098.4" r="12.9"/><circle class="pt" cx="2159.9" cy="1149.8" r="12.9"/><circle class="pt" cx="2153.9" cy="1143.8" r="12.9"/><circle class="pt" cx="2234.2" cy="1199.9" r="12.9"/><circle class="pt" cx="2080.6" cy="1300.1" r="12.9"/><circle class="pt" cx="2144.1" cy="1136.1" r="12.9"/><circle class="pt" cx="2171.7" cy="1239.7" r="12.9"/><circle class="pt" cx="2130.9" cy="1170.9" r="12.9"/><circle class="pt" cx="2169.6" cy="1284.2" r="12.9"/><circle class="pt" cx="2136.4" cy="1268.4" r="12.9"/><path d="M2023.0 1250.4L2041.9 1242.5L2060.9 1234.5L2079.8 1226.5L2098.8 1218.5L2117.7 1210.4L2136.7 1202.2L2155.6 1193.7L2174.6 1185.0L2193.5 1175.9L2212.5 1166.2L2231.4 1156.2L2250.4 1145.9L2269.3 1135.4L2288.3 1124.9L2307.2 1114.3L2326.2 1103.7L2345.1 1093.0L2364.1 1082.4L2383.0 1071.7L2402.0 1061.0L2420.9 1050.3L2439.9 1039.6L2458.8 1028.9L2477.8 1018.2L2477.8 1062.8L2458.8 1070.7L2439.9 1078.6L2420.9 1086.5L2402.0 1094.4L2383.0 1102.3L2364.1 1110.2L2345.1 1118.1L2326.2 1126.1L2307.2 1134.1L2288.3 1142.1L2269.3 1150.1L2250.4 1158.3L2231.4 1166.6L2212.5 1175.2L2193.5 1184.1L2174.6 1193.6L2155.6 1203.5L2136.7 1213.6L2117.7 1224.0L2098.8 1234.5L2079.8 1245.1L2060.9 1255.7L2041.9 1266.3L2023.0 1277.0Z" fill="#bdbdbd" fill-opacity=".55"/><line x1="2023.0" y1="1263.7" x2="2477.8" y2="1040.5" stroke="#3c68b8" stroke-width="4.8" stroke-linecap="butt"/><rect x="1999.5" y="965.8" width="502.2" height="937.1" fill="none" stroke="#808080" stroke-width="2.2"/><line x1="2070.5" y1="1902.9" x2="2070.5" y2="1910.9" stroke="#555" stroke-width="2.4"/><text class="tk" x="2070.5" y="1940.1" text-anchor="middle">−1.0</text><line x1="2155.3" y1="1902.9" x2="2155.3" y2="1910.9" stroke="#555" stroke-width="2.4"/><text class="tk" x="2155.3" y="1940.1" text-anchor="middle">−0.5</text><line x1="2240.2" y1="1902.9" x2="2240.2" y2="1910.9" stroke="#555" stroke-width="2.4"/><text class="tk" x="2240.2" y="1940.1" text-anchor="middle">0.0</text><line x1="2325.0" y1="1902.9" x2="2325.0" y2="1910.9" stroke="#555" stroke-width="2.4"/><text class="tk" x="2325.0" y="1940.1" text-anchor="middle">0.5</text><line x1="2409.9" y1="1902.9" x2="2409.9" y2="1910.9" stroke="#555" stroke-width="2.4"/><text class="tk" x="2409.9" y="1940.1" text-anchor="middle">1.0</text><line x1="2494.8" y1="1902.9" x2="2494.8" y2="1910.9" stroke="#555" stroke-width="2.4"/><text class="tk" x="2494.8" y="1940.1" text-anchor="middle">1.5</text><line x1="1991.5" y1="1757.1" x2="1999.5" y2="1757.1" stroke="#555" stroke-width="2.4"/><text class="tk" x="1984.5" y="1766.1" text-anchor="end">3</text><line x1="1991.5" y1="1569.5" x2="1999.5" y2="1569.5" stroke="#555" stroke-width="2.4"/><text class="tk" x="1984.5" y="1578.5" text-anchor="end">4</text><line x1="1991.5" y1="1381.9" x2="1999.5" y2="1381.9" stroke="#555" stroke-width="2.4"/><text class="tk" x="1984.5" y="1390.9" text-anchor="end">5</text><line x1="1991.5" y1="1194.3" x2="1999.5" y2="1194.3" stroke="#555" stroke-width="2.4"/><text class="tk" x="1984.5" y="1203.3" text-anchor="end">6</text><line x1="1991.5" y1="1006.7" x2="1999.5" y2="1006.7" stroke="#555" stroke-width="2.4"/><text class="tk" x="1984.5" y="1015.7" text-anchor="end">7</text><text class="ax" x="2248.8" y="1973.5" text-anchor="middle" style="font-size:30.3px">CASP3 CNV</text><text class="ax" transform="translate(1957.3 1434) rotate(-90)" text-anchor="middle" style="font-size:32px">CASP3 Expression</text><text x="2154.5" y="1627" font-size="30" fill="#222"><tspan font-style="italic">R</tspan> = 0.32, <tspan font-style="italic">p</tspan> = 6.4x10<tspan dy="-12" font-size="17.5">−10</tspan></text></g>
<g><text x="692.0" y="2238" font-size="31" font-weight="bold" fill="#111" text-anchor="middle" textLength="577.0" lengthAdjust="spacingAndGlyphs">Altered in 101 (83.47%) of 121 samples.</text><path d="M229.0 2270H243.0V2428H229.0" fill="none" stroke="#222" stroke-width="2"/><text class="sm" x="220.0" y="2277" text-anchor="end">1270</text><text class="sm" x="220.0" y="2435" text-anchor="end">0</text><path d="M257.0 2428v-26.9h6.3V2428zM263.9 2428v-158.0h6.3V2428zM270.8 2428v-20.5h6.3V2428zM277.7 2428v-31.6h6.3V2428zM284.6 2428v-7.9h6.3V2428zM291.5 2428v-6.3h6.3V2428zM298.4 2428v-15.8h6.3V2428zM305.3 2428v-47.4h6.3V2428zM312.2 2428v-17.4h6.3V2428zM319.0 2428v-14.2h6.3V2428zM325.9 2428v-19.0h6.3V2428zM332.8 2428v-12.6h6.3V2428zM339.7 2428v-14.2h6.3V2428zM346.6 2428v-7.9h6.3V2428zM353.5 2428v-6.3h6.3V2428zM360.4 2428v-3.6h6.3V2428zM367.3 2428v-4.5h6.3V2428zM374.2 2428v-6.4h6.3V2428zM381.1 2428v-7.9h6.3V2428zM388.0 2428v-3.6h6.3V2428zM394.9 2428v-20.5h6.3V2428zM401.8 2428v-11.1h6.3V2428zM408.7 2428v-9.5h6.3V2428zM415.6 2428v-15.8h6.3V2428zM422.5 2428v-5.2h6.3V2428zM429.4 2428v-12.6h6.3V2428zM436.2 2428v-7.9h6.3V2428zM443.1 2428v-5.3h6.3V2428zM450.0 2428v-30.0h6.3V2428zM456.9 2428v-3.0h6.3V2428zM463.8 2428v-11.1h6.3V2428zM470.7 2428v-7.9h6.3V2428zM477.6 2428v-8.1h6.3V2428zM484.5 2428v-7.2h6.3V2428zM491.4 2428v-2.4h6.3V2428zM498.3 2428v-12.6h6.3V2428zM505.2 2428v-9.5h6.3V2428zM512.1 2428v-6.1h6.3V2428zM519.0 2428v-2.1h6.3V2428zM525.9 2428v-5.3h6.3V2428zM532.8 2428v-8.1h6.3V2428zM539.7 2428v-8.4h6.3V2428zM546.6 2428v-7.6h6.3V2428zM553.4 2428v-8.5h6.3V2428zM560.3 2428v-2.6h6.3V2428zM567.2 2428v-3.4h6.3V2428zM574.1 2428v-5.0h6.3V2428zM581.0 2428v-4.0h6.3V2428zM587.9 2428v-4.6h6.3V2428zM594.8 2428v-6.1h6.3V2428zM601.7 2428v-8.3h6.3V2428zM608.6 2428v-8.5h6.3V2428zM615.5 2428v-8.9h6.3V2428zM622.4 2428v-3.1h6.3V2428zM629.3 2428v-8.8h6.3V2428zM636.2 2428v-5.9h6.3V2428zM643.1 2428v-3.4h6.3V2428zM650.0 2428v-6.0h6.3V2428zM656.9 2428v-2.3h6.3V2428zM663.7 2428v-14.6h6.3V2428zM670.6 2428v-11.1h6.3V2428zM677.5 2428v-31.6h6.3V2428zM684.4 2428v-19.0h6.3V2428zM691.3 2428v-58.5h6.3V2428zM698.2 2428v-4.8h6.3V2428zM705.1 2428v-4.0h6.3V2428zM712.0 2428v-12.5h6.3V2428zM718.9 2428v-2.2h6.3V2428zM725.8 2428v-4.2h6.3V2428zM732.7 2428v-8.9h6.3V2428zM739.6 2428v-9.0h6.3V2428zM746.5 2428v-2.4h6.3V2428zM753.4 2428v-2.1h6.3V2428zM760.3 2428v-4.8h6.3V2428zM767.2 2428v-9.2h6.3V2428zM774.1 2428v-4.1h6.3V2428zM780.9 2428v-19.0h6.3V2428zM787.8 2428v-9.5h6.3V2428zM794.7 2428v-8.3h6.3V2428zM801.6 2428v-5.2h6.3V2428zM808.5 2428v-6.5h6.3V2428zM815.4 2428v-14.2h6.3V2428zM822.3 2428v-12.6h6.3V2428zM829.2 2428v-5.9h6.3V2428zM836.1 2428v-11.1h6.3V2428zM843.0 2428v-12.6h6.3V2428zM849.9 2428v-8.6h6.3V2428zM856.8 2428v-5.0h6.3V2428zM863.7 2428v-15.8h6.3V2428zM870.6 2428v-7.9h6.3V2428zM877.5 2428v-3.6h6.3V2428zM884.4 2428v-8.8h6.3V2428zM891.3 2428v-8.7h6.3V2428zM898.1 2428v-10.4h6.3V2428zM905.0 2428v-10.9h6.3V2428zM911.9 2428v-5.2h6.3V2428zM918.8 2428v-4.4h6.3V2428zM925.7 2428v-7.6h6.3V2428zM932.6 2428v-11.1h6.3V2428zM939.5 2428v-6.7h6.3V2428zM946.4 2428v-3.7h6.3V2428z" fill="#3aa236"/><rect x="263.9" y="2270.0" width="6.3" height="7.5" fill="#ff7f00"/><rect x="263.9" y="2277.5" width="6.3" height="9.9" fill="#e31a1c"/><rect x="691.3" y="2369.5" width="6.3" height="4.0" fill="#ff7f00"/><rect x="691.3" y="2373.6" width="6.3" height="4.9" fill="#e31a1c"/><rect x="256.7" y="2441.9" width="696.3" height="31.7" fill="#cfcfcf"/><rect x="256.70" y="2441.9" width="6.89" height="31.7" fill="#1f78b4"/><rect x="263.59" y="2441.9" width="13.79" height="31.7" fill="#33a02c"/><rect x="277.38" y="2441.9" width="6.89" height="31.7" fill="#000000"/><rect x="284.28" y="2441.9" width="27.58" height="31.7" fill="#33a02c"/><rect x="311.85" y="2441.9" width="6.89" height="31.7" fill="#6a3d9a"/><rect x="318.75" y="2441.9" width="6.89" height="31.7" fill="#33a02c"/><rect x="325.64" y="2441.9" width="13.79" height="31.7" fill="#e31a1c"/><rect x="339.43" y="2441.9" width="13.79" height="31.7" fill="#33a02c"/><rect x="353.22" y="2441.9" width="6.89" height="31.7" fill="#e31a1c"/><rect x="360.11" y="2441.9" width="13.79" height="31.7" fill="#33a02c"/><rect x="373.90" y="2441.9" width="6.89" height="31.7" fill="#ff7f00"/><rect x="380.79" y="2441.9" width="20.68" height="31.7" fill="#33a02c"/><rect x="401.48" y="2441.9" width="13.79" height="31.7" fill="#1f78b4"/><rect x="415.26" y="2441.9" width="20.68" height="31.7" fill="#33a02c"/><rect x="435.95" y="2441.9" width="6.89" height="31.7" fill="#e31a1c"/><rect x="442.84" y="2441.9" width="6.89" height="31.7" fill="#1f78b4"/><rect x="449.73" y="2441.9" width="13.79" height="31.7" fill="#33a02c"/><rect x="463.52" y="2441.9" width="6.89" height="31.7" fill="#1f78b4"/><rect x="470.42" y="2441.9" width="6.89" height="31.7" fill="#33a02c"/><rect x="477.31" y="2441.9" width="6.89" height="31.7" fill="#1f78b4"/><rect x="484.20" y="2441.9" width="13.79" height="31.7" fill="#33a02c"/><rect x="497.99" y="2441.9" width="6.89" height="31.7" fill="#e31a1c"/><rect x="504.89" y="2441.9" width="20.68" height="31.7" fill="#33a02c"/><rect x="525.57" y="2441.9" width="6.89" height="31.7" fill="#ff7f00"/><rect x="532.46" y="2441.9" width="6.89" height="31.7" fill="#e31a1c"/><rect x="539.36" y="2441.9" width="6.89" height="31.7" fill="#ff7f00"/><rect x="546.25" y="2441.9" width="6.89" height="31.7" fill="#e31a1c"/><rect x="553.14" y="2441.9" width="6.89" height="31.7" fill="#ff7f00"/><rect x="560.04" y="2441.9" width="6.89" height="31.7" fill="#33a02c"/><rect x="566.93" y="2441.9" width="6.89" height="31.7" fill="#6a3d9a"/><rect x="573.83" y="2441.9" width="6.89" height="31.7" fill="#1f78b4"/><rect x="580.72" y="2441.9" width="20.68" height="31.7" fill="#33a02c"/><rect x="601.40" y="2441.9" width="6.89" height="31.7" fill="#e31a1c"/><rect x="608.30" y="2441.9" width="6.89" height="31.7" fill="#33a02c"/><rect x="615.19" y="2441.9" width="6.89" height="31.7" fill="#1f78b4"/><rect x="622.09" y="2441.9" width="41.36" height="31.7" fill="#33a02c"/><text class="g" x="246.5" y="2468.5">TP53</text><text class="pc" x="956.0" y="2468.1">49%</text><rect x="1027.7" y="2445.4" width="120.6" height="29.2" fill="#33a02c"/><rect x="1148.3" y="2445.4" width="26.3" height="29.2" fill="#1f78b4"/><rect x="1174.6" y="2445.4" width="29.1" height="29.2" fill="#e31a1c"/><rect x="1203.7" y="2445.4" width="4.6" height="29.2" fill="#6a3d9a"/><rect x="1208.3" y="2445.4" width="13.1" height="29.2" fill="#ff7f00"/><rect x="1221.4" y="2445.4" width="5.6" height="29.2" fill="#000000"/><rect x="256.7" y="2476.0" width="696.3" height="31.7" fill="#cfcfcf"/><rect x="256.70" y="2476.0" width="6.89" height="31.7" fill="#33a02c"/><rect x="277.38" y="2476.0" width="20.68" height="31.7" fill="#33a02c"/><rect x="353.22" y="2476.0" width="6.89" height="31.7" fill="#33a02c"/><rect x="387.69" y="2476.0" width="20.68" height="31.7" fill="#33a02c"/><rect x="663.45" y="2476.0" width="6.89" height="31.7" fill="#33a02c"/><rect x="691.03" y="2476.0" width="20.68" height="31.7" fill="#33a02c"/><rect x="766.86" y="2476.0" width="6.89" height="31.7" fill="#33a02c"/><rect x="808.22" y="2476.0" width="27.58" height="31.7" fill="#33a02c"/><text class="g" x="246.5" y="2502.6">CTNNB1</text><text class="pc" x="956.0" y="2502.2">14%</text><rect x="1027.7" y="2479.5" width="57.7" height="29.2" fill="#33a02c"/><rect x="256.7" y="2510.1" width="696.3" height="31.7" fill="#cfcfcf"/><rect x="256.70" y="2510.1" width="6.89" height="31.7" fill="#33a02c"/><rect x="263.59" y="2510.1" width="6.89" height="31.7" fill="#000000"/><rect x="270.49" y="2510.1" width="27.58" height="31.7" fill="#33a02c"/><rect x="298.06" y="2510.1" width="20.68" height="31.7" fill="#000000"/><rect x="318.75" y="2510.1" width="6.89" height="31.7" fill="#1f78b4"/><rect x="325.64" y="2510.1" width="6.89" height="31.7" fill="#000000"/><rect x="332.53" y="2510.1" width="20.68" height="31.7" fill="#33a02c"/><rect x="663.45" y="2510.1" width="13.79" height="31.7" fill="#33a02c"/><rect x="677.24" y="2510.1" width="20.68" height="31.7" fill="#000000"/><rect x="697.92" y="2510.1" width="34.47" height="31.7" fill="#33a02c"/><rect x="732.39" y="2510.1" width="6.89" height="31.7" fill="#000000"/><rect x="739.28" y="2510.1" width="27.58" height="31.7" fill="#33a02c"/><text class="g" x="246.5" y="2536.7">TTN</text><text class="pc" x="956.0" y="2536.3">24%</text><rect x="1027.7" y="2513.6" width="66.3" height="29.2" fill="#33a02c"/><rect x="1094.0" y="2513.6" width="31.7" height="29.2" fill="#000000"/><rect x="256.7" y="2544.1" width="696.3" height="31.7" fill="#cfcfcf"/><rect x="256.70" y="2544.1" width="6.89" height="31.7" fill="#33a02c"/><rect x="263.59" y="2544.1" width="6.89" height="31.7" fill="#000000"/><rect x="270.49" y="2544.1" width="6.89" height="31.7" fill="#33a02c"/><rect x="353.22" y="2544.1" width="20.68" height="31.7" fill="#33a02c"/><rect x="373.90" y="2544.1" width="6.89" height="31.7" fill="#000000"/><rect x="380.79" y="2544.1" width="6.89" height="31.7" fill="#33a02c"/><rect x="663.45" y="2544.1" width="13.79" height="31.7" fill="#33a02c"/><rect x="677.24" y="2544.1" width="6.89" height="31.7" fill="#000000"/><rect x="684.13" y="2544.1" width="6.89" height="31.7" fill="#1f78b4"/><rect x="766.86" y="2544.1" width="20.68" height="31.7" fill="#33a02c"/><rect x="787.54" y="2544.1" width="6.89" height="31.7" fill="#e31a1c"/><rect x="794.44" y="2544.1" width="13.79" height="31.7" fill="#33a02c"/><text class="g" x="246.5" y="2570.7">MUC16</text><text class="pc" x="956.0" y="2570.3">15%</text><rect x="1027.7" y="2547.6" width="45.7" height="29.2" fill="#33a02c"/><rect x="1073.4" y="2547.6" width="4.3" height="29.2" fill="#e31a1c"/><rect x="1077.7" y="2547.6" width="10.0" height="29.2" fill="#000000"/><rect x="256.7" y="2578.2" width="696.3" height="31.7" fill="#cfcfcf"/><rect x="270.49" y="2578.2" width="6.89" height="31.7" fill="#33a02c"/><rect x="429.05" y="2578.2" width="6.89" height="31.7" fill="#6a3d9a"/><rect x="442.84" y="2578.2" width="6.89" height="31.7" fill="#1f78b4"/><rect x="470.42" y="2578.2" width="6.89" height="31.7" fill="#33a02c"/><rect x="560.04" y="2578.2" width="6.89" height="31.7" fill="#6a3d9a"/><rect x="670.34" y="2578.2" width="6.89" height="31.7" fill="#1f78b4"/><rect x="787.54" y="2578.2" width="6.89" height="31.7" fill="#000000"/><rect x="842.70" y="2578.2" width="6.89" height="31.7" fill="#33a02c"/><text class="g" x="246.5" y="2604.8">ALB</text><text class="pc" x="956.0" y="2604.4">7%</text><rect x="1027.7" y="2581.7" width="10.0" height="29.2" fill="#33a02c"/><rect x="1037.7" y="2581.7" width="7.6" height="29.2" fill="#1f78b4"/><rect x="1045.3" y="2581.7" width="8.4" height="29.2" fill="#6a3d9a"/><rect x="256.7" y="2612.3" width="696.3" height="31.7" fill="#cfcfcf"/><rect x="263.59" y="2612.3" width="6.89" height="31.7" fill="#000000"/><rect x="304.96" y="2612.3" width="13.79" height="31.7" fill="#33a02c"/><rect x="394.58" y="2612.3" width="20.68" height="31.7" fill="#33a02c"/><rect x="449.73" y="2612.3" width="6.89" height="31.7" fill="#33a02c"/><rect x="497.99" y="2612.3" width="6.89" height="31.7" fill="#000000"/><rect x="518.67" y="2612.3" width="13.79" height="31.7" fill="#33a02c"/><rect x="691.03" y="2612.3" width="6.89" height="31.7" fill="#33a02c"/><text class="g" x="246.5" y="2638.9">PCLO</text><text class="pc" x="956.0" y="2638.5">9%</text><rect x="1027.7" y="2615.8" width="29.0" height="29.2" fill="#33a02c"/><rect x="1056.7" y="2615.8" width="7.0" height="29.2" fill="#000000"/><rect x="256.7" y="2646.4" width="696.3" height="31.7" fill="#cfcfcf"/><rect x="263.59" y="2646.4" width="6.89" height="31.7" fill="#33a02c"/><rect x="304.96" y="2646.4" width="6.89" height="31.7" fill="#1f78b4"/><rect x="422.16" y="2646.4" width="6.89" height="31.7" fill="#6a3d9a"/><rect x="497.99" y="2646.4" width="6.89" height="31.7" fill="#e31a1c"/><rect x="532.46" y="2646.4" width="6.89" height="31.7" fill="#6a3d9a"/><rect x="546.25" y="2646.4" width="6.89" height="31.7" fill="#33a02c"/><rect x="684.13" y="2646.4" width="6.89" height="31.7" fill="#1f78b4"/><rect x="925.42" y="2646.4" width="6.89" height="31.7" fill="#e31a1c"/><rect x="932.32" y="2646.4" width="6.89" height="31.7" fill="#33a02c"/><text class="g" x="246.5" y="2673.0">APOB</text><text class="pc" x="956.0" y="2672.6">7%</text><rect x="1027.7" y="2649.9" width="8.0" height="29.2" fill="#33a02c"/><rect x="1035.7" y="2649.9" width="8.5" height="29.2" fill="#1f78b4"/><rect x="1044.2" y="2649.9" width="6.0" height="29.2" fill="#e31a1c"/><rect x="1050.2" y="2649.9" width="8.2" height="29.2" fill="#6a3d9a"/><rect x="256.7" y="2680.5" width="696.3" height="31.7" fill="#cfcfcf"/><rect x="256.70" y="2680.5" width="6.89" height="31.7" fill="#000000"/><rect x="263.59" y="2680.5" width="6.89" height="31.7" fill="#33a02c"/><rect x="277.38" y="2680.5" width="6.89" height="31.7" fill="#33a02c"/><rect x="304.96" y="2680.5" width="6.89" height="31.7" fill="#000000"/><rect x="360.11" y="2680.5" width="13.79" height="31.7" fill="#33a02c"/><rect x="394.58" y="2680.5" width="6.89" height="31.7" fill="#33a02c"/><rect x="463.52" y="2680.5" width="6.89" height="31.7" fill="#33a02c"/><rect x="670.34" y="2680.5" width="6.89" height="31.7" fill="#33a02c"/><rect x="877.17" y="2680.5" width="27.58" height="31.7" fill="#33a02c"/><text class="g" x="246.5" y="2707.1">MUC4</text><text class="pc" x="956.0" y="2706.7">11%</text><rect x="1027.7" y="2684.0" width="36.0" height="29.2" fill="#33a02c"/><rect x="1063.7" y="2684.0" width="7.0" height="29.2" fill="#000000"/><rect x="256.7" y="2714.5" width="696.3" height="31.7" fill="#cfcfcf"/><rect x="263.59" y="2714.5" width="6.89" height="31.7" fill="#33a02c"/><rect x="408.37" y="2714.5" width="34.47" height="31.7" fill="#33a02c"/><rect x="670.34" y="2714.5" width="13.79" height="31.7" fill="#33a02c"/><rect x="691.03" y="2714.5" width="6.89" height="31.7" fill="#000000"/><rect x="773.75" y="2714.5" width="6.89" height="31.7" fill="#6a3d9a"/><rect x="835.80" y="2714.5" width="27.58" height="31.7" fill="#33a02c"/><text class="g" x="246.5" y="2741.1">RYR2</text><text class="pc" x="956.0" y="2740.7">12%</text><rect x="1027.7" y="2718.0" width="38.0" height="29.2" fill="#33a02c"/><rect x="1065.7" y="2718.0" width="4.0" height="29.2" fill="#6a3d9a"/><rect x="1069.7" y="2718.0" width="4.5" height="29.2" fill="#000000"/><rect x="256.7" y="2748.6" width="696.3" height="31.7" fill="#cfcfcf"/><rect x="263.59" y="2748.6" width="6.89" height="31.7" fill="#33a02c"/><rect x="277.38" y="2748.6" width="6.89" height="31.7" fill="#33a02c"/><rect x="318.75" y="2748.6" width="6.89" height="31.7" fill="#33a02c"/><rect x="353.22" y="2748.6" width="6.89" height="31.7" fill="#33a02c"/><rect x="449.73" y="2748.6" width="6.89" height="31.7" fill="#33a02c"/><rect x="532.46" y="2748.6" width="13.79" height="31.7" fill="#33a02c"/><rect x="691.03" y="2748.6" width="6.89" height="31.7" fill="#33a02c"/><rect x="718.60" y="2748.6" width="6.89" height="31.7" fill="#33a02c"/><rect x="780.65" y="2748.6" width="6.89" height="31.7" fill="#33a02c"/><rect x="815.12" y="2748.6" width="6.89" height="31.7" fill="#33a02c"/><text class="g" x="246.5" y="2775.2">FLG</text><text class="pc" x="956.0" y="2774.8">9%</text><rect x="1027.7" y="2752.1" width="36.0" height="29.2" fill="#33a02c"/><rect x="256.7" y="2782.7" width="696.3" height="31.7" fill="#cfcfcf"/><rect x="263.59" y="2782.7" width="6.89" height="31.7" fill="#33a02c"/><rect x="277.38" y="2782.7" width="6.89" height="31.7" fill="#e31a1c"/><rect x="304.96" y="2782.7" width="6.89" height="31.7" fill="#33a02c"/><rect x="373.90" y="2782.7" width="6.89" height="31.7" fill="#33a02c"/><rect x="442.84" y="2782.7" width="6.89" height="31.7" fill="#33a02c"/><rect x="470.42" y="2782.7" width="6.89" height="31.7" fill="#e31a1c"/><rect x="477.31" y="2782.7" width="13.79" height="31.7" fill="#33a02c"/><rect x="684.13" y="2782.7" width="6.89" height="31.7" fill="#33a02c"/><rect x="704.81" y="2782.7" width="6.89" height="31.7" fill="#33a02c"/><rect x="808.22" y="2782.7" width="6.89" height="31.7" fill="#33a02c"/><rect x="904.74" y="2782.7" width="13.79" height="31.7" fill="#33a02c"/><text class="g" x="246.5" y="2809.3">LRP1B</text><text class="pc" x="956.0" y="2808.9">11%</text><rect x="1027.7" y="2786.2" width="36.0" height="29.2" fill="#33a02c"/><rect x="1063.7" y="2786.2" width="8.0" height="29.2" fill="#e31a1c"/><rect x="256.7" y="2816.8" width="696.3" height="31.7" fill="#cfcfcf"/><rect x="256.70" y="2816.8" width="6.89" height="31.7" fill="#33a02c"/><rect x="263.59" y="2816.8" width="6.89" height="31.7" fill="#000000"/><rect x="367.00" y="2816.8" width="6.89" height="31.7" fill="#33a02c"/><rect x="408.37" y="2816.8" width="6.89" height="31.7" fill="#e31a1c"/><rect x="449.73" y="2816.8" width="6.89" height="31.7" fill="#33a02c"/><rect x="518.67" y="2816.8" width="6.89" height="31.7" fill="#33a02c"/><rect x="553.14" y="2816.8" width="6.89" height="31.7" fill="#33a02c"/><rect x="725.50" y="2816.8" width="13.79" height="31.7" fill="#33a02c"/><text class="g" x="246.5" y="2843.4">ABCA13</text><text class="pc" x="956.0" y="2843.0">7%</text><rect x="1027.7" y="2820.3" width="21.0" height="29.2" fill="#33a02c"/><rect x="1048.7" y="2820.3" width="4.0" height="29.2" fill="#e31a1c"/><rect x="1052.7" y="2820.3" width="5.0" height="29.2" fill="#000000"/><rect x="256.7" y="2850.9" width="696.3" height="31.7" fill="#cfcfcf"/><rect x="263.59" y="2850.9" width="6.89" height="31.7" fill="#ff7f00"/><rect x="277.38" y="2850.9" width="13.79" height="31.7" fill="#33a02c"/><rect x="394.58" y="2850.9" width="20.68" height="31.7" fill="#33a02c"/><rect x="415.26" y="2850.9" width="6.89" height="31.7" fill="#000000"/><rect x="449.73" y="2850.9" width="6.89" height="31.7" fill="#33a02c"/><rect x="491.10" y="2850.9" width="6.89" height="31.7" fill="#33a02c"/><rect x="691.03" y="2850.9" width="6.89" height="31.7" fill="#000000"/><rect x="766.86" y="2850.9" width="6.89" height="31.7" fill="#33a02c"/><rect x="904.74" y="2850.9" width="6.89" height="31.7" fill="#ffff99"/><text class="g" x="246.5" y="2877.5">OBSCN</text><text class="pc" x="956.0" y="2877.1">10%</text><rect x="1027.7" y="2854.4" width="27.0" height="29.2" fill="#33a02c"/><rect x="1054.7" y="2854.4" width="6.7" height="29.2" fill="#ff7f00"/><rect x="1061.4" y="2854.4" width="6.3" height="29.2" fill="#000000"/><rect x="256.7" y="2884.9" width="696.3" height="31.7" fill="#cfcfcf"/><rect x="256.70" y="2884.9" width="6.89" height="31.7" fill="#33a02c"/><rect x="298.06" y="2884.9" width="6.89" height="31.7" fill="#33a02c"/><rect x="353.22" y="2884.9" width="13.79" height="31.7" fill="#33a02c"/><rect x="387.69" y="2884.9" width="6.89" height="31.7" fill="#33a02c"/><rect x="442.84" y="2884.9" width="20.68" height="31.7" fill="#33a02c"/><rect x="684.13" y="2884.9" width="6.89" height="31.7" fill="#000000"/><rect x="691.03" y="2884.9" width="6.89" height="31.7" fill="#e31a1c"/><rect x="697.92" y="2884.9" width="6.89" height="31.7" fill="#6a3d9a"/><rect x="711.71" y="2884.9" width="6.89" height="31.7" fill="#33a02c"/><rect x="863.38" y="2884.9" width="6.89" height="31.7" fill="#33a02c"/><rect x="870.27" y="2884.9" width="6.89" height="31.7" fill="#6a3d9a"/><text class="g" x="246.5" y="2911.5">CSMD3</text><text class="pc" x="956.0" y="2911.1">12%</text><rect x="1027.7" y="2888.4" width="32.6" height="29.2" fill="#33a02c"/><rect x="1060.3" y="2888.4" width="3.4" height="29.2" fill="#e31a1c"/><rect x="1063.7" y="2888.4" width="7.0" height="29.2" fill="#6a3d9a"/><rect x="1070.7" y="2888.4" width="3.5" height="29.2" fill="#1f78b4"/><rect x="256.7" y="2919.0" width="696.3" height="31.7" fill="#cfcfcf"/><rect x="325.64" y="2919.0" width="6.89" height="31.7" fill="#1f78b4"/><rect x="580.72" y="2919.0" width="6.89" height="31.7" fill="#33a02c"/><rect x="773.75" y="2919.0" width="6.89" height="31.7" fill="#33a02c"/><rect x="849.59" y="2919.0" width="6.89" height="31.7" fill="#33a02c"/><text class="g" x="246.5" y="2945.6">XIRP2</text><text class="pc" x="956.0" y="2945.2">3%</text><rect x="1027.7" y="2922.5" width="10.0" height="29.2" fill="#33a02c"/><rect x="1037.7" y="2922.5" width="3.0" height="29.2" fill="#2a8a8a"/><rect x="256.7" y="2953.1" width="696.3" height="31.7" fill="#cfcfcf"/><rect x="304.96" y="2953.1" width="6.89" height="31.7" fill="#33a02c"/><rect x="353.22" y="2953.1" width="6.89" height="31.7" fill="#33a02c"/><rect x="373.90" y="2953.1" width="6.89" height="31.7" fill="#33a02c"/><rect x="566.93" y="2953.1" width="6.89" height="31.7" fill="#1f78b4"/><rect x="677.24" y="2953.1" width="6.89" height="31.7" fill="#33a02c"/><rect x="884.06" y="2953.1" width="6.89" height="31.7" fill="#000000"/><rect x="946.11" y="2953.1" width="6.89" height="31.7" fill="#33a02c"/><text class="g" x="246.5" y="2979.7">HMCN1</text><text class="pc" x="956.0" y="2979.3">6%</text><rect x="1027.7" y="2956.6" width="17.6" height="29.2" fill="#33a02c"/><rect x="1045.3" y="2956.6" width="3.4" height="29.2" fill="#1f78b4"/><rect x="1048.7" y="2956.6" width="3.0" height="29.2" fill="#000000"/><rect x="256.7" y="2987.2" width="696.3" height="31.7" fill="#cfcfcf"/><rect x="353.22" y="2987.2" width="6.89" height="31.7" fill="#6a3d9a"/><rect x="394.58" y="2987.2" width="6.89" height="31.7" fill="#33a02c"/><rect x="546.25" y="2987.2" width="6.89" height="31.7" fill="#1f78b4"/><rect x="663.45" y="2987.2" width="6.89" height="31.7" fill="#6a3d9a"/><rect x="711.71" y="2987.2" width="6.89" height="31.7" fill="#6a3d9a"/><rect x="766.86" y="2987.2" width="6.89" height="31.7" fill="#e31a1c"/><rect x="877.17" y="2987.2" width="6.89" height="31.7" fill="#6a3d9a"/><rect x="925.42" y="2987.2" width="6.89" height="31.7" fill="#33a02c"/><text class="g" x="246.5" y="3013.8">ARID1A</text><text class="pc" x="956.0" y="3013.4">7%</text><rect x="1027.7" y="2990.7" width="8.0" height="29.2" fill="#33a02c"/><rect x="1035.7" y="2990.7" width="3.0" height="29.2" fill="#e31a1c"/><rect x="1038.7" y="2990.7" width="15.0" height="29.2" fill="#6a3d9a"/><rect x="256.7" y="3021.3" width="696.3" height="31.7" fill="#cfcfcf"/><rect x="256.70" y="3021.3" width="13.79" height="31.7" fill="#33a02c"/><rect x="298.06" y="3021.3" width="6.89" height="31.7" fill="#33a02c"/><rect x="373.90" y="3021.3" width="6.89" height="31.7" fill="#33a02c"/><rect x="422.16" y="3021.3" width="13.79" height="31.7" fill="#33a02c"/><rect x="497.99" y="3021.3" width="6.89" height="31.7" fill="#33a02c"/><rect x="504.89" y="3021.3" width="6.89" height="31.7" fill="#e31a1c"/><rect x="511.78" y="3021.3" width="6.89" height="31.7" fill="#33a02c"/><rect x="808.22" y="3021.3" width="6.89" height="31.7" fill="#000000"/><rect x="863.38" y="3021.3" width="6.89" height="31.7" fill="#e31a1c"/><rect x="918.53" y="3021.3" width="6.89" height="31.7" fill="#33a02c"/><text class="g" x="246.5" y="3047.9">FAT3</text><text class="pc" x="956.0" y="3047.5">10%</text><rect x="1027.7" y="3024.8" width="30.7" height="29.2" fill="#33a02c"/><rect x="1058.4" y="3024.8" width="6.8" height="29.2" fill="#e31a1c"/><rect x="1065.2" y="3024.8" width="2.5" height="29.2" fill="#000000"/><rect x="256.7" y="3055.3" width="696.3" height="31.7" fill="#cfcfcf"/><rect x="263.59" y="3055.3" width="6.89" height="31.7" fill="#000000"/><rect x="442.84" y="3055.3" width="6.89" height="31.7" fill="#33a02c"/><rect x="470.42" y="3055.3" width="6.89" height="31.7" fill="#33a02c"/><rect x="504.89" y="3055.3" width="6.89" height="31.7" fill="#1f78b4"/><rect x="525.57" y="3055.3" width="6.89" height="31.7" fill="#33a02c"/><rect x="787.54" y="3055.3" width="6.89" height="31.7" fill="#33a02c"/><rect x="835.80" y="3055.3" width="6.89" height="31.7" fill="#33a02c"/><rect x="939.21" y="3055.3" width="13.79" height="31.7" fill="#33a02c"/><text class="g" x="246.5" y="3081.9">CACNA1E</text><text class="pc" x="956.0" y="3081.5">7%</text><rect x="1027.7" y="3058.8" width="23.0" height="29.2" fill="#33a02c"/><rect x="1050.7" y="3058.8" width="4.0" height="29.2" fill="#1f78b4"/><rect x="1054.7" y="3058.8" width="3.7" height="29.2" fill="#000000"/><rect x="256.7" y="3089.4" width="696.3" height="31.7" fill="#cfcfcf"/><rect x="429.05" y="3089.4" width="6.89" height="31.7" fill="#6a3d9a"/><rect x="566.93" y="3089.4" width="6.89" height="31.7" fill="#e31a1c"/><rect x="573.83" y="3089.4" width="6.89" height="31.7" fill="#6a3d9a"/><rect x="739.28" y="3089.4" width="6.89" height="31.7" fill="#ff7f00"/><rect x="780.65" y="3089.4" width="6.89" height="31.7" fill="#1f78b4"/><rect x="835.80" y="3089.4" width="6.89" height="31.7" fill="#000000"/><rect x="877.17" y="3089.4" width="6.89" height="31.7" fill="#6a3d9a"/><rect x="939.21" y="3089.4" width="6.89" height="31.7" fill="#000000"/><text class="g" x="246.5" y="3116.0">AXIN1</text><text class="pc" x="956.0" y="3115.6">7%</text><rect x="1027.7" y="3092.9" width="2.0" height="29.2" fill="#1f78b4"/><rect x="1029.7" y="3092.9" width="3.0" height="29.2" fill="#e31a1c"/><rect x="1032.7" y="3092.9" width="12.6" height="29.2" fill="#6a3d9a"/><rect x="1045.3" y="3092.9" width="1.9" height="29.2" fill="#ff7f00"/><rect x="1047.2" y="3092.9" width="6.5" height="29.2" fill="#000000"/><path d="M263.59 2441.9V3121.1M270.49 2441.9V3121.1M277.38 2441.9V3121.1M284.28 2441.9V3121.1M291.17 2441.9V3121.1M298.06 2441.9V3121.1M304.96 2441.9V3121.1M311.85 2441.9V3121.1M318.75 2441.9V3121.1M325.64 2441.9V3121.1M332.53 2441.9V3121.1M339.43 2441.9V3121.1M346.32 2441.9V3121.1M353.22 2441.9V3121.1M360.11 2441.9V3121.1M367.00 2441.9V3121.1M373.90 2441.9V3121.1M380.79 2441.9V3121.1M387.69 2441.9V3121.1M394.58 2441.9V3121.1M401.48 2441.9V3121.1M408.37 2441.9V3121.1M415.26 2441.9V3121.1M422.16 2441.9V3121.1M429.05 2441.9V3121.1M435.95 2441.9V3121.1M442.84 2441.9V3121.1M449.73 2441.9V3121.1M456.63 2441.9V3121.1M463.52 2441.9V3121.1M470.42 2441.9V3121.1M477.31 2441.9V3121.1M484.20 2441.9V3121.1M491.10 2441.9V3121.1M497.99 2441.9V3121.1M504.89 2441.9V3121.1M511.78 2441.9V3121.1M518.67 2441.9V3121.1M525.57 2441.9V3121.1M532.46 2441.9V3121.1M539.36 2441.9V3121.1M546.25 2441.9V3121.1M553.14 2441.9V3121.1M560.04 2441.9V3121.1M566.93 2441.9V3121.1M573.83 2441.9V3121.1M580.72 2441.9V3121.1M587.61 2441.9V3121.1M594.51 2441.9V3121.1M601.40 2441.9V3121.1M608.30 2441.9V3121.1M615.19 2441.9V3121.1M622.09 2441.9V3121.1M628.98 2441.9V3121.1M635.87 2441.9V3121.1M642.77 2441.9V3121.1M649.66 2441.9V3121.1M656.56 2441.9V3121.1M663.45 2441.9V3121.1M670.34 2441.9V3121.1M677.24 2441.9V3121.1M684.13 2441.9V3121.1M691.03 2441.9V3121.1M697.92 2441.9V3121.1M704.81 2441.9V3121.1M711.71 2441.9V3121.1M718.60 2441.9V3121.1M725.50 2441.9V3121.1M732.39 2441.9V3121.1M739.28 2441.9V3121.1M746.18 2441.9V3121.1M753.07 2441.9V3121.1M759.97 2441.9V3121.1M766.86 2441.9V3121.1M773.75 2441.9V3121.1M780.65 2441.9V3121.1M787.54 2441.9V3121.1M794.44 2441.9V3121.1M801.33 2441.9V3121.1M808.22 2441.9V3121.1M815.12 2441.9V3121.1M822.01 2441.9V3121.1M828.91 2441.9V3121.1M835.80 2441.9V3121.1M842.70 2441.9V3121.1M849.59 2441.9V3121.1M856.48 2441.9V3121.1M863.38 2441.9V3121.1M870.27 2441.9V3121.1M877.17 2441.9V3121.1M884.06 2441.9V3121.1M890.95 2441.9V3121.1M897.85 2441.9V3121.1M904.74 2441.9V3121.1M911.64 2441.9V3121.1M918.53 2441.9V3121.1M925.42 2441.9V3121.1M932.32 2441.9V3121.1M939.21 2441.9V3121.1M946.11 2441.9V3121.1" stroke="#fff" stroke-opacity=".45" stroke-width="1.1" fill="none"/><rect x="255.7" y="2473.6" width="698.3" height="2.38" fill="#fff"/><rect x="255.7" y="2507.7" width="698.3" height="2.38" fill="#fff"/><rect x="255.7" y="2541.8" width="698.3" height="2.38" fill="#fff"/><rect x="255.7" y="2575.8" width="698.3" height="2.38" fill="#fff"/><rect x="255.7" y="2609.9" width="698.3" height="2.38" fill="#fff"/><rect x="255.7" y="2644.0" width="698.3" height="2.38" fill="#fff"/><rect x="255.7" y="2678.1" width="698.3" height="2.38" fill="#fff"/><rect x="255.7" y="2712.2" width="698.3" height="2.38" fill="#fff"/><rect x="255.7" y="2746.2" width="698.3" height="2.38" fill="#fff"/><rect x="255.7" y="2780.3" width="698.3" height="2.38" fill="#fff"/><rect x="255.7" y="2814.4" width="698.3" height="2.38" fill="#fff"/><rect x="255.7" y="2848.5" width="698.3" height="2.38" fill="#fff"/><rect x="255.7" y="2882.6" width="698.3" height="2.38" fill="#fff"/><rect x="255.7" y="2916.6" width="698.3" height="2.38" fill="#fff"/><rect x="255.7" y="2950.7" width="698.3" height="2.38" fill="#fff"/><rect x="255.7" y="2984.8" width="698.3" height="2.38" fill="#fff"/><rect x="255.7" y="3018.9" width="698.3" height="2.38" fill="#fff"/><rect x="255.7" y="3053.0" width="698.3" height="2.38" fill="#fff"/><rect x="255.7" y="3087.0" width="698.3" height="2.38" fill="#fff"/><path d="M1027.7 2421V2435.3H1227.0V2421" fill="none" stroke="#333" stroke-width="2"/><text class="sm" x="1027.7" y="2402" text-anchor="middle">0</text><text class="sm" x="1227.0" y="2402" text-anchor="middle">59</text><rect x="231.0" y="3157.0" width="11" height="11" fill="#33a02c"/><text class="lg" x="258.6" y="3172.0">Missense_Mutation</text><rect x="231.0" y="3189.5" width="11" height="11" fill="#1f78b4"/><text class="lg" x="258.6" y="3204.5">Frame_Shift_Del</text><rect x="231.0" y="3222.0" width="11" height="11" fill="#e31a1c"/><text class="lg" x="258.6" y="3237.0">Nonsense_Mutation</text><rect x="231.0" y="3254.5" width="11" height="11" fill="#6a3d9a"/><text class="lg" x="258.6" y="3269.5">Frame_Shift_Ins</text><rect x="505.5" y="3157.0" width="11" height="11" fill="#ff7f00"/><text class="lg" x="534.0" y="3172.0">Splice_Site</text><rect x="505.5" y="3189.5" width="11" height="11" fill="#ffff99"/><text class="lg" x="534.0" y="3204.5">In_Frame_Del</text><rect x="505.5" y="3222.0" width="11" height="11" fill="#000000"/><text class="lg" x="534.0" y="3237.0">Multi_Hit</text><text x="778" y="3206" font-size="38" font-weight="bold" fill="#e8192c" textLength="273" lengthAdjust="spacingAndGlyphs">High risk score</text></g>
<g><text x="1967.0" y="2238" font-size="31" font-weight="bold" fill="#111" text-anchor="middle" textLength="576.0" lengthAdjust="spacingAndGlyphs">Altered in 201 (84.81%) of 237 samples.</text><path d="M1505.0 2270H1519.0V2428H1505.0" fill="none" stroke="#222" stroke-width="2"/><text class="sm" x="1496.0" y="2277" text-anchor="end">947</text><text class="sm" x="1496.0" y="2435" text-anchor="end">0</text><path d="M1532.5 2428v-8.8h2.9V2428zM1536.0 2428v-158.0h2.9V2428zM1539.4 2428v-5.9h2.9V2428zM1542.9 2428v-4.8h2.9V2428zM1546.4 2428v-15.8h2.9V2428zM1549.8 2428v-19.0h2.9V2428zM1553.3 2428v-17.4h2.9V2428zM1556.8 2428v-13.4h2.9V2428zM1560.2 2428v-10.9h2.9V2428zM1563.7 2428v-104.3h2.9V2428zM1567.2 2428v-11.0h2.9V2428zM1570.6 2428v-20.5h2.9V2428zM1574.1 2428v-11.2h2.9V2428zM1577.6 2428v-12.8h2.9V2428zM1581.0 2428v-20.5h2.9V2428zM1584.5 2428v-17.4h2.9V2428zM1588.0 2428v-11.5h2.9V2428zM1591.4 2428v-13.8h2.9V2428zM1594.9 2428v-10.6h2.9V2428zM1598.4 2428v-19.0h2.9V2428zM1601.8 2428v-45.8h2.9V2428zM1605.3 2428v-10.7h2.9V2428zM1608.8 2428v-15.8h2.9V2428zM1612.2 2428v-6.6h2.9V2428zM1615.7 2428v-11.8h2.9V2428zM1619.2 2428v-12.4h2.9V2428zM1622.6 2428v-5.2h2.9V2428zM1626.1 2428v-12.7h2.9V2428zM1629.6 2428v-17.8h2.9V2428zM1633.0 2428v-5.8h2.9V2428zM1636.5 2428v-19.0h2.9V2428zM1640.0 2428v-12.5h2.9V2428zM1643.4 2428v-9.5h2.9V2428zM1646.9 2428v-9.2h2.9V2428zM1650.4 2428v-12.7h2.9V2428zM1653.8 2428v-8.2h2.9V2428zM1657.3 2428v-5.6h2.9V2428zM1660.8 2428v-6.2h2.9V2428zM1664.2 2428v-17.9h2.9V2428zM1667.7 2428v-10.0h2.9V2428zM1671.2 2428v-7.1h2.9V2428zM1674.6 2428v-13.4h2.9V2428zM1678.1 2428v-10.9h2.9V2428zM1681.6 2428v-6.8h2.9V2428zM1685.0 2428v-5.1h2.9V2428zM1688.5 2428v-10.6h2.9V2428zM1692.0 2428v-14.5h2.9V2428zM1695.4 2428v-20.5h2.9V2428zM1698.9 2428v-12.2h2.9V2428zM1702.4 2428v-8.7h2.9V2428zM1705.8 2428v-13.3h2.9V2428zM1709.3 2428v-4.9h2.9V2428zM1712.8 2428v-7.6h2.9V2428zM1716.2 2428v-6.6h2.9V2428zM1719.7 2428v-13.0h2.9V2428zM1723.2 2428v-5.6h2.9V2428zM1726.6 2428v-5.0h2.9V2428zM1730.1 2428v-11.8h2.9V2428zM1733.6 2428v-10.9h2.9V2428zM1737.0 2428v-11.1h2.9V2428zM1740.5 2428v-6.7h2.9V2428zM1744.0 2428v-8.2h2.9V2428zM1747.4 2428v-12.2h2.9V2428zM1750.9 2428v-10.5h2.9V2428zM1754.4 2428v-19.0h2.9V2428zM1757.8 2428v-15.8h2.9V2428zM1761.3 2428v-12.1h2.9V2428zM1764.8 2428v-5.2h2.9V2428zM1768.2 2428v-6.2h2.9V2428zM1771.7 2428v-13.3h2.9V2428zM1775.2 2428v-6.7h2.9V2428zM1778.6 2428v-8.1h2.9V2428zM1782.1 2428v-13.1h2.9V2428zM1785.6 2428v-6.0h2.9V2428zM1789.0 2428v-10.8h2.9V2428zM1792.5 2428v-14.2h2.9V2428zM1796.0 2428v-17.4h2.9V2428zM1799.4 2428v-14.7h2.9V2428zM1802.9 2428v-10.9h2.9V2428zM1806.4 2428v-8.1h2.9V2428zM1809.8 2428v-25.3h2.9V2428zM1813.3 2428v-15.8h2.9V2428zM1816.8 2428v-6.2h2.9V2428zM1820.2 2428v-11.4h2.9V2428zM1823.7 2428v-9.5h2.9V2428zM1827.2 2428v-22.1h2.9V2428zM1830.6 2428v-15.8h2.9V2428zM1834.1 2428v-9.3h2.9V2428zM1837.6 2428v-42.7h2.9V2428zM1841.0 2428v-17.0h2.9V2428zM1844.5 2428v-8.2h2.9V2428zM1848.0 2428v-15.8h2.9V2428zM1851.4 2428v-8.7h2.9V2428zM1854.9 2428v-8.1h2.9V2428zM1858.4 2428v-8.9h2.9V2428zM1861.8 2428v-9.4h2.9V2428zM1865.3 2428v-5.0h2.9V2428zM1868.8 2428v-12.5h2.9V2428zM1872.2 2428v-9.3h2.9V2428zM1875.7 2428v-19.0h2.9V2428zM1879.2 2428v-18.2h2.9V2428zM1882.6 2428v-9.5h2.9V2428zM1886.1 2428v-25.3h2.9V2428zM1889.6 2428v-15.8h2.9V2428zM1893.0 2428v-11.0h2.9V2428zM1896.5 2428v-5.6h2.9V2428zM1900.0 2428v-8.7h2.9V2428zM1903.4 2428v-15.5h2.9V2428zM1906.9 2428v-31.6h2.9V2428zM1910.4 2428v-8.0h2.9V2428zM1913.8 2428v-6.7h2.9V2428zM1917.3 2428v-23.7h2.9V2428zM1920.8 2428v-19.0h2.9V2428zM1924.2 2428v-15.8h2.9V2428zM1927.7 2428v-14.2h2.9V2428zM1931.2 2428v-11.1h2.9V2428zM1934.6 2428v-17.5h2.9V2428zM1938.1 2428v-10.1h2.9V2428zM1941.6 2428v-9.9h2.9V2428zM1945.0 2428v-10.0h2.9V2428zM1948.5 2428v-5.3h2.9V2428zM1952.0 2428v-8.8h2.9V2428zM1955.4 2428v-5.0h2.9V2428zM1958.9 2428v-7.6h2.9V2428zM1962.4 2428v-4.8h2.9V2428zM1965.8 2428v-9.9h2.9V2428zM1969.3 2428v-13.3h2.9V2428zM1972.8 2428v-5.7h2.9V2428zM1976.2 2428v-6.8h2.9V2428zM1979.7 2428v-6.4h2.9V2428zM1983.2 2428v-5.7h2.9V2428zM1986.6 2428v-12.9h2.9V2428zM1990.1 2428v-8.0h2.9V2428zM1993.6 2428v-8.8h2.9V2428zM1997.0 2428v-8.0h2.9V2428zM2000.5 2428v-6.8h2.9V2428zM2004.0 2428v-9.2h2.9V2428zM2007.4 2428v-8.6h2.9V2428zM2010.9 2428v-11.9h2.9V2428zM2014.4 2428v-5.2h2.9V2428zM2017.8 2428v-12.1h2.9V2428zM2021.3 2428v-9.0h2.9V2428zM2024.8 2428v-7.3h2.9V2428zM2028.2 2428v-13.2h2.9V2428zM2031.7 2428v-12.6h2.9V2428zM2035.2 2428v-12.4h2.9V2428zM2038.6 2428v-15.9h2.9V2428zM2042.1 2428v-6.9h2.9V2428zM2045.6 2428v-9.0h2.9V2428zM2049.0 2428v-12.0h2.9V2428zM2052.5 2428v-6.6h2.9V2428zM2056.0 2428v-8.8h2.9V2428zM2059.4 2428v-9.7h2.9V2428zM2062.9 2428v-6.4h2.9V2428zM2066.4 2428v-7.6h2.9V2428zM2069.8 2428v-9.5h2.9V2428zM2073.3 2428v-10.9h2.9V2428zM2076.8 2428v-5.9h2.9V2428zM2080.2 2428v-7.7h2.9V2428zM2083.7 2428v-10.0h2.9V2428zM2087.2 2428v-12.4h2.9V2428zM2090.6 2428v-6.6h2.9V2428zM2094.1 2428v-12.5h2.9V2428zM2097.6 2428v-8.8h2.9V2428zM2101.0 2428v-7.6h2.9V2428zM2104.5 2428v-15.4h2.9V2428zM2108.0 2428v-7.2h2.9V2428zM2111.4 2428v-13.4h2.9V2428zM2114.9 2428v-5.1h2.9V2428zM2118.4 2428v-13.3h2.9V2428zM2121.8 2428v-13.4h2.9V2428zM2125.3 2428v-8.2h2.9V2428zM2128.8 2428v-9.1h2.9V2428zM2132.2 2428v-10.7h2.9V2428zM2135.7 2428v-7.1h2.9V2428zM2139.2 2428v-8.1h2.9V2428zM2142.6 2428v-10.1h2.9V2428zM2146.1 2428v-15.6h2.9V2428zM2149.6 2428v-4.9h2.9V2428zM2153.0 2428v-12.3h2.9V2428zM2156.5 2428v-12.6h2.9V2428zM2160.0 2428v-7.1h2.9V2428zM2163.4 2428v-8.7h2.9V2428zM2166.9 2428v-6.8h2.9V2428zM2170.4 2428v-11.2h2.9V2428zM2173.8 2428v-10.0h2.9V2428zM2177.3 2428v-14.4h2.9V2428zM2180.8 2428v-11.5h2.9V2428zM2184.2 2428v-5.6h2.9V2428zM2187.7 2428v-6.6h2.9V2428zM2191.2 2428v-12.6h2.9V2428zM2194.6 2428v-6.5h2.9V2428zM2198.1 2428v-8.4h2.9V2428zM2201.6 2428v-13.4h2.9V2428zM2205.0 2428v-11.0h2.9V2428zM2208.5 2428v-5.3h2.9V2428zM2212.0 2428v-8.2h2.9V2428zM2215.4 2428v-10.2h2.9V2428zM2218.9 2428v-9.6h2.9V2428zM2222.4 2428v-16.2h2.9V2428zM2225.8 2428v-12.5h2.9V2428z" fill="#3aa236"/><rect x="1536.0" y="2270.0" width="2.9" height="7.5" fill="#ff7f00"/><rect x="1536.0" y="2277.5" width="2.9" height="9.9" fill="#e31a1c"/><rect x="1563.7" y="2323.7" width="2.9" height="5.6" fill="#ff7f00"/><rect x="1563.7" y="2329.4" width="2.9" height="7.2" fill="#e31a1c"/><rect x="1532.2" y="2441.9" width="696.8" height="31.7" fill="#cfcfcf"/><rect x="1532.20" y="2441.9" width="3.47" height="31.7" fill="#ffff99" fill-opacity=".85"/><rect x="1539.13" y="2441.9" width="3.47" height="31.7" fill="#000000" fill-opacity=".85"/><rect x="1601.53" y="2441.9" width="3.47" height="31.7" fill="#000000" fill-opacity=".85"/><rect x="1605.00" y="2441.9" width="6.93" height="31.7" fill="#33a02c" fill-opacity=".85"/><rect x="1611.93" y="2441.9" width="6.93" height="31.7" fill="#1f78b4" fill-opacity=".85"/><rect x="1618.87" y="2441.9" width="3.47" height="31.7" fill="#33a02c" fill-opacity=".85"/><rect x="1622.33" y="2441.9" width="6.93" height="31.7" fill="#ff7f00" fill-opacity=".85"/><rect x="1785.27" y="2441.9" width="20.80" height="31.7" fill="#33a02c"/><rect x="1806.07" y="2441.9" width="10.40" height="31.7" fill="#1f78b4"/><rect x="1816.47" y="2441.9" width="3.47" height="31.7" fill="#33a02c" fill-opacity=".85"/><rect x="1819.93" y="2441.9" width="3.47" height="31.7" fill="#ff7f00" fill-opacity=".85"/><rect x="1910.07" y="2441.9" width="3.47" height="31.7" fill="#33a02c" fill-opacity=".85"/><rect x="1913.53" y="2441.9" width="3.47" height="31.7" fill="#ffff99" fill-opacity=".85"/><rect x="1917.00" y="2441.9" width="3.47" height="31.7" fill="#ff7f00" fill-opacity=".85"/><rect x="1920.47" y="2441.9" width="3.47" height="31.7" fill="#33a02c" fill-opacity=".85"/><rect x="1923.93" y="2441.9" width="3.47" height="31.7" fill="#e31a1c" fill-opacity=".85"/><rect x="1927.40" y="2441.9" width="3.47" height="31.7" fill="#ff7f00" fill-opacity=".85"/><rect x="1930.87" y="2441.9" width="3.47" height="31.7" fill="#33a02c" fill-opacity=".85"/><rect x="1934.33" y="2441.9" width="3.47" height="31.7" fill="#ff7f00" fill-opacity=".85"/><rect x="1937.80" y="2441.9" width="3.47" height="31.7" fill="#1f78b4" fill-opacity=".85"/><rect x="1941.27" y="2441.9" width="3.47" height="31.7" fill="#33a02c" fill-opacity=".85"/><rect x="1944.73" y="2441.9" width="3.47" height="31.7" fill="#ff7f00" fill-opacity=".85"/><rect x="1948.20" y="2441.9" width="13.87" height="31.7" fill="#33a02c"/><rect x="1962.07" y="2441.9" width="3.47" height="31.7" fill="#1f78b4" fill-opacity=".85"/><rect x="1965.53" y="2441.9" width="10.40" height="31.7" fill="#33a02c"/><rect x="1975.93" y="2441.9" width="3.47" height="31.7" fill="#1f78b4" fill-opacity=".85"/><rect x="1979.40" y="2441.9" width="6.93" height="31.7" fill="#33a02c" fill-opacity=".85"/><rect x="1986.33" y="2441.9" width="3.47" height="31.7" fill="#1f78b4" fill-opacity=".85"/><rect x="1989.80" y="2441.9" width="6.93" height="31.7" fill="#33a02c" fill-opacity=".85"/><rect x="1996.73" y="2441.9" width="3.47" height="31.7" fill="#000000" fill-opacity=".85"/><text class="g" x="1522.3" y="2468.5">TP53</text><text class="pc" x="2231.6" y="2468.1">20%</text><rect x="2304.0" y="2445.4" width="72.0" height="29.2" fill="#33a02c"/><rect x="2376.0" y="2445.4" width="19.4" height="29.2" fill="#1f78b4"/><rect x="2395.4" y="2445.4" width="8.6" height="29.2" fill="#e31a1c"/><rect x="2404.0" y="2445.4" width="5.6" height="29.2" fill="#ffff99"/><rect x="2409.6" y="2445.4" width="15.0" height="29.2" fill="#ff7f00"/><rect x="2424.6" y="2445.4" width="3.9" height="29.2" fill="#b2526a"/><rect x="2428.5" y="2445.4" width="5.5" height="29.2" fill="#000000"/><rect x="1532.2" y="2476.0" width="696.8" height="31.7" fill="#cfcfcf"/><rect x="1532.20" y="2476.0" width="31.20" height="31.7" fill="#33a02c"/><rect x="1563.40" y="2476.0" width="3.47" height="31.7" fill="#ffff99" fill-opacity=".85"/><rect x="1566.87" y="2476.0" width="124.80" height="31.7" fill="#33a02c"/><rect x="1691.67" y="2476.0" width="3.47" height="31.7" fill="#ffff99" fill-opacity=".85"/><rect x="1695.13" y="2476.0" width="90.13" height="31.7" fill="#33a02c"/><text class="g" x="1522.3" y="2502.6">CTNNB1</text><text class="pc" x="2231.6" y="2502.2">31%</text><rect x="2304.0" y="2479.5" width="192.6" height="29.2" fill="#33a02c"/><rect x="2496.6" y="2479.5" width="2.9" height="29.2" fill="#ffff99"/><rect x="1532.2" y="2510.1" width="696.8" height="31.7" fill="#cfcfcf"/><rect x="1532.20" y="2510.1" width="10.40" height="31.7" fill="#33a02c"/><rect x="1542.60" y="2510.1" width="3.47" height="31.7" fill="#000000" fill-opacity=".85"/><rect x="1546.07" y="2510.1" width="17.33" height="31.7" fill="#33a02c"/><rect x="1563.40" y="2510.1" width="3.47" height="31.7" fill="#000000" fill-opacity=".85"/><rect x="1566.87" y="2510.1" width="10.40" height="31.7" fill="#1f78b4"/><rect x="1577.27" y="2510.1" width="24.27" height="31.7" fill="#33a02c"/><rect x="1785.27" y="2510.1" width="20.80" height="31.7" fill="#33a02c"/><rect x="1806.07" y="2510.1" width="3.47" height="31.7" fill="#ff7f00" fill-opacity=".85"/><rect x="1809.53" y="2510.1" width="3.47" height="31.7" fill="#000000" fill-opacity=".85"/><rect x="1813.00" y="2510.1" width="13.87" height="31.7" fill="#33a02c"/><rect x="1826.87" y="2510.1" width="3.47" height="31.7" fill="#8c5a2b" fill-opacity=".85"/><rect x="1830.33" y="2510.1" width="6.93" height="31.7" fill="#ff7f00" fill-opacity=".85"/><rect x="1837.27" y="2510.1" width="6.93" height="31.7" fill="#33a02c" fill-opacity=".85"/><rect x="1844.20" y="2510.1" width="3.47" height="31.7" fill="#e31a1c" fill-opacity=".85"/><rect x="1847.67" y="2510.1" width="3.47" height="31.7" fill="#33a02c" fill-opacity=".85"/><rect x="1851.13" y="2510.1" width="3.47" height="31.7" fill="#000000" fill-opacity=".85"/><rect x="1854.60" y="2510.1" width="34.67" height="31.7" fill="#33a02c"/><rect x="1889.27" y="2510.1" width="3.47" height="31.7" fill="#ff7f00" fill-opacity=".85"/><rect x="1892.73" y="2510.1" width="13.87" height="31.7" fill="#33a02c"/><text class="g" x="1522.3" y="2536.7">TTN</text><text class="pc" x="2231.6" y="2536.3">23%</text><rect x="2304.0" y="2513.6" width="120.6" height="29.2" fill="#33a02c"/><rect x="2424.6" y="2513.6" width="3.9" height="29.2" fill="#1f78b4"/><rect x="2428.5" y="2513.6" width="6.5" height="29.2" fill="#e31a1c"/><rect x="2435.0" y="2513.6" width="3.0" height="29.2" fill="#ff7f00"/><rect x="2438.0" y="2513.6" width="14.7" height="29.2" fill="#000000"/><rect x="1532.2" y="2544.1" width="696.8" height="31.7" fill="#cfcfcf"/><rect x="1566.87" y="2544.1" width="3.47" height="31.7" fill="#000000" fill-opacity=".85"/><rect x="1570.33" y="2544.1" width="3.47" height="31.7" fill="#33a02c" fill-opacity=".85"/><rect x="1601.53" y="2544.1" width="6.93" height="31.7" fill="#33a02c" fill-opacity=".85"/><rect x="1632.73" y="2544.1" width="3.47" height="31.7" fill="#33a02c" fill-opacity=".85"/><rect x="1660.47" y="2544.1" width="6.93" height="31.7" fill="#33a02c" fill-opacity=".85"/><rect x="1667.40" y="2544.1" width="6.93" height="31.7" fill="#8c5a2b" fill-opacity=".85"/><rect x="1674.33" y="2544.1" width="3.47" height="31.7" fill="#000000" fill-opacity=".85"/><rect x="1677.80" y="2544.1" width="3.47" height="31.7" fill="#33a02c" fill-opacity=".85"/><rect x="1823.40" y="2544.1" width="3.47" height="31.7" fill="#33a02c" fill-opacity=".85"/><rect x="1840.73" y="2544.1" width="3.47" height="31.7" fill="#33a02c" fill-opacity=".85"/><rect x="1917.00" y="2544.1" width="10.40" height="31.7" fill="#33a02c"/><rect x="1927.40" y="2544.1" width="3.47" height="31.7" fill="#ff7f00" fill-opacity=".85"/><rect x="1930.87" y="2544.1" width="3.47" height="31.7" fill="#33a02c" fill-opacity=".85"/><rect x="1996.73" y="2544.1" width="3.47" height="31.7" fill="#b2526a" fill-opacity=".85"/><rect x="2000.20" y="2544.1" width="3.47" height="31.7" fill="#33a02c" fill-opacity=".85"/><rect x="2031.40" y="2544.1" width="38.13" height="31.7" fill="#33a02c"/><text class="g" x="1522.3" y="2570.7">MUC16</text><text class="pc" x="2231.6" y="2570.3">14%</text><rect x="2304.0" y="2547.6" width="75.7" height="29.2" fill="#33a02c"/><rect x="2379.7" y="2547.6" width="6.7" height="29.2" fill="#e31a1c"/><rect x="2386.4" y="2547.6" width="9.0" height="29.2" fill="#000000"/><rect x="1532.2" y="2578.2" width="696.8" height="31.7" fill="#cfcfcf"/><rect x="1542.60" y="2578.2" width="3.47" height="31.7" fill="#ff7f00" fill-opacity=".85"/><rect x="1546.07" y="2578.2" width="6.93" height="31.7" fill="#33a02c" fill-opacity=".85"/><rect x="1553.00" y="2578.2" width="10.40" height="31.7" fill="#000000"/><rect x="1601.53" y="2578.2" width="3.47" height="31.7" fill="#000000" fill-opacity=".85"/><rect x="1632.73" y="2578.2" width="3.47" height="31.7" fill="#6a3d9a" fill-opacity=".85"/><rect x="1636.20" y="2578.2" width="10.40" height="31.7" fill="#ff7f00"/><rect x="1646.60" y="2578.2" width="6.93" height="31.7" fill="#000000" fill-opacity=".85"/><rect x="1657.00" y="2578.2" width="3.47" height="31.7" fill="#ff7f00" fill-opacity=".85"/><rect x="1785.27" y="2578.2" width="3.47" height="31.7" fill="#1f78b4" fill-opacity=".85"/><rect x="1788.73" y="2578.2" width="3.47" height="31.7" fill="#ff7f00" fill-opacity=".85"/><rect x="1823.40" y="2578.2" width="10.40" height="31.7" fill="#33a02c"/><rect x="1833.80" y="2578.2" width="3.47" height="31.7" fill="#1f78b4" fill-opacity=".85"/><rect x="1910.07" y="2578.2" width="6.93" height="31.7" fill="#1f78b4" fill-opacity=".85"/><rect x="1996.73" y="2578.2" width="3.47" height="31.7" fill="#ff7f00" fill-opacity=".85"/><rect x="2000.20" y="2578.2" width="10.40" height="31.7" fill="#1f78b4"/><rect x="2010.60" y="2578.2" width="13.87" height="31.7" fill="#000000"/><rect x="2027.93" y="2578.2" width="3.47" height="31.7" fill="#1f78b4" fill-opacity=".85"/><text class="g" x="1522.3" y="2604.8">ALB</text><text class="pc" x="2231.6" y="2604.4">15%</text><rect x="2304.0" y="2581.7" width="25.0" height="29.2" fill="#33a02c"/><rect x="2329.0" y="2581.7" width="20.7" height="29.2" fill="#1f78b4"/><rect x="2349.7" y="2581.7" width="4.3" height="29.2" fill="#ffff99"/><rect x="2354.0" y="2581.7" width="18.0" height="29.2" fill="#ff7f00"/><rect x="2372.0" y="2581.7" width="26.4" height="29.2" fill="#000000"/><rect x="1532.2" y="2612.3" width="696.8" height="31.7" fill="#cfcfcf"/><rect x="1532.20" y="2612.3" width="3.47" height="31.7" fill="#33a02c" fill-opacity=".85"/><rect x="1563.40" y="2612.3" width="3.47" height="31.7" fill="#000000" fill-opacity=".85"/><rect x="1573.80" y="2612.3" width="3.47" height="31.7" fill="#33a02c" fill-opacity=".85"/><rect x="1601.53" y="2612.3" width="10.40" height="31.7" fill="#33a02c"/><rect x="1629.27" y="2612.3" width="3.47" height="31.7" fill="#33a02c" fill-opacity=".85"/><rect x="1636.20" y="2612.3" width="3.47" height="31.7" fill="#e31a1c" fill-opacity=".85"/><rect x="1639.67" y="2612.3" width="3.47" height="31.7" fill="#8c5a2b" fill-opacity=".85"/><rect x="1681.27" y="2612.3" width="3.47" height="31.7" fill="#1f78b4" fill-opacity=".85"/><rect x="1684.73" y="2612.3" width="3.47" height="31.7" fill="#33a02c" fill-opacity=".85"/><rect x="1826.87" y="2612.3" width="3.47" height="31.7" fill="#33a02c" fill-opacity=".85"/><rect x="1837.27" y="2612.3" width="3.47" height="31.7" fill="#000000" fill-opacity=".85"/><rect x="1844.20" y="2612.3" width="3.47" height="31.7" fill="#6a3d9a" fill-opacity=".85"/><rect x="1847.67" y="2612.3" width="3.47" height="31.7" fill="#33a02c" fill-opacity=".85"/><rect x="1851.13" y="2612.3" width="3.47" height="31.7" fill="#000000" fill-opacity=".85"/><rect x="1937.80" y="2612.3" width="3.47" height="31.7" fill="#000000" fill-opacity=".85"/><rect x="1993.27" y="2612.3" width="3.47" height="31.7" fill="#33a02c" fill-opacity=".85"/><rect x="2003.67" y="2612.3" width="3.47" height="31.7" fill="#b2526a" fill-opacity=".85"/><rect x="2073.00" y="2612.3" width="10.40" height="31.7" fill="#33a02c"/><rect x="2083.40" y="2612.3" width="3.47" height="31.7" fill="#1f78b4" fill-opacity=".85"/><text class="g" x="1522.3" y="2638.9">PCLO</text><text class="pc" x="2231.6" y="2638.5">11%</text><rect x="2304.0" y="2615.8" width="42.0" height="29.2" fill="#33a02c"/><rect x="2346.0" y="2615.8" width="4.0" height="29.2" fill="#1f78b4"/><rect x="2350.0" y="2615.8" width="6.5" height="29.2" fill="#e31a1c"/><rect x="2356.5" y="2615.8" width="13.8" height="29.2" fill="#000000"/><rect x="1532.2" y="2646.4" width="696.8" height="31.7" fill="#cfcfcf"/><rect x="1535.67" y="2646.4" width="13.87" height="31.7" fill="#1f78b4"/><rect x="1563.40" y="2646.4" width="3.47" height="31.7" fill="#33a02c" fill-opacity=".85"/><rect x="1605.00" y="2646.4" width="3.47" height="31.7" fill="#b2526a" fill-opacity=".85"/><rect x="1611.93" y="2646.4" width="3.47" height="31.7" fill="#33a02c" fill-opacity=".85"/><rect x="1636.20" y="2646.4" width="3.47" height="31.7" fill="#33a02c" fill-opacity=".85"/><rect x="1660.47" y="2646.4" width="6.93" height="31.7" fill="#1f78b4" fill-opacity=".85"/><rect x="1688.20" y="2646.4" width="6.93" height="31.7" fill="#6a3d9a" fill-opacity=".85"/><rect x="1695.13" y="2646.4" width="3.47" height="31.7" fill="#000000" fill-opacity=".85"/><rect x="1844.20" y="2646.4" width="3.47" height="31.7" fill="#33a02c" fill-opacity=".85"/><rect x="1854.60" y="2646.4" width="6.93" height="31.7" fill="#33a02c" fill-opacity=".85"/><rect x="1944.73" y="2646.4" width="3.47" height="31.7" fill="#000000" fill-opacity=".85"/><rect x="2007.13" y="2646.4" width="3.47" height="31.7" fill="#1f78b4" fill-opacity=".85"/><rect x="2086.87" y="2646.4" width="3.47" height="31.7" fill="#1f78b4" fill-opacity=".85"/><rect x="2093.80" y="2646.4" width="13.87" height="31.7" fill="#33a02c"/><text class="g" x="1522.3" y="2673.0">APOB</text><text class="pc" x="2231.6" y="2672.6">10%</text><rect x="2304.0" y="2649.9" width="28.8" height="29.2" fill="#33a02c"/><rect x="2332.8" y="2649.9" width="9.4" height="29.2" fill="#1f78b4"/><rect x="2342.2" y="2649.9" width="18.0" height="29.2" fill="#6a3d9a"/><rect x="2360.2" y="2649.9" width="8.2" height="29.2" fill="#000000"/><rect x="1532.2" y="2680.5" width="696.8" height="31.7" fill="#cfcfcf"/><rect x="1605.00" y="2680.5" width="6.93" height="31.7" fill="#33a02c" fill-opacity=".85"/><rect x="1643.13" y="2680.5" width="3.47" height="31.7" fill="#33a02c" fill-opacity=".85"/><rect x="1691.67" y="2680.5" width="3.47" height="31.7" fill="#000000" fill-opacity=".85"/><rect x="1799.13" y="2680.5" width="3.47" height="31.7" fill="#000000" fill-opacity=".85"/><rect x="1802.60" y="2680.5" width="3.47" height="31.7" fill="#33a02c" fill-opacity=".85"/><rect x="1868.47" y="2680.5" width="3.47" height="31.7" fill="#000000" fill-opacity=".85"/><rect x="1871.93" y="2680.5" width="3.47" height="31.7" fill="#33a02c" fill-opacity=".85"/><rect x="1951.67" y="2680.5" width="3.47" height="31.7" fill="#33a02c" fill-opacity=".85"/><rect x="2003.67" y="2680.5" width="3.47" height="31.7" fill="#33a02c" fill-opacity=".85"/><rect x="2090.33" y="2680.5" width="3.47" height="31.7" fill="#000000" fill-opacity=".85"/><rect x="2121.53" y="2680.5" width="3.47" height="31.7" fill="#33a02c" fill-opacity=".85"/><rect x="2135.40" y="2680.5" width="17.33" height="31.7" fill="#33a02c"/><text class="g" x="1522.3" y="2707.1">MUC4</text><text class="pc" x="2231.6" y="2706.7">8%</text><rect x="2304.0" y="2684.0" width="37.5" height="29.2" fill="#33a02c"/><rect x="2341.5" y="2684.0" width="10.1" height="29.2" fill="#000000"/><rect x="1532.2" y="2714.5" width="696.8" height="31.7" fill="#cfcfcf"/><rect x="1535.67" y="2714.5" width="3.47" height="31.7" fill="#33a02c" fill-opacity=".85"/><rect x="1563.40" y="2714.5" width="3.47" height="31.7" fill="#000000" fill-opacity=".85"/><rect x="1632.73" y="2714.5" width="3.47" height="31.7" fill="#33a02c" fill-opacity=".85"/><rect x="1681.27" y="2714.5" width="3.47" height="31.7" fill="#e31a1c" fill-opacity=".85"/><rect x="1726.33" y="2714.5" width="3.47" height="31.7" fill="#33a02c" fill-opacity=".85"/><rect x="1792.20" y="2714.5" width="3.47" height="31.7" fill="#000000" fill-opacity=".85"/><rect x="1830.33" y="2714.5" width="3.47" height="31.7" fill="#33a02c" fill-opacity=".85"/><rect x="1844.20" y="2714.5" width="3.47" height="31.7" fill="#33a02c" fill-opacity=".85"/><rect x="1882.33" y="2714.5" width="3.47" height="31.7" fill="#33a02c" fill-opacity=".85"/><rect x="2031.40" y="2714.5" width="10.40" height="31.7" fill="#33a02c"/><rect x="2055.67" y="2714.5" width="3.47" height="31.7" fill="#33a02c" fill-opacity=".85"/><rect x="2093.80" y="2714.5" width="3.47" height="31.7" fill="#33a02c" fill-opacity=".85"/><rect x="2215.13" y="2714.5" width="3.47" height="31.7" fill="#33a02c" fill-opacity=".85"/><text class="g" x="1522.3" y="2741.1">RYR2</text><text class="pc" x="2231.6" y="2740.7">6%</text><rect x="2304.0" y="2718.0" width="31.8" height="29.2" fill="#33a02c"/><rect x="2335.8" y="2718.0" width="2.7" height="29.2" fill="#e31a1c"/><rect x="2338.5" y="2718.0" width="4.8" height="29.2" fill="#000000"/><rect x="1532.2" y="2748.6" width="696.8" height="31.7" fill="#cfcfcf"/><rect x="1563.40" y="2748.6" width="3.47" height="31.7" fill="#33a02c" fill-opacity=".85"/><rect x="1667.40" y="2748.6" width="3.47" height="31.7" fill="#000000" fill-opacity=".85"/><rect x="1705.53" y="2748.6" width="3.47" height="31.7" fill="#33a02c" fill-opacity=".85"/><rect x="1795.67" y="2748.6" width="3.47" height="31.7" fill="#33a02c" fill-opacity=".85"/><rect x="1854.60" y="2748.6" width="3.47" height="31.7" fill="#33a02c" fill-opacity=".85"/><rect x="1871.93" y="2748.6" width="6.93" height="31.7" fill="#33a02c" fill-opacity=".85"/><rect x="1910.07" y="2748.6" width="3.47" height="31.7" fill="#33a02c" fill-opacity=".85"/><rect x="1951.67" y="2748.6" width="3.47" height="31.7" fill="#33a02c" fill-opacity=".85"/><rect x="2107.67" y="2748.6" width="3.47" height="31.7" fill="#33a02c" fill-opacity=".85"/><rect x="2135.40" y="2748.6" width="3.47" height="31.7" fill="#000000" fill-opacity=".85"/><rect x="2152.73" y="2748.6" width="13.87" height="31.7" fill="#33a02c"/><text class="g" x="1522.3" y="2775.2">FLG</text><text class="pc" x="2231.6" y="2774.8">7%</text><rect x="2304.0" y="2752.1" width="40.0" height="29.2" fill="#33a02c"/><rect x="2344.0" y="2752.1" width="5.0" height="29.2" fill="#000000"/><rect x="1532.2" y="2782.7" width="696.8" height="31.7" fill="#cfcfcf"/><rect x="1535.67" y="2782.7" width="10.40" height="31.7" fill="#33a02c"/><rect x="1577.27" y="2782.7" width="6.93" height="31.7" fill="#33a02c" fill-opacity=".85"/><rect x="1681.27" y="2782.7" width="3.47" height="31.7" fill="#33a02c" fill-opacity=".85"/><rect x="1709.00" y="2782.7" width="3.47" height="31.7" fill="#33a02c" fill-opacity=".85"/><rect x="1799.13" y="2782.7" width="10.40" height="31.7" fill="#33a02c"/><rect x="1871.93" y="2782.7" width="3.47" height="31.7" fill="#33a02c" fill-opacity=".85"/><rect x="1920.47" y="2782.7" width="3.47" height="31.7" fill="#ff7f00" fill-opacity=".85"/><rect x="1955.13" y="2782.7" width="3.47" height="31.7" fill="#33a02c" fill-opacity=".85"/><rect x="2041.80" y="2782.7" width="3.47" height="31.7" fill="#33a02c" fill-opacity=".85"/><rect x="2135.40" y="2782.7" width="3.47" height="31.7" fill="#33a02c" fill-opacity=".85"/><rect x="2170.07" y="2782.7" width="6.93" height="31.7" fill="#ff7f00" fill-opacity=".85"/><text class="g" x="1522.3" y="2809.3">LRP1B</text><text class="pc" x="2231.6" y="2808.9">7%</text><rect x="2304.0" y="2786.2" width="40.0" height="29.2" fill="#33a02c"/><rect x="2344.0" y="2786.2" width="5.7" height="29.2" fill="#ff7f00"/><rect x="1532.2" y="2816.8" width="696.8" height="31.7" fill="#cfcfcf"/><rect x="1563.40" y="2816.8" width="3.47" height="31.7" fill="#ff7f00" fill-opacity=".85"/><rect x="1601.53" y="2816.8" width="6.93" height="31.7" fill="#33a02c" fill-opacity=".85"/><rect x="1615.40" y="2816.8" width="3.47" height="31.7" fill="#33a02c" fill-opacity=".85"/><rect x="1636.20" y="2816.8" width="3.47" height="31.7" fill="#33a02c" fill-opacity=".85"/><rect x="1646.60" y="2816.8" width="3.47" height="31.7" fill="#8c5a2b" fill-opacity=".85"/><rect x="1660.47" y="2816.8" width="3.47" height="31.7" fill="#33a02c" fill-opacity=".85"/><rect x="1688.20" y="2816.8" width="3.47" height="31.7" fill="#33a02c" fill-opacity=".85"/><rect x="1702.07" y="2816.8" width="3.47" height="31.7" fill="#33a02c" fill-opacity=".85"/><rect x="1785.27" y="2816.8" width="10.40" height="31.7" fill="#33a02c"/><rect x="1861.53" y="2816.8" width="3.47" height="31.7" fill="#33a02c" fill-opacity=".85"/><rect x="1934.33" y="2816.8" width="3.47" height="31.7" fill="#33a02c" fill-opacity=".85"/><rect x="2000.20" y="2816.8" width="3.47" height="31.7" fill="#33a02c" fill-opacity=".85"/><rect x="2086.87" y="2816.8" width="3.47" height="31.7" fill="#ff7f00" fill-opacity=".85"/><rect x="2111.13" y="2816.8" width="13.87" height="31.7" fill="#33a02c"/><text class="g" x="1522.3" y="2843.4">ABCA13</text><text class="pc" x="2231.6" y="2843.0">9%</text><rect x="2304.0" y="2820.3" width="45.7" height="29.2" fill="#33a02c"/><rect x="2349.7" y="2820.3" width="6.8" height="29.2" fill="#ff7f00"/><rect x="2356.5" y="2820.3" width="3.5" height="29.2" fill="#8c5a2b"/><rect x="1532.2" y="2850.9" width="696.8" height="31.7" fill="#cfcfcf"/><rect x="1535.67" y="2850.9" width="3.47" height="31.7" fill="#33a02c" fill-opacity=".85"/><rect x="1563.40" y="2850.9" width="3.47" height="31.7" fill="#000000" fill-opacity=".85"/><rect x="1618.87" y="2850.9" width="3.47" height="31.7" fill="#33a02c" fill-opacity=".85"/><rect x="1684.73" y="2850.9" width="3.47" height="31.7" fill="#33a02c" fill-opacity=".85"/><rect x="1705.53" y="2850.9" width="3.47" height="31.7" fill="#33a02c" fill-opacity=".85"/><rect x="1712.47" y="2850.9" width="3.47" height="31.7" fill="#33a02c" fill-opacity=".85"/><rect x="1719.40" y="2850.9" width="3.47" height="31.7" fill="#33a02c" fill-opacity=".85"/><rect x="1792.20" y="2850.9" width="6.93" height="31.7" fill="#33a02c" fill-opacity=".85"/><rect x="1809.53" y="2850.9" width="3.47" height="31.7" fill="#33a02c" fill-opacity=".85"/><rect x="1871.93" y="2850.9" width="3.47" height="31.7" fill="#33a02c" fill-opacity=".85"/><rect x="1923.93" y="2850.9" width="3.47" height="31.7" fill="#33a02c" fill-opacity=".85"/><rect x="2048.73" y="2850.9" width="3.47" height="31.7" fill="#33a02c" fill-opacity=".85"/><rect x="2204.73" y="2850.9" width="3.47" height="31.7" fill="#33a02c" fill-opacity=".85"/><text class="g" x="1522.3" y="2877.5">OBSCN</text><text class="pc" x="2231.6" y="2877.1">7%</text><rect x="2304.0" y="2854.4" width="42.0" height="29.2" fill="#33a02c"/><rect x="1532.2" y="2884.9" width="696.8" height="31.7" fill="#cfcfcf"/><rect x="1563.40" y="2884.9" width="3.47" height="31.7" fill="#000000" fill-opacity=".85"/><rect x="1587.67" y="2884.9" width="3.47" height="31.7" fill="#33a02c" fill-opacity=".85"/><rect x="1605.00" y="2884.9" width="3.47" height="31.7" fill="#33a02c" fill-opacity=".85"/><rect x="1729.80" y="2884.9" width="3.47" height="31.7" fill="#33a02c" fill-opacity=".85"/><rect x="1858.07" y="2884.9" width="3.47" height="31.7" fill="#33a02c" fill-opacity=".85"/><rect x="1875.40" y="2884.9" width="3.47" height="31.7" fill="#33a02c" fill-opacity=".85"/><rect x="1937.80" y="2884.9" width="3.47" height="31.7" fill="#33a02c" fill-opacity=".85"/><rect x="1962.07" y="2884.9" width="3.47" height="31.7" fill="#33a02c" fill-opacity=".85"/><rect x="2152.73" y="2884.9" width="3.47" height="31.7" fill="#33a02c" fill-opacity=".85"/><rect x="2183.93" y="2884.9" width="3.47" height="31.7" fill="#33a02c" fill-opacity=".85"/><rect x="2225.53" y="2884.9" width="3.47" height="31.7" fill="#ff7f00" fill-opacity=".85"/><text class="g" x="1522.3" y="2911.5">CSMD3</text><text class="pc" x="2231.6" y="2911.1">5%</text><rect x="2304.0" y="2888.4" width="25.0" height="29.2" fill="#33a02c"/><rect x="2329.0" y="2888.4" width="3.0" height="29.2" fill="#ff7f00"/><rect x="2332.0" y="2888.4" width="3.5" height="29.2" fill="#000000"/><rect x="1532.2" y="2919.0" width="696.8" height="31.7" fill="#cfcfcf"/><rect x="1535.67" y="2919.0" width="3.47" height="31.7" fill="#33a02c" fill-opacity=".85"/><rect x="1577.27" y="2919.0" width="3.47" height="31.7" fill="#33a02c" fill-opacity=".85"/><rect x="1622.33" y="2919.0" width="10.40" height="31.7" fill="#33a02c"/><rect x="1650.07" y="2919.0" width="3.47" height="31.7" fill="#33a02c" fill-opacity=".85"/><rect x="1795.67" y="2919.0" width="3.47" height="31.7" fill="#33a02c" fill-opacity=".85"/><rect x="1826.87" y="2919.0" width="3.47" height="31.7" fill="#33a02c" fill-opacity=".85"/><rect x="1861.53" y="2919.0" width="10.40" height="31.7" fill="#33a02c"/><rect x="1906.60" y="2919.0" width="3.47" height="31.7" fill="#33a02c" fill-opacity=".85"/><rect x="1948.20" y="2919.0" width="3.47" height="31.7" fill="#33a02c" fill-opacity=".85"/><rect x="2003.67" y="2919.0" width="3.47" height="31.7" fill="#33a02c" fill-opacity=".85"/><rect x="2010.60" y="2919.0" width="3.47" height="31.7" fill="#33a02c" fill-opacity=".85"/><rect x="2031.40" y="2919.0" width="10.40" height="31.7" fill="#33a02c"/><rect x="2069.53" y="2919.0" width="3.47" height="31.7" fill="#33a02c" fill-opacity=".85"/><rect x="2121.53" y="2919.0" width="6.93" height="31.7" fill="#33a02c" fill-opacity=".85"/><rect x="2128.47" y="2919.0" width="3.47" height="31.7" fill="#1f78b4" fill-opacity=".85"/><text class="g" x="1522.3" y="2945.6">XIRP2</text><text class="pc" x="2231.6" y="2945.2">9%</text><rect x="2304.0" y="2922.5" width="54.3" height="29.2" fill="#33a02c"/><rect x="2358.3" y="2922.5" width="2.7" height="29.2" fill="#1f78b4"/><rect x="1532.2" y="2953.1" width="696.8" height="31.7" fill="#cfcfcf"/><rect x="1584.20" y="2953.1" width="3.47" height="31.7" fill="#33a02c" fill-opacity=".85"/><rect x="1601.53" y="2953.1" width="3.47" height="31.7" fill="#33a02c" fill-opacity=".85"/><rect x="1608.47" y="2953.1" width="3.47" height="31.7" fill="#33a02c" fill-opacity=".85"/><rect x="1650.07" y="2953.1" width="3.47" height="31.7" fill="#33a02c" fill-opacity=".85"/><rect x="1660.47" y="2953.1" width="3.47" height="31.7" fill="#e31a1c" fill-opacity=".85"/><rect x="1684.73" y="2953.1" width="3.47" height="31.7" fill="#8c5a2b" fill-opacity=".85"/><rect x="1695.13" y="2953.1" width="3.47" height="31.7" fill="#33a02c" fill-opacity=".85"/><rect x="1712.47" y="2953.1" width="3.47" height="31.7" fill="#2a8a8a" fill-opacity=".85"/><rect x="1792.20" y="2953.1" width="3.47" height="31.7" fill="#33a02c" fill-opacity=".85"/><rect x="1837.27" y="2953.1" width="3.47" height="31.7" fill="#33a02c" fill-opacity=".85"/><rect x="1948.20" y="2953.1" width="13.87" height="31.7" fill="#33a02c"/><rect x="2031.40" y="2953.1" width="3.47" height="31.7" fill="#33a02c" fill-opacity=".85"/><rect x="2138.87" y="2953.1" width="3.47" height="31.7" fill="#6a3d9a" fill-opacity=".85"/><rect x="2177.00" y="2953.1" width="3.47" height="31.7" fill="#1f78b4" fill-opacity=".85"/><text class="g" x="1522.3" y="2979.7">HMCN1</text><text class="pc" x="2231.6" y="2979.3">7%</text><rect x="2304.0" y="2956.6" width="32.6" height="29.2" fill="#33a02c"/><rect x="2336.6" y="2956.6" width="8.4" height="29.2" fill="#6a3d9a"/><rect x="2345.0" y="2956.6" width="4.0" height="29.2" fill="#000000"/><rect x="1532.2" y="2987.2" width="696.8" height="31.7" fill="#cfcfcf"/><rect x="1570.33" y="2987.2" width="3.47" height="31.7" fill="#000000" fill-opacity=".85"/><rect x="1601.53" y="2987.2" width="3.47" height="31.7" fill="#1f78b4" fill-opacity=".85"/><rect x="1622.33" y="2987.2" width="3.47" height="31.7" fill="#33a02c" fill-opacity=".85"/><rect x="1719.40" y="2987.2" width="3.47" height="31.7" fill="#000000" fill-opacity=".85"/><rect x="1722.87" y="2987.2" width="3.47" height="31.7" fill="#6a3d9a" fill-opacity=".85"/><rect x="1861.53" y="2987.2" width="3.47" height="31.7" fill="#e31a1c" fill-opacity=".85"/><rect x="1885.80" y="2987.2" width="3.47" height="31.7" fill="#33a02c" fill-opacity=".85"/><rect x="1889.27" y="2987.2" width="3.47" height="31.7" fill="#ff7f00" fill-opacity=".85"/><rect x="2007.13" y="2987.2" width="3.47" height="31.7" fill="#33a02c" fill-opacity=".85"/><rect x="2038.33" y="2987.2" width="3.47" height="31.7" fill="#33a02c" fill-opacity=".85"/><rect x="2052.20" y="2987.2" width="3.47" height="31.7" fill="#e31a1c" fill-opacity=".85"/><rect x="2149.27" y="2987.2" width="3.47" height="31.7" fill="#1f78b4" fill-opacity=".85"/><rect x="2180.47" y="2987.2" width="3.47" height="31.7" fill="#2a8a8a" fill-opacity=".85"/><rect x="2208.20" y="2987.2" width="3.47" height="31.7" fill="#ff7f00" fill-opacity=".85"/><rect x="2211.67" y="2987.2" width="3.47" height="31.7" fill="#1f78b4" fill-opacity=".85"/><text class="g" x="1522.3" y="3013.8">ARID1A</text><text class="pc" x="2231.6" y="3013.4">7%</text><rect x="2304.0" y="2990.7" width="13.9" height="29.2" fill="#33a02c"/><rect x="2317.9" y="2990.7" width="4.8" height="29.2" fill="#1f78b4"/><rect x="2322.7" y="2990.7" width="10.1" height="29.2" fill="#e31a1c"/><rect x="2332.8" y="2990.7" width="3.2" height="29.2" fill="#ff7f00"/><rect x="2336.0" y="2990.7" width="4.0" height="29.2" fill="#6a3d9a"/><rect x="2340.0" y="2990.7" width="6.0" height="29.2" fill="#000000"/><rect x="1532.2" y="3021.3" width="696.8" height="31.7" fill="#cfcfcf"/><rect x="1539.13" y="3021.3" width="3.47" height="31.7" fill="#33a02c" fill-opacity=".85"/><rect x="1563.40" y="3021.3" width="3.47" height="31.7" fill="#33a02c" fill-opacity=".85"/><rect x="1608.47" y="3021.3" width="3.47" height="31.7" fill="#33a02c" fill-opacity=".85"/><rect x="1674.33" y="3021.3" width="3.47" height="31.7" fill="#33a02c" fill-opacity=".85"/><rect x="1861.53" y="3021.3" width="3.47" height="31.7" fill="#33a02c" fill-opacity=".85"/><rect x="1875.40" y="3021.3" width="3.47" height="31.7" fill="#33a02c" fill-opacity=".85"/><rect x="1923.93" y="3021.3" width="3.47" height="31.7" fill="#33a02c" fill-opacity=".85"/><rect x="1937.80" y="3021.3" width="3.47" height="31.7" fill="#33a02c" fill-opacity=".85"/><rect x="2131.93" y="3021.3" width="3.47" height="31.7" fill="#33a02c" fill-opacity=".85"/><rect x="2218.60" y="3021.3" width="6.93" height="31.7" fill="#33a02c" fill-opacity=".85"/><text class="g" x="1522.3" y="3047.9">FAT3</text><text class="pc" x="2231.6" y="3047.5">5%</text><rect x="2304.0" y="3024.8" width="28.8" height="29.2" fill="#33a02c"/><rect x="1532.2" y="3055.3" width="696.8" height="31.7" fill="#cfcfcf"/><rect x="1535.67" y="3055.3" width="3.47" height="31.7" fill="#33a02c" fill-opacity=".85"/><rect x="1549.53" y="3055.3" width="3.47" height="31.7" fill="#33a02c" fill-opacity=".85"/><rect x="1563.40" y="3055.3" width="3.47" height="31.7" fill="#33a02c" fill-opacity=".85"/><rect x="1580.73" y="3055.3" width="3.47" height="31.7" fill="#33a02c" fill-opacity=".85"/><rect x="1611.93" y="3055.3" width="3.47" height="31.7" fill="#33a02c" fill-opacity=".85"/><rect x="1670.87" y="3055.3" width="3.47" height="31.7" fill="#33a02c" fill-opacity=".85"/><rect x="1709.00" y="3055.3" width="3.47" height="31.7" fill="#33a02c" fill-opacity=".85"/><rect x="1885.80" y="3055.3" width="3.47" height="31.7" fill="#33a02c" fill-opacity=".85"/><rect x="1927.40" y="3055.3" width="3.47" height="31.7" fill="#33a02c" fill-opacity=".85"/><rect x="1937.80" y="3055.3" width="3.47" height="31.7" fill="#33a02c" fill-opacity=".85"/><rect x="2003.67" y="3055.3" width="3.47" height="31.7" fill="#33a02c" fill-opacity=".85"/><rect x="2048.73" y="3055.3" width="3.47" height="31.7" fill="#33a02c" fill-opacity=".85"/><rect x="2111.13" y="3055.3" width="3.47" height="31.7" fill="#33a02c" fill-opacity=".85"/><rect x="2166.60" y="3055.3" width="3.47" height="31.7" fill="#33a02c" fill-opacity=".85"/><rect x="2218.60" y="3055.3" width="3.47" height="31.7" fill="#33a02c" fill-opacity=".85"/><text class="g" x="1522.3" y="3081.9">CACNA1E</text><text class="pc" x="2231.6" y="3081.5">6%</text><rect x="2304.0" y="3058.8" width="40.0" height="29.2" fill="#33a02c"/><rect x="1532.2" y="3089.4" width="696.8" height="31.7" fill="#cfcfcf"/><rect x="1570.33" y="3089.4" width="3.47" height="31.7" fill="#33a02c" fill-opacity=".85"/><rect x="1788.73" y="3089.4" width="3.47" height="31.7" fill="#e31a1c" fill-opacity=".85"/><rect x="1861.53" y="3089.4" width="3.47" height="31.7" fill="#e31a1c" fill-opacity=".85"/><rect x="1878.87" y="3089.4" width="3.47" height="31.7" fill="#b2526a" fill-opacity=".85"/><rect x="1920.47" y="3089.4" width="3.47" height="31.7" fill="#ff7f00" fill-opacity=".85"/><rect x="1923.93" y="3089.4" width="3.47" height="31.7" fill="#ffff99" fill-opacity=".85"/><rect x="2014.07" y="3089.4" width="3.47" height="31.7" fill="#000000" fill-opacity=".85"/><rect x="2034.87" y="3089.4" width="3.47" height="31.7" fill="#b2526a" fill-opacity=".85"/><rect x="2045.27" y="3089.4" width="3.47" height="31.7" fill="#8c5a2b" fill-opacity=".85"/><rect x="2131.93" y="3089.4" width="3.47" height="31.7" fill="#e31a1c" fill-opacity=".85"/><rect x="2180.47" y="3089.4" width="3.47" height="31.7" fill="#8c5a2b" fill-opacity=".85"/><rect x="2187.40" y="3089.4" width="3.47" height="31.7" fill="#33a02c" fill-opacity=".85"/><rect x="2194.33" y="3089.4" width="3.47" height="31.7" fill="#e31a1c" fill-opacity=".85"/><text class="g" x="1522.3" y="3116.0">AXIN1</text><text class="pc" x="2231.6" y="3115.6">7%</text><rect x="2304.0" y="3092.9" width="2.5" height="29.2" fill="#33a02c"/><rect x="2306.5" y="3092.9" width="7.5" height="29.2" fill="#1f78b4"/><rect x="2314.0" y="3092.9" width="25.0" height="29.2" fill="#e31a1c"/><rect x="2339.0" y="3092.9" width="7.0" height="29.2" fill="#ff7f00"/><rect x="2346.0" y="3092.9" width="3.0" height="29.2" fill="#000000"/><path d="M1535.67 2441.9V3121.1M1539.13 2441.9V3121.1M1542.60 2441.9V3121.1M1546.07 2441.9V3121.1M1549.53 2441.9V3121.1M1553.00 2441.9V3121.1M1556.47 2441.9V3121.1M1559.93 2441.9V3121.1M1563.40 2441.9V3121.1M1566.87 2441.9V3121.1M1570.33 2441.9V3121.1M1573.80 2441.9V3121.1M1577.27 2441.9V3121.1M1580.73 2441.9V3121.1M1584.20 2441.9V3121.1M1587.67 2441.9V3121.1M1591.13 2441.9V3121.1M1594.60 2441.9V3121.1M1598.07 2441.9V3121.1M1601.53 2441.9V3121.1M1605.00 2441.9V3121.1M1608.47 2441.9V3121.1M1611.93 2441.9V3121.1M1615.40 2441.9V3121.1M1618.87 2441.9V3121.1M1622.33 2441.9V3121.1M1625.80 2441.9V3121.1M1629.27 2441.9V3121.1M1632.73 2441.9V3121.1M1636.20 2441.9V3121.1M1639.67 2441.9V3121.1M1643.13 2441.9V3121.1M1646.60 2441.9V3121.1M1650.07 2441.9V3121.1M1653.53 2441.9V3121.1M1657.00 2441.9V3121.1M1660.47 2441.9V3121.1M1663.93 2441.9V3121.1M1667.40 2441.9V3121.1M1670.87 2441.9V3121.1M1674.33 2441.9V3121.1M1677.80 2441.9V3121.1M1681.27 2441.9V3121.1M1684.73 2441.9V3121.1M1688.20 2441.9V3121.1M1691.67 2441.9V3121.1M1695.13 2441.9V3121.1M1698.60 2441.9V3121.1M1702.07 2441.9V3121.1M1705.53 2441.9V3121.1M1709.00 2441.9V3121.1M1712.47 2441.9V3121.1M1715.93 2441.9V3121.1M1719.40 2441.9V3121.1M1722.87 2441.9V3121.1M1726.33 2441.9V3121.1M1729.80 2441.9V3121.1M1733.27 2441.9V3121.1M1736.73 2441.9V3121.1M1740.20 2441.9V3121.1M1743.67 2441.9V3121.1M1747.13 2441.9V3121.1M1750.60 2441.9V3121.1M1754.07 2441.9V3121.1M1757.53 2441.9V3121.1M1761.00 2441.9V3121.1M1764.47 2441.9V3121.1M1767.93 2441.9V3121.1M1771.40 2441.9V3121.1M1774.87 2441.9V3121.1M1778.33 2441.9V3121.1M1781.80 2441.9V3121.1M1785.27 2441.9V3121.1M1788.73 2441.9V3121.1M1792.20 2441.9V3121.1M1795.67 2441.9V3121.1M1799.13 2441.9V3121.1M1802.60 2441.9V3121.1M1806.07 2441.9V3121.1M1809.53 2441.9V3121.1M1813.00 2441.9V3121.1M1816.47 2441.9V3121.1M1819.93 2441.9V3121.1M1823.40 2441.9V3121.1M1826.87 2441.9V3121.1M1830.33 2441.9V3121.1M1833.80 2441.9V3121.1M1837.27 2441.9V3121.1M1840.73 2441.9V3121.1M1844.20 2441.9V3121.1M1847.67 2441.9V3121.1M1851.13 2441.9V3121.1M1854.60 2441.9V3121.1M1858.07 2441.9V3121.1M1861.53 2441.9V3121.1M1865.00 2441.9V3121.1M1868.47 2441.9V3121.1M1871.93 2441.9V3121.1M1875.40 2441.9V3121.1M1878.87 2441.9V3121.1M1882.33 2441.9V3121.1M1885.80 2441.9V3121.1M1889.27 2441.9V3121.1M1892.73 2441.9V3121.1M1896.20 2441.9V3121.1M1899.67 2441.9V3121.1M1903.13 2441.9V3121.1M1906.60 2441.9V3121.1M1910.07 2441.9V3121.1M1913.53 2441.9V3121.1M1917.00 2441.9V3121.1M1920.47 2441.9V3121.1M1923.93 2441.9V3121.1M1927.40 2441.9V3121.1M1930.87 2441.9V3121.1M1934.33 2441.9V3121.1M1937.80 2441.9V3121.1M1941.27 2441.9V3121.1M1944.73 2441.9V3121.1M1948.20 2441.9V3121.1M1951.67 2441.9V3121.1M1955.13 2441.9V3121.1M1958.60 2441.9V3121.1M1962.07 2441.9V3121.1M1965.53 2441.9V3121.1M1969.00 2441.9V3121.1M1972.47 2441.9V3121.1M1975.93 2441.9V3121.1M1979.40 2441.9V3121.1M1982.87 2441.9V3121.1M1986.33 2441.9V3121.1M1989.80 2441.9V3121.1M1993.27 2441.9V3121.1M1996.73 2441.9V3121.1M2000.20 2441.9V3121.1M2003.67 2441.9V3121.1M2007.13 2441.9V3121.1M2010.60 2441.9V3121.1M2014.07 2441.9V3121.1M2017.53 2441.9V3121.1M2021.00 2441.9V3121.1M2024.47 2441.9V3121.1M2027.93 2441.9V3121.1M2031.40 2441.9V3121.1M2034.87 2441.9V3121.1M2038.33 2441.9V3121.1M2041.80 2441.9V3121.1M2045.27 2441.9V3121.1M2048.73 2441.9V3121.1M2052.20 2441.9V3121.1M2055.67 2441.9V3121.1M2059.13 2441.9V3121.1M2062.60 2441.9V3121.1M2066.07 2441.9V3121.1M2069.53 2441.9V3121.1M2073.00 2441.9V3121.1M2076.47 2441.9V3121.1M2079.93 2441.9V3121.1M2083.40 2441.9V3121.1M2086.87 2441.9V3121.1M2090.33 2441.9V3121.1M2093.80 2441.9V3121.1M2097.27 2441.9V3121.1M2100.73 2441.9V3121.1M2104.20 2441.9V3121.1M2107.67 2441.9V3121.1M2111.13 2441.9V3121.1M2114.60 2441.9V3121.1M2118.07 2441.9V3121.1M2121.53 2441.9V3121.1M2125.00 2441.9V3121.1M2128.47 2441.9V3121.1M2131.93 2441.9V3121.1M2135.40 2441.9V3121.1M2138.87 2441.9V3121.1M2142.33 2441.9V3121.1M2145.80 2441.9V3121.1M2149.27 2441.9V3121.1M2152.73 2441.9V3121.1M2156.20 2441.9V3121.1M2159.67 2441.9V3121.1M2163.13 2441.9V3121.1M2166.60 2441.9V3121.1M2170.07 2441.9V3121.1M2173.53 2441.9V3121.1M2177.00 2441.9V3121.1M2180.47 2441.9V3121.1M2183.93 2441.9V3121.1M2187.40 2441.9V3121.1M2190.87 2441.9V3121.1M2194.33 2441.9V3121.1M2197.80 2441.9V3121.1M2201.27 2441.9V3121.1M2204.73 2441.9V3121.1M2208.20 2441.9V3121.1M2211.67 2441.9V3121.1M2215.13 2441.9V3121.1M2218.60 2441.9V3121.1M2222.07 2441.9V3121.1M2225.53 2441.9V3121.1" stroke="#fff" stroke-opacity=".38" stroke-width="0.9" fill="none"/><rect x="1531.2" y="2473.6" width="698.8" height="2.38" fill="#fff"/><rect x="1531.2" y="2507.7" width="698.8" height="2.38" fill="#fff"/><rect x="1531.2" y="2541.8" width="698.8" height="2.38" fill="#fff"/><rect x="1531.2" y="2575.8" width="698.8" height="2.38" fill="#fff"/><rect x="1531.2" y="2609.9" width="698.8" height="2.38" fill="#fff"/><rect x="1531.2" y="2644.0" width="698.8" height="2.38" fill="#fff"/><rect x="1531.2" y="2678.1" width="698.8" height="2.38" fill="#fff"/><rect x="1531.2" y="2712.2" width="698.8" height="2.38" fill="#fff"/><rect x="1531.2" y="2746.2" width="698.8" height="2.38" fill="#fff"/><rect x="1531.2" y="2780.3" width="698.8" height="2.38" fill="#fff"/><rect x="1531.2" y="2814.4" width="698.8" height="2.38" fill="#fff"/><rect x="1531.2" y="2848.5" width="698.8" height="2.38" fill="#fff"/><rect x="1531.2" y="2882.6" width="698.8" height="2.38" fill="#fff"/><rect x="1531.2" y="2916.6" width="698.8" height="2.38" fill="#fff"/><rect x="1531.2" y="2950.7" width="698.8" height="2.38" fill="#fff"/><rect x="1531.2" y="2984.8" width="698.8" height="2.38" fill="#fff"/><rect x="1531.2" y="3018.9" width="698.8" height="2.38" fill="#fff"/><rect x="1531.2" y="3053.0" width="698.8" height="2.38" fill="#fff"/><rect x="1531.2" y="3087.0" width="698.8" height="2.38" fill="#fff"/><path d="M2304.0 2421V2435.3H2502.0V2421" fill="none" stroke="#333" stroke-width="2"/><text class="sm" x="2304.0" y="2402" text-anchor="middle">0</text><text class="sm" x="2502.0" y="2402" text-anchor="middle">73</text><rect x="1507.2" y="3157.0" width="11" height="11" fill="#33a02c"/><text class="lg" x="1534.8" y="3172.0">Missense_Mutation</text><rect x="1507.2" y="3189.5" width="11" height="11" fill="#1f78b4"/><text class="lg" x="1534.8" y="3204.5">Frame_Shift_Del</text><rect x="1507.2" y="3222.0" width="11" height="11" fill="#e31a1c"/><text class="lg" x="1534.8" y="3237.0">Nonsense_Mutation</text><rect x="1507.2" y="3254.5" width="11" height="11" fill="#ffff99"/><text class="lg" x="1534.8" y="3269.5">In_Frame_Del</text><rect x="1781.9" y="3157.0" width="11" height="11" fill="#ff7f00"/><text class="lg" x="1809.5" y="3172.0">Splice_Site</text><rect x="1781.9" y="3189.5" width="11" height="11" fill="#6a3d9a"/><text class="lg" x="1809.5" y="3204.5">Frame_Shift_Ins</text><rect x="1781.9" y="3222.0" width="11" height="11" fill="#b2526a"/><text class="lg" x="1809.5" y="3237.0">In_Frame_Ins</text><rect x="1781.9" y="3254.5" width="11" height="11" fill="#000000"/><text class="lg" x="1809.5" y="3269.5">Multi_Hit</text><text x="2055.5" y="3206" font-size="38" font-weight="bold" fill="#2e4c9c" textLength="262" lengthAdjust="spacingAndGlyphs">Low risk score</text></g>
</svg>
</body></html>
